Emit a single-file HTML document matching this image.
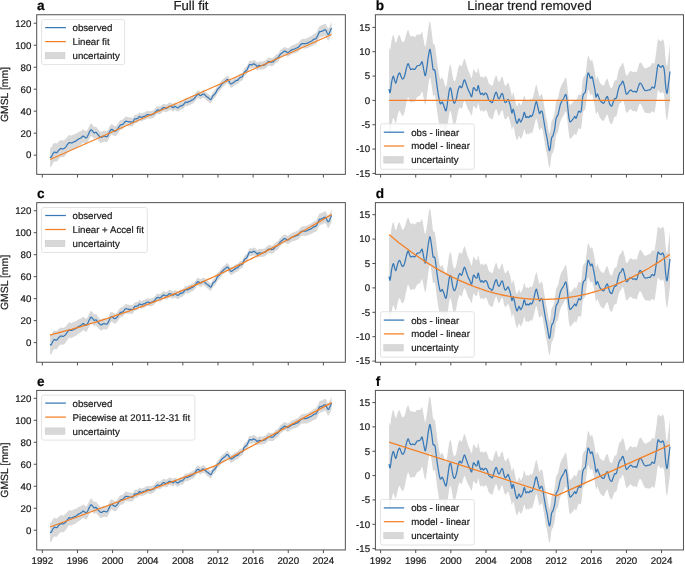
<!DOCTYPE html>
<html><head><meta charset="utf-8"><style>
html,body{margin:0;padding:0;background:#fff;}
body{width:685px;height:564px;overflow:hidden;}
svg{display:block;}
</style></head><body>
<svg width="685" height="564" viewBox="0 0 685 564" font-family='"Liberation Sans", sans-serif' text-rendering="geometricPrecision">
<rect width="685" height="564" fill="#fff"/>
<g opacity="0.999" filter="url(#soft)">
<defs><style>text{stroke:#1a1a1a;stroke-width:0.2px;stroke-linejoin:round}</style>
<clipPath id="cp00"><rect x="36.7" y="14.74" width="308.65" height="159.62"/></clipPath>
<clipPath id="cp01"><rect x="375.4" y="14.74" width="308.05" height="159.62"/></clipPath>
<clipPath id="cp10"><rect x="36.7" y="202.65" width="308.65" height="159.60"/></clipPath>
<clipPath id="cp11"><rect x="375.4" y="202.65" width="308.05" height="159.60"/></clipPath>
<clipPath id="cp20"><rect x="36.7" y="390.4" width="308.65" height="159.55"/></clipPath>
<clipPath id="cp21"><rect x="375.4" y="390.4" width="308.05" height="159.55"/></clipPath>
<filter id="soft" x="0" y="0" width="100%" height="100%" filterUnits="userSpaceOnUse" color-interpolation-filters="sRGB"><feGaussianBlur stdDeviation="0.3"/></filter>
</defs>
<g clip-path="url(#cp00)">
<polygon points="50.1,147.3 50.3,147.5 50.7,147.8 51.1,147.7 51.6,146.9 52.1,145.8 52.6,144.8 53.2,143.9 53.8,143.2 54.4,142.8 55.1,142.9 55.9,143.5 56.7,143.6 57.4,143.1 58.1,142.2 58.8,141.4 59.5,140.8 60.1,140.4 60.6,140.1 61.1,140.1 61.6,140.2 62.1,140.4 62.6,140.4 63.2,140.5 63.7,140.3 64.3,140.0 65.0,139.6 65.6,139.0 66.3,138.3 66.9,137.4 67.5,136.6 68.1,136.0 68.6,135.5 69.1,135.2 69.7,135.1 70.2,135.3 70.6,135.4 71.0,135.4 71.4,135.5 71.8,135.4 72.4,135.1 73.1,134.8 73.8,134.5 74.4,134.2 75.1,134.0 75.9,133.8 76.6,133.3 77.3,132.7 78.1,132.2 78.9,131.9 79.7,131.6 80.4,131.3 80.9,131.0 81.3,130.7 81.8,130.5 82.2,130.1 82.6,129.6 83.1,129.4 83.5,129.5 83.9,129.8 84.3,130.1 84.7,130.5 85.2,130.8 85.6,131.1 85.9,131.3 86.2,131.3 86.6,131.1 87.0,130.5 87.5,129.7 88.0,128.7 88.5,127.7 89.0,126.6 89.5,125.6 90.0,124.7 90.4,124.0 90.9,123.5 91.3,123.5 91.6,123.7 92.0,124.1 92.4,124.6 92.9,125.3 93.3,125.9 93.6,126.4 93.9,126.8 94.2,127.1 94.7,127.0 95.2,126.8 95.7,126.7 96.1,126.8 96.4,127.1 96.7,127.4 97.0,127.8 97.4,128.3 97.8,128.9 98.4,129.6 99.0,130.3 99.6,130.9 100.2,131.4 100.8,131.8 101.4,131.9 102.0,131.7 102.6,131.1 103.2,130.8 103.8,130.7 104.3,130.7 104.9,130.8 105.6,131.0 106.4,131.2 107.1,131.1 107.7,130.4 108.3,129.3 108.8,128.3 109.3,127.3 109.8,126.3 110.2,125.5 110.7,124.9 111.1,124.4 111.5,124.2 111.9,124.2 112.3,124.4 112.7,124.7 113.2,125.1 113.7,125.6 114.1,126.0 114.6,126.2 115.1,126.2 115.6,126.1 116.2,125.7 116.8,125.2 117.3,124.5 117.9,123.7 118.5,122.7 119.1,121.8 119.7,121.0 120.3,120.4 121.0,120.0 121.6,119.8 122.2,119.8 122.8,119.6 123.3,119.1 123.9,118.3 124.5,117.7 124.9,117.2 125.3,116.8 125.8,116.5 126.3,116.5 126.9,116.7 127.5,116.9 128.1,117.1 128.7,117.3 129.3,117.5 129.9,117.5 130.5,117.6 131.1,117.6 131.7,117.7 132.3,117.9 132.9,117.7 133.4,116.9 134.0,115.8 134.6,115.0 135.2,114.7 135.8,114.7 136.4,114.7 137.0,114.6 137.6,114.4 138.2,114.1 138.6,113.6 139.0,112.9 139.4,112.5 139.8,112.6 140.2,112.9 140.6,113.2 141.0,113.3 141.5,113.5 141.9,113.5 142.4,113.3 142.8,112.9 143.3,112.6 143.8,112.5 144.2,112.5 144.7,112.4 145.3,112.1 145.9,111.6 146.5,111.2 147.1,111.0 147.7,110.9 148.3,110.8 148.9,111.0 149.4,111.2 150.0,111.3 150.6,111.2 151.2,111.0 151.8,110.8 152.4,110.7 153.0,110.5 153.6,110.2 154.3,109.5 155.0,108.6 155.7,107.8 156.4,107.1 156.9,106.5 157.5,106.2 158.1,106.2 158.7,106.5 159.2,106.6 159.7,106.6 160.2,106.4 160.7,106.1 161.3,105.6 161.9,105.0 162.4,104.5 162.9,104.1 163.3,103.8 163.7,103.7 164.1,103.8 164.5,104.1 164.9,104.3 165.4,104.4 165.9,104.6 166.3,104.6 166.8,104.4 167.4,104.0 167.9,103.7 168.3,103.3 168.8,102.8 169.3,102.5 169.6,102.5 169.9,102.5 170.3,102.6 170.7,102.7 171.2,102.8 171.8,103.0 172.2,103.4 172.7,103.8 173.2,103.9 173.6,103.6 174.0,102.9 174.4,102.5 174.8,102.5 175.2,102.7 175.7,102.9 176.1,103.2 176.6,103.5 177.1,103.8 177.5,103.9 178.0,104.0 178.5,103.9 179.0,103.3 179.7,102.6 180.3,102.0 180.8,102.0 181.4,102.1 182.0,102.0 182.7,101.5 183.5,100.7 184.2,100.0 184.7,99.3 185.1,98.6 185.6,98.2 186.1,98.3 186.7,98.5 187.2,98.7 187.7,98.5 188.2,98.1 188.7,97.8 189.2,97.7 189.6,97.6 190.1,97.4 190.6,97.1 191.1,96.6 191.5,96.3 191.9,96.2 192.2,96.2 192.6,96.1 193.0,95.8 193.5,95.4 194.0,95.0 194.5,94.5 194.9,93.9 195.4,93.3 195.9,92.5 196.4,91.8 196.9,91.2 197.3,90.7 197.6,90.5 197.9,90.4 198.3,90.5 198.8,90.8 199.3,91.1 199.8,91.4 200.3,91.7 200.8,91.7 201.4,91.4 201.9,90.9 202.4,90.5 202.9,90.2 203.4,90.1 203.8,90.2 204.3,90.5 204.7,90.9 205.1,91.4 205.6,91.9 206.2,92.4 206.7,92.9 207.3,93.2 207.8,93.6 208.3,93.9 208.8,94.3 209.2,94.7 209.6,95.1 210.0,95.4 210.3,95.7 210.6,95.7 211.0,95.6 211.3,95.2 211.6,94.6 212.0,93.8 212.5,92.7 212.9,91.9 213.5,91.3 214.0,91.0 214.6,90.5 215.1,89.8 215.6,89.1 216.2,88.2 216.6,87.3 217.0,86.3 217.5,85.4 218.1,84.8 218.8,84.3 219.5,83.7 220.1,82.8 220.7,81.8 221.4,80.8 222.0,80.1 222.7,79.5 223.4,78.9 224.0,78.3 224.7,77.8 225.3,77.3 225.8,76.8 226.2,76.3 226.7,76.0 227.1,75.8 227.4,75.7 227.8,75.8 228.2,76.3 228.6,76.9 229.1,77.6 229.5,78.3 229.9,79.0 230.3,79.5 230.6,79.8 231.0,80.0 231.4,80.0 231.9,79.8 232.5,79.4 233.1,79.0 233.7,78.5 234.3,78.1 234.9,77.6 235.4,77.3 235.8,76.9 236.2,76.7 236.6,76.6 237.0,76.6 237.4,76.5 237.9,76.2 238.3,75.6 238.8,75.1 239.3,74.6 239.7,74.1 240.2,73.7 240.7,73.5 241.1,73.4 241.5,73.3 241.9,73.1 242.3,72.9 242.7,72.4 243.2,71.3 243.6,69.9 244.1,68.7 244.6,68.1 245.1,67.7 245.5,67.3 246.0,67.0 246.4,66.8 246.8,66.3 247.2,65.6 247.6,64.7 248.0,63.8 248.5,62.8 248.9,61.7 249.4,61.0 249.9,60.7 250.4,60.8 250.9,60.9 251.3,61.0 251.7,61.0 252.1,61.0 252.6,60.7 253.0,60.2 253.4,60.0 253.9,60.0 254.4,60.3 254.8,60.5 255.3,60.8 255.8,61.1 256.2,61.5 256.7,62.0 257.0,62.5 257.4,62.8 257.9,62.5 258.3,61.9 258.7,61.5 259.2,61.4 259.7,61.5 260.1,61.5 260.6,61.6 261.1,61.7 261.6,61.7 262.1,61.6 262.7,61.4 263.4,61.3 264.0,61.1 264.6,60.9 265.2,60.6 265.7,60.2 266.3,59.6 266.9,59.0 267.5,58.5 268.1,57.9 268.7,57.5 269.1,57.4 269.5,57.5 269.9,57.7 270.3,57.8 270.7,58.0 271.2,58.1 271.8,58.1 272.5,57.9 273.2,57.7 273.7,57.2 274.2,56.7 274.7,56.1 275.2,55.6 275.7,55.0 276.2,54.6 276.7,54.3 277.3,54.1 277.9,53.7 278.5,53.0 279.0,52.1 279.6,51.3 280.1,50.6 280.6,50.0 281.1,49.5 281.6,49.1 282.1,48.8 282.6,48.5 283.1,48.0 283.7,47.4 284.3,47.0 284.9,47.0 285.4,47.2 286.0,47.4 286.5,47.7 287.0,48.1 287.5,48.3 288.0,48.3 288.4,48.1 288.9,47.8 289.5,47.4 290.0,46.9 290.6,46.4 291.2,46.0 291.8,45.6 292.4,45.2 293.1,45.0 293.8,44.8 294.5,44.6 295.2,44.3 296.0,43.9 296.6,43.5 297.2,43.3 297.6,43.2 298.1,43.0 298.6,42.5 299.1,41.8 299.6,41.2 300.2,40.6 300.8,39.9 301.3,39.4 301.9,39.1 302.5,38.9 303.0,38.8 303.6,38.7 304.0,38.8 304.5,38.7 305.0,38.7 305.5,38.7 306.0,38.6 306.6,38.4 307.1,38.1 307.7,37.8 308.4,37.5 309.1,37.0 309.9,36.6 310.6,36.2 311.3,35.9 312.0,35.5 312.6,35.0 313.1,34.4 313.7,34.0 314.2,33.7 314.7,33.6 315.2,33.4 315.5,33.3 315.9,33.2 316.3,32.7 316.8,31.8 317.4,30.5 318.0,29.3 318.5,28.2 319.0,27.0 319.5,26.2 320.0,25.8 320.5,25.8 321.0,25.7 321.5,25.5 322.1,25.3 322.7,25.1 323.3,24.7 323.8,24.2 324.4,23.9 324.9,23.8 325.4,23.9 325.9,24.2 326.4,25.1 326.8,26.2 327.3,27.2 327.7,27.8 328.1,28.2 328.6,28.1 329.1,27.4 329.6,26.3 330.1,25.1 330.7,23.9 331.2,22.6 331.6,21.7 331.6,34.3 331.2,35.1 330.7,36.3 330.1,37.5 329.6,38.6 329.1,39.7 328.6,40.4 328.1,40.4 327.7,40.0 327.3,39.3 326.8,38.4 326.4,37.2 325.9,36.3 325.4,35.9 324.9,35.8 324.4,35.8 323.8,36.1 323.3,36.5 322.7,36.8 322.1,37.0 321.5,37.2 321.0,37.3 320.5,37.3 320.0,37.3 319.5,37.6 319.0,38.4 318.5,39.5 318.0,40.6 317.4,41.8 316.8,43.0 316.3,43.9 315.9,44.3 315.5,44.4 315.2,44.5 314.7,44.6 314.2,44.7 313.7,44.9 313.1,45.3 312.6,45.7 312.0,46.1 311.3,46.4 310.6,46.7 309.9,47.0 309.1,47.3 308.4,47.7 307.7,47.9 307.1,48.2 306.6,48.3 306.0,48.4 305.5,48.5 305.0,48.5 304.5,48.4 304.0,48.4 303.6,48.3 303.0,48.3 302.5,48.3 301.9,48.4 301.3,48.7 300.8,49.1 300.2,49.7 299.6,50.3 299.1,50.9 298.6,51.5 298.1,52.0 297.6,52.2 297.2,52.3 296.6,52.4 296.0,52.7 295.2,53.1 294.5,53.4 293.8,53.6 293.1,53.7 292.4,53.9 291.8,54.2 291.2,54.5 290.6,54.9 290.0,55.3 289.5,55.8 288.9,56.2 288.4,56.5 288.0,56.6 287.5,56.7 287.0,56.5 286.5,56.1 286.0,55.8 285.4,55.5 284.9,55.3 284.3,55.3 283.7,55.7 283.1,56.2 282.6,56.8 282.1,57.1 281.6,57.4 281.1,57.7 280.6,58.3 280.1,58.8 279.6,59.5 279.0,60.3 278.5,61.2 277.9,61.9 277.3,62.3 276.7,62.5 276.2,62.8 275.7,63.2 275.2,63.8 274.7,64.3 274.2,64.9 273.7,65.4 273.2,65.8 272.5,66.1 271.8,66.2 271.2,66.2 270.7,66.1 270.3,66.0 269.9,65.8 269.5,65.7 269.1,65.5 268.7,65.6 268.1,66.0 267.5,66.5 266.9,67.1 266.3,67.6 265.7,68.2 265.2,68.6 264.6,68.9 264.0,69.1 263.4,69.2 262.7,69.4 262.1,69.5 261.6,69.6 261.1,69.6 260.6,69.5 260.1,69.4 259.7,69.3 259.2,69.3 258.7,69.3 258.3,69.7 257.9,70.3 257.4,70.6 257.0,70.3 256.7,69.8 256.2,69.3 255.8,68.9 255.3,68.6 254.8,68.3 254.4,68.0 253.9,67.8 253.4,67.7 253.0,67.9 252.6,68.4 252.1,68.7 251.7,68.7 251.3,68.6 250.9,68.6 250.4,68.5 249.9,68.4 249.4,68.7 248.9,69.4 248.5,70.5 248.0,71.5 247.6,72.4 247.2,73.3 246.8,74.0 246.4,74.4 246.0,74.7 245.5,75.0 245.1,75.4 244.6,75.8 244.1,76.4 243.6,77.6 243.2,79.0 242.7,80.1 242.3,80.6 241.9,80.8 241.5,81.0 241.1,81.1 240.7,81.2 240.2,81.4 239.7,81.8 239.3,82.3 238.8,82.8 238.3,83.3 237.9,83.8 237.4,84.2 237.0,84.3 236.6,84.3 236.2,84.3 235.8,84.6 235.4,84.9 234.9,85.3 234.3,85.7 233.7,86.2 233.1,86.6 232.5,87.1 231.9,87.5 231.4,87.7 231.0,87.7 230.6,87.5 230.3,87.2 229.9,86.6 229.5,86.0 229.1,85.3 228.6,84.6 228.2,83.9 227.8,83.5 227.4,83.3 227.1,83.4 226.7,83.6 226.2,84.0 225.8,84.5 225.3,85.0 224.7,85.5 224.0,86.0 223.4,86.5 222.7,87.1 222.0,87.8 221.4,88.5 220.7,89.4 220.1,90.4 219.5,91.3 218.8,92.0 218.1,92.5 217.5,93.1 217.0,94.0 216.6,95.0 216.2,95.9 215.6,96.7 215.1,97.5 214.6,98.1 214.0,98.6 213.5,99.0 212.9,99.5 212.5,100.4 212.0,101.4 211.6,102.3 211.3,102.9 211.0,103.2 210.6,103.4 210.3,103.3 210.0,103.1 209.6,102.7 209.2,102.4 208.8,102.0 208.3,101.5 207.8,101.2 207.3,100.9 206.7,100.5 206.2,100.0 205.6,99.5 205.1,99.0 204.7,98.5 204.3,98.1 203.8,97.8 203.4,97.8 202.9,97.9 202.4,98.1 201.9,98.5 201.4,99.1 200.8,99.4 200.3,99.3 199.8,99.0 199.3,98.7 198.8,98.4 198.3,98.1 197.9,98.0 197.6,98.1 197.3,98.4 196.9,98.8 196.4,99.4 195.9,100.2 195.4,100.9 194.9,101.5 194.5,102.1 194.0,102.6 193.5,103.1 193.0,103.4 192.6,103.7 192.2,103.8 191.9,103.8 191.5,104.0 191.1,104.3 190.6,104.7 190.1,105.0 189.6,105.2 189.2,105.3 188.7,105.4 188.2,105.7 187.7,106.1 187.2,106.3 186.7,106.2 186.1,105.9 185.6,105.8 185.1,106.3 184.7,106.9 184.2,107.6 183.5,108.4 182.7,109.1 182.0,109.6 181.4,109.7 180.8,109.6 180.3,109.7 179.7,110.2 179.0,110.9 178.5,111.5 178.0,111.6 177.5,111.6 177.1,111.4 176.6,111.1 176.1,110.8 175.7,110.5 175.2,110.3 174.8,110.1 174.4,110.1 174.0,110.5 173.6,111.2 173.2,111.5 172.7,111.4 172.2,111.0 171.8,110.6 171.2,110.4 170.7,110.3 170.3,110.2 169.9,110.1 169.6,110.1 169.3,110.1 168.8,110.4 168.3,110.9 167.9,111.3 167.4,111.6 166.8,112.0 166.3,112.2 165.9,112.2 165.4,112.0 164.9,111.9 164.5,111.6 164.1,111.4 163.7,111.3 163.3,111.4 162.9,111.7 162.4,112.1 161.9,112.6 161.3,113.2 160.7,113.7 160.2,114.0 159.7,114.2 159.2,114.2 158.7,114.0 158.1,113.8 157.5,113.7 156.9,114.1 156.4,114.7 155.7,115.4 155.0,116.2 154.3,117.1 153.6,117.8 153.0,118.1 152.4,118.3 151.8,118.4 151.2,118.6 150.6,118.8 150.0,118.9 149.4,118.8 148.9,118.6 148.3,118.5 147.7,118.5 147.1,118.7 146.5,118.9 145.9,119.3 145.3,119.7 144.7,120.1 144.2,120.2 143.8,120.2 143.3,120.3 142.8,120.6 142.4,121.0 141.9,121.3 141.5,121.3 141.0,121.2 140.6,121.0 140.2,120.8 139.8,120.5 139.4,120.5 139.0,120.9 138.6,121.6 138.2,122.2 137.6,122.5 137.0,122.7 136.4,122.8 135.8,122.9 135.2,123.0 134.6,123.3 134.0,124.2 133.4,125.3 132.9,126.1 132.3,126.4 131.7,126.3 131.1,126.2 130.5,126.3 129.9,126.3 129.3,126.4 128.7,126.3 128.1,126.2 127.5,126.1 126.9,126.0 126.3,125.9 125.8,126.0 125.3,126.3 124.9,126.7 124.5,127.2 123.9,127.9 123.3,128.6 122.8,129.2 122.2,129.4 121.6,129.4 121.0,129.6 120.3,130.1 119.7,130.7 119.1,131.5 118.5,132.4 117.9,133.4 117.3,134.3 116.8,135.0 116.2,135.6 115.6,136.0 115.1,136.2 114.6,136.2 114.1,136.1 113.7,135.7 113.2,135.3 112.7,135.0 112.3,134.7 111.9,134.5 111.5,134.6 111.1,134.9 110.7,135.4 110.2,136.0 109.8,136.9 109.3,137.9 108.8,138.9 108.3,140.0 107.7,141.2 107.1,142.0 106.4,142.2 105.6,142.0 104.9,141.8 104.3,141.8 103.8,141.7 103.2,141.8 102.6,142.2 102.0,142.7 101.4,143.0 100.8,142.9 100.2,142.5 99.6,142.0 99.0,141.4 98.4,140.7 97.8,140.1 97.4,139.5 97.0,139.0 96.7,138.6 96.4,138.3 96.1,138.1 95.7,138.0 95.2,138.3 94.7,138.6 94.2,138.8 93.9,138.7 93.6,138.3 93.3,137.9 92.9,137.4 92.4,136.9 92.0,136.5 91.6,136.3 91.3,136.1 90.9,136.2 90.4,136.7 90.0,137.5 89.5,138.4 89.0,139.5 88.5,140.6 88.0,141.7 87.5,142.7 87.0,143.6 86.6,144.2 86.2,144.4 85.9,144.4 85.6,144.2 85.2,144.0 84.7,143.6 84.3,143.3 83.9,143.1 83.5,142.9 83.1,142.8 82.6,143.1 82.2,143.6 81.8,144.1 81.3,144.4 80.9,144.7 80.4,145.1 79.7,145.5 78.9,145.9 78.1,146.4 77.3,147.0 76.6,147.8 75.9,148.4 75.1,148.7 74.4,149.0 73.8,149.3 73.1,149.7 72.4,150.1 71.8,150.3 71.4,150.5 71.0,150.5 70.6,150.4 70.2,150.3 69.7,150.2 69.1,150.3 68.6,150.7 68.1,151.4 67.5,152.2 66.9,153.2 66.3,154.2 65.6,155.2 65.0,155.9 64.3,156.5 63.7,156.9 63.2,157.1 62.6,157.2 62.1,157.2 61.6,157.2 61.1,157.1 60.6,157.2 60.1,157.5 59.5,158.1 58.8,158.9 58.1,159.9 57.4,161.0 56.7,161.7 55.9,161.8 55.1,161.5 54.4,161.5 53.8,162.0 53.2,162.9 52.6,163.8 52.1,164.9 51.6,166.1 51.1,166.9 50.7,167.1 50.3,166.8 50.1,166.6" fill="#d8d8d8" stroke="none"/>
<polyline points="50.1,156.9 50.3,157.2 50.7,157.4 51.1,157.3 51.6,156.5 52.1,155.4 52.6,154.3 53.2,153.4 53.8,152.6 54.4,152.1 55.1,152.2 55.9,152.6 56.7,152.7 57.4,152.0 58.1,151.0 58.8,150.1 59.5,149.5 60.1,149.0 60.6,148.6 61.1,148.6 61.6,148.7 62.1,148.8 62.6,148.8 63.2,148.8 63.7,148.6 64.3,148.3 65.0,147.7 65.6,147.1 66.3,146.3 66.9,145.3 67.5,144.4 68.1,143.7 68.6,143.1 69.1,142.7 69.7,142.7 70.2,142.8 70.6,142.9 71.0,142.9 71.4,143.0 71.8,142.9 72.4,142.6 73.1,142.2 73.8,141.9 74.4,141.6 75.1,141.4 75.9,141.1 76.6,140.5 77.3,139.9 78.1,139.3 78.9,138.9 79.7,138.5 80.4,138.2 80.9,137.9 81.3,137.6 81.8,137.3 82.2,136.8 82.6,136.4 83.1,136.1 83.5,136.2 83.9,136.4 84.3,136.7 84.7,137.0 85.2,137.4 85.6,137.7 85.9,137.8 86.2,137.9 86.6,137.7 87.0,137.1 87.5,136.2 88.0,135.2 88.5,134.2 89.0,133.0 89.5,132.0 90.0,131.1 90.4,130.3 90.9,129.9 91.3,129.8 91.6,130.0 92.0,130.3 92.4,130.8 92.9,131.4 93.3,131.9 93.6,132.3 93.9,132.7 94.2,132.9 94.7,132.8 95.2,132.5 95.7,132.3 96.1,132.4 96.4,132.7 96.7,133.0 97.0,133.4 97.4,133.9 97.8,134.5 98.4,135.1 99.0,135.9 99.6,136.5 100.2,137.0 100.8,137.4 101.4,137.5 102.0,137.2 102.6,136.7 103.2,136.3 103.8,136.2 104.3,136.2 104.9,136.3 105.6,136.5 106.4,136.7 107.1,136.6 107.7,135.8 108.3,134.7 108.8,133.6 109.3,132.6 109.8,131.6 110.2,130.7 110.7,130.1 111.1,129.6 111.5,129.4 111.9,129.4 112.3,129.6 112.7,129.8 113.2,130.2 113.7,130.7 114.1,131.0 114.6,131.2 115.1,131.2 115.6,131.0 116.2,130.7 116.8,130.1 117.3,129.4 117.9,128.5 118.5,127.5 119.1,126.6 119.7,125.9 120.3,125.3 121.0,124.8 121.6,124.6 122.2,124.6 122.8,124.4 123.3,123.8 123.9,123.1 124.5,122.4 124.9,121.9 125.3,121.5 125.8,121.3 126.3,121.2 126.9,121.4 127.5,121.5 128.1,121.7 128.7,121.8 129.3,121.9 129.9,121.9 130.5,121.9 131.1,121.9 131.7,122.0 132.3,122.1 132.9,121.9 133.4,121.1 134.0,120.0 134.6,119.1 135.2,118.8 135.8,118.8 136.4,118.8 137.0,118.6 137.6,118.4 138.2,118.2 138.6,117.6 139.0,116.9 139.4,116.5 139.8,116.5 140.2,116.8 140.6,117.1 141.0,117.3 141.5,117.4 141.9,117.4 142.4,117.1 142.8,116.8 143.3,116.5 143.8,116.4 144.2,116.4 144.7,116.3 145.3,115.9 145.9,115.4 146.5,115.0 147.1,114.8 147.7,114.7 148.3,114.7 148.9,114.8 149.4,115.0 150.0,115.1 150.6,115.0 151.2,114.8 151.8,114.6 152.4,114.5 153.0,114.3 153.6,114.0 154.3,113.3 155.0,112.4 155.7,111.6 156.4,110.9 156.9,110.3 157.5,109.9 158.1,110.0 158.7,110.2 159.2,110.4 159.7,110.4 160.2,110.2 160.7,109.9 161.3,109.4 161.9,108.8 162.4,108.3 162.9,107.9 163.3,107.6 163.7,107.5 164.1,107.6 164.5,107.8 164.9,108.1 165.4,108.2 165.9,108.4 166.3,108.4 166.8,108.2 167.4,107.8 167.9,107.5 168.3,107.1 168.8,106.6 169.3,106.3 169.6,106.3 169.9,106.3 170.3,106.4 170.7,106.5 171.2,106.6 171.8,106.8 172.2,107.2 172.7,107.6 173.2,107.7 173.6,107.4 174.0,106.7 174.4,106.3 174.8,106.3 175.2,106.5 175.7,106.7 176.1,107.0 176.6,107.3 177.1,107.6 177.5,107.7 178.0,107.8 178.5,107.7 179.0,107.1 179.7,106.4 180.3,105.9 180.8,105.8 181.4,105.9 182.0,105.8 182.7,105.3 183.5,104.5 184.2,103.8 184.7,103.1 185.1,102.5 185.6,102.0 186.1,102.1 186.7,102.3 187.2,102.5 187.7,102.3 188.2,101.9 188.7,101.6 189.2,101.5 189.6,101.4 190.1,101.2 190.6,100.9 191.1,100.5 191.5,100.1 191.9,100.0 192.2,100.0 192.6,99.9 193.0,99.6 193.5,99.2 194.0,98.8 194.5,98.3 194.9,97.7 195.4,97.1 195.9,96.4 196.4,95.6 196.9,95.0 197.3,94.6 197.6,94.3 197.9,94.2 198.3,94.3 198.8,94.6 199.3,94.9 199.8,95.2 200.3,95.5 200.8,95.6 201.4,95.2 201.9,94.7 202.4,94.3 202.9,94.1 203.4,94.0 203.8,94.0 204.3,94.3 204.7,94.7 205.1,95.2 205.6,95.7 206.2,96.2 206.7,96.7 207.3,97.1 207.8,97.4 208.3,97.7 208.8,98.1 209.2,98.5 209.6,98.9 210.0,99.2 210.3,99.5 210.6,99.6 211.0,99.4 211.3,99.0 211.6,98.5 212.0,97.6 212.5,96.6 212.9,95.7 213.5,95.2 214.0,94.8 214.6,94.3 215.1,93.6 215.6,92.9 216.2,92.1 216.6,91.1 217.0,90.1 217.5,89.3 218.1,88.6 218.8,88.1 219.5,87.5 220.1,86.6 220.7,85.6 221.4,84.7 222.0,83.9 222.7,83.3 223.4,82.7 224.0,82.2 224.7,81.7 225.3,81.2 225.8,80.7 226.2,80.2 226.7,79.8 227.1,79.6 227.4,79.5 227.8,79.6 228.2,80.1 228.6,80.8 229.1,81.4 229.5,82.1 229.9,82.8 230.3,83.3 230.6,83.7 231.0,83.8 231.4,83.8 231.9,83.6 232.5,83.2 233.1,82.8 233.7,82.4 234.3,81.9 234.9,81.5 235.4,81.1 235.8,80.8 236.2,80.5 236.6,80.4 237.0,80.5 237.4,80.4 237.9,80.0 238.3,79.5 238.8,78.9 239.3,78.4 239.7,77.9 240.2,77.5 240.7,77.3 241.1,77.3 241.5,77.1 241.9,77.0 242.3,76.7 242.7,76.2 243.2,75.1 243.6,73.7 244.1,72.6 244.6,71.9 245.1,71.5 245.5,71.1 246.0,70.9 246.4,70.6 246.8,70.2 247.2,69.5 247.6,68.6 248.0,67.6 248.5,66.6 248.9,65.6 249.4,64.8 249.9,64.6 250.4,64.7 250.9,64.7 251.3,64.8 251.7,64.9 252.1,64.8 252.6,64.5 253.0,64.1 253.4,63.8 253.9,63.9 254.4,64.1 254.8,64.4 255.3,64.7 255.8,65.0 256.2,65.4 256.7,65.9 257.0,66.4 257.4,66.7 257.9,66.4 258.3,65.8 258.7,65.4 259.2,65.3 259.7,65.4 260.1,65.5 260.6,65.5 261.1,65.6 261.6,65.6 262.1,65.5 262.7,65.4 263.4,65.2 264.0,65.1 264.6,64.9 265.2,64.6 265.7,64.2 266.3,63.6 266.9,63.1 267.5,62.5 268.1,61.9 268.7,61.6 269.1,61.5 269.5,61.6 269.9,61.7 270.3,61.9 270.7,62.1 271.2,62.2 271.8,62.1 272.5,62.0 273.2,61.8 273.7,61.3 274.2,60.8 274.7,60.2 275.2,59.7 275.7,59.1 276.2,58.7 276.7,58.4 277.3,58.2 277.9,57.8 278.5,57.1 279.0,56.2 279.6,55.4 280.1,54.7 280.6,54.1 281.1,53.6 281.6,53.2 282.1,53.0 282.6,52.6 283.1,52.1 283.7,51.5 284.3,51.1 284.9,51.1 285.4,51.3 286.0,51.6 286.5,51.9 287.0,52.3 287.5,52.5 288.0,52.5 288.4,52.3 288.9,52.0 289.5,51.6 290.0,51.1 290.6,50.6 291.2,50.2 291.8,49.9 292.4,49.6 293.1,49.3 293.8,49.2 294.5,49.0 295.2,48.7 296.0,48.3 296.6,48.0 297.2,47.8 297.6,47.7 298.1,47.5 298.6,47.0 299.1,46.4 299.6,45.8 300.2,45.1 300.8,44.5 301.3,44.1 301.9,43.8 302.5,43.6 303.0,43.6 303.6,43.5 304.0,43.6 304.5,43.6 305.0,43.6 305.5,43.6 306.0,43.5 306.6,43.4 307.1,43.1 307.7,42.9 308.4,42.6 309.1,42.2 309.9,41.8 310.6,41.5 311.3,41.2 312.0,40.8 312.6,40.3 313.1,39.8 313.7,39.4 314.2,39.2 314.7,39.1 315.2,39.0 315.5,38.9 315.9,38.7 316.3,38.3 316.8,37.4 317.4,36.2 318.0,35.0 318.5,33.8 319.0,32.7 319.5,31.9 320.0,31.6 320.5,31.5 321.0,31.5 321.5,31.4 322.1,31.2 322.7,31.0 323.3,30.6 323.8,30.1 324.4,29.9 324.9,29.8 325.4,29.9 325.9,30.3 326.4,31.1 326.8,32.3 327.3,33.3 327.7,33.9 328.1,34.3 328.6,34.3 329.1,33.6 329.6,32.4 330.1,31.3 330.7,30.1 331.2,28.8 331.6,28.0" fill="none" stroke="#3778b6" stroke-width="1.25" stroke-linejoin="round" stroke-linecap="butt"/>
<polyline points="50.1,159.5 331.6,34.5" fill="none" stroke="#f38026" stroke-width="1.3" stroke-linejoin="round"/>
</g>
<rect x="36.7" y="14.74" width="308.65" height="159.62" fill="none" stroke="#505050" stroke-width="1.0"/>
<path d="M42.30 174.36v3.2 M77.44 174.36v3.2 M112.57 174.36v3.2 M147.71 174.36v3.2 M182.84 174.36v3.2 M217.98 174.36v3.2 M253.12 174.36v3.2 M288.25 174.36v3.2 M323.39 174.36v3.2 M36.70 155.14h-3.0 M36.70 133.16h-3.0 M36.70 111.18h-3.0 M36.70 89.20h-3.0 M36.70 67.22h-3.0 M36.70 45.24h-3.0 M36.70 23.26h-3.0" stroke="#505050" stroke-width="1.0" fill="none"/>
<text x="31.35" y="158.49" font-size="9.7" text-anchor="end" fill="#1a1a1a">0</text>
<text x="31.35" y="136.51" font-size="9.7" text-anchor="end" fill="#1a1a1a">20</text>
<text x="31.35" y="114.53" font-size="9.7" text-anchor="end" fill="#1a1a1a">40</text>
<text x="31.35" y="92.55" font-size="9.7" text-anchor="end" fill="#1a1a1a">60</text>
<text x="31.35" y="70.57" font-size="9.7" text-anchor="end" fill="#1a1a1a">80</text>
<text x="31.35" y="48.59" font-size="9.7" text-anchor="end" fill="#1a1a1a">100</text>
<text x="31.35" y="26.61" font-size="9.7" text-anchor="end" fill="#1a1a1a">120</text>
<text x="37.10" y="10.44" font-size="13.6" font-weight="bold" fill="#000">a</text>
<text transform="translate(7.6 94.55) rotate(-90)" font-size="10.4" text-anchor="middle" fill="#1a1a1a">GMSL [mm]</text>
<g clip-path="url(#cp01)">
<polygon points="389.1,46.2 389.3,47.6 389.7,49.6 390.1,50.1 390.6,47.6 391.1,43.6 391.6,40.1 392.2,37.5 392.8,35.4 393.4,34.7 394.1,37.0 394.9,40.8 395.7,43.1 396.4,42.0 397.1,39.4 397.8,37.2 398.4,36.0 399.0,35.3 399.6,35.1 400.1,36.1 400.6,37.8 401.1,39.3 401.6,40.6 402.1,41.8 402.7,42.3 403.3,42.1 404.0,41.5 404.6,40.3 405.2,38.2 405.9,35.6 406.5,33.4 407.1,31.8 407.6,30.6 408.1,30.1 408.6,30.8 409.1,32.5 409.6,34.0 410.0,35.0 410.4,35.9 410.8,36.4 411.4,36.4 412.0,36.1 412.7,36.0 413.4,36.3 414.1,36.9 414.8,37.1 415.5,36.5 416.3,35.4 417.0,34.6 417.8,34.6 418.6,34.7 419.3,34.8 419.8,34.7 420.3,34.4 420.7,34.1 421.1,33.2 421.6,32.2 422.0,32.0 422.4,33.2 422.8,35.2 423.2,37.4 423.6,39.8 424.1,42.4 424.5,44.4 424.8,45.9 425.1,46.7 425.5,46.5 425.9,44.7 426.4,41.8 426.9,38.6 427.4,35.0 427.9,31.1 428.4,27.6 428.9,24.7 429.4,22.3 429.8,21.1 430.2,21.8 430.5,23.6 430.9,26.1 431.3,29.2 431.8,33.0 432.2,36.3 432.5,39.1 432.8,41.6 433.1,43.4 433.6,44.1 434.1,44.2 434.6,44.7 435.0,46.1 435.3,47.8 435.6,49.9 435.9,52.4 436.3,55.3 436.7,58.7 437.2,62.7 437.9,67.2 438.5,71.1 439.1,74.5 439.7,77.4 440.3,79.2 440.9,79.2 441.5,78.1 442.1,77.5 442.7,78.3 443.2,79.6 443.8,81.1 444.5,83.4 445.3,86.0 446.0,86.9 446.6,84.9 447.2,81.2 447.7,77.5 448.2,74.1 448.7,70.7 449.1,68.0 449.5,66.2 450.0,65.1 450.4,64.8 450.8,65.7 451.2,67.4 451.6,69.5 452.0,72.2 452.5,75.4 453.0,77.9 453.5,79.7 454.0,80.9 454.5,81.3 455.0,80.9 455.6,79.6 456.2,77.7 456.8,75.0 457.4,71.8 458.0,69.0 458.6,67.0 459.2,65.5 459.8,64.7 460.4,65.1 461.0,66.3 461.6,66.6 462.2,65.3 462.8,63.2 463.3,61.4 463.7,60.1 464.2,59.1 464.6,58.8 465.1,59.9 465.7,61.8 466.3,63.9 466.9,65.9 467.5,68.0 468.1,69.9 468.7,71.4 469.3,72.7 469.9,74.0 470.5,75.8 471.1,77.6 471.7,78.0 472.3,75.7 472.8,71.9 473.4,69.4 474.0,69.4 474.6,70.5 475.2,71.5 475.8,72.2 476.4,72.8 477.0,72.7 477.4,71.2 477.8,69.0 478.2,67.9 478.6,69.0 479.0,71.1 479.4,73.1 479.8,74.8 480.3,76.3 480.7,77.2 481.2,77.1 481.6,76.5 482.1,76.1 482.6,76.6 483.0,77.4 483.5,77.9 484.1,77.4 484.7,76.6 485.3,76.1 485.9,76.3 486.5,77.0 487.1,78.0 487.7,79.6 488.2,81.7 488.8,83.3 489.4,84.0 490.0,84.4 490.6,84.6 491.2,85.3 491.8,85.9 492.4,85.7 493.1,83.9 493.8,81.3 494.5,79.0 495.1,77.2 495.7,75.8 496.3,75.4 496.9,76.7 497.5,79.0 498.0,80.8 498.5,81.6 499.0,81.9 499.5,81.6 500.1,80.5 500.7,78.9 501.2,77.6 501.7,76.9 502.1,76.6 502.5,76.9 502.9,78.1 503.3,79.9 503.7,81.6 504.1,83.2 504.6,84.7 505.1,85.7 505.6,85.8 506.1,85.3 506.6,84.7 507.1,83.9 507.6,82.9 508.0,82.5 508.3,82.8 508.6,83.6 509.0,84.7 509.5,86.0 510.0,87.7 510.5,89.6 511.0,92.1 511.5,94.8 511.9,96.4 512.3,95.5 512.7,93.4 513.1,92.3 513.5,93.0 514.0,94.7 514.4,96.7 514.9,98.9 515.3,101.3 515.8,103.4 516.3,104.9 516.7,106.1 517.2,106.4 517.8,105.2 518.4,103.2 519.0,101.9 519.6,102.7 520.1,104.4 520.7,105.1 521.4,104.2 522.2,102.5 522.9,100.6 523.4,98.6 523.8,96.4 524.3,95.4 524.8,96.6 525.4,99.0 525.9,100.6 526.4,100.7 526.9,100.1 527.4,99.7 527.9,100.0 528.3,100.5 528.8,100.6 529.3,100.1 529.8,99.2 530.2,98.7 530.6,98.9 530.9,99.5 531.3,99.7 531.7,99.4 532.2,98.7 532.7,97.7 533.2,96.3 533.6,94.7 534.1,92.8 534.6,90.6 535.1,88.2 535.6,86.4 536.0,85.3 536.3,84.7 536.6,85.0 537.0,86.4 537.5,88.7 538.0,90.9 538.5,93.1 539.0,95.4 539.5,96.7 540.0,96.3 540.6,95.0 541.1,94.2 541.6,94.2 542.0,94.6 542.5,95.8 542.9,97.9 543.3,100.6 543.8,103.6 544.3,106.7 544.9,110.1 545.4,113.3 545.9,116.0 546.5,118.5 547.0,121.1 547.5,123.8 547.9,126.5 548.3,128.9 548.7,131.0 549.0,132.8 549.3,133.8 549.6,133.6 549.9,132.6 550.3,130.9 550.7,127.9 551.1,124.1 551.6,121.1 552.1,119.7 552.7,119.2 553.2,118.2 553.7,116.3 554.3,114.0 554.8,111.4 555.2,108.1 555.6,104.5 556.1,101.6 556.7,100.0 557.4,99.1 558.1,97.6 558.7,94.9 559.4,91.7 560.0,88.8 560.7,86.9 561.3,85.4 562.0,84.0 562.7,82.9 563.3,82.0 563.9,81.0 564.4,79.8 564.9,78.5 565.3,77.7 565.7,77.5 566.0,77.8 566.4,79.1 566.8,82.0 567.3,85.8 567.7,89.7 568.1,93.5 568.5,97.3 568.9,100.4 569.3,102.6 569.6,104.0 570.0,104.8 570.5,104.9 571.1,104.3 571.7,103.6 572.3,102.9 572.9,102.1 573.5,101.3 574.0,100.5 574.4,99.8 574.8,99.5 575.2,100.0 575.6,101.0 576.0,101.3 576.5,100.5 576.9,99.1 577.4,97.7 577.9,96.4 578.3,95.0 578.8,94.2 579.2,94.3 579.7,94.8 580.1,95.1 580.5,95.1 580.9,94.8 581.3,93.3 581.8,89.3 582.2,84.1 582.7,80.0 583.2,78.0 583.6,77.1 584.1,76.4 584.5,75.9 585.0,75.7 585.4,74.7 585.8,72.3 586.2,69.1 586.6,65.8 587.0,62.1 587.5,58.3 588.0,56.0 588.5,55.9 589.0,57.3 589.5,58.7 589.9,59.7 590.3,60.8 590.7,61.4 591.1,60.8 591.6,59.8 592.0,59.5 592.5,60.7 592.9,62.6 593.4,64.7 593.9,66.9 594.3,69.3 594.8,71.8 595.2,74.8 595.6,77.8 596.0,79.7 596.4,79.3 596.9,77.6 597.3,76.6 597.8,77.1 598.2,78.3 598.7,79.6 599.2,80.7 599.6,81.9 600.1,83.0 600.7,83.7 601.3,84.2 601.9,84.7 602.5,85.2 603.1,85.6 603.7,85.5 604.3,84.6 604.8,83.1 605.4,81.8 606.0,80.4 606.6,79.2 607.2,78.6 607.6,79.1 608.0,80.3 608.4,81.6 608.8,83.1 609.2,84.7 609.7,86.1 610.3,87.1 611.0,88.0 611.7,88.1 612.2,87.2 612.7,85.7 613.2,84.2 613.7,82.8 614.2,81.4 614.7,80.3 615.3,80.2 615.8,80.4 616.4,79.9 617.0,77.8 617.5,74.9 618.1,72.3 618.6,70.4 619.1,68.7 619.6,67.4 620.1,66.7 620.6,66.4 621.1,65.9 621.7,64.7 622.2,63.2 622.8,62.7 623.4,63.8 623.9,65.8 624.5,68.0 625.0,70.4 625.5,73.0 626.0,74.9 626.5,75.6 626.9,75.6 627.4,75.2 627.9,74.4 628.5,73.3 629.1,72.4 629.7,71.7 630.3,71.1 630.9,70.8 631.6,71.2 632.3,71.8 633.0,72.2 633.7,72.1 634.4,71.7 635.1,71.5 635.6,71.8 636.1,72.3 636.6,72.1 637.1,70.8 637.6,69.0 638.1,67.2 638.7,65.5 639.2,63.8 639.8,62.7 640.4,62.4 640.9,62.7 641.5,63.3 642.0,64.0 642.5,65.0 643.0,66.0 643.5,66.8 644.0,67.6 644.5,68.1 645.0,68.3 645.6,68.3 646.2,68.2 646.9,67.9 647.6,67.4 648.3,67.0 649.0,66.7 649.7,66.5 650.4,66.0 651.0,65.0 651.6,63.7 652.1,62.9 652.6,62.8 653.1,63.2 653.6,63.4 654.0,63.5 654.3,63.5 654.7,62.3 655.2,59.1 655.8,54.8 656.4,50.6 656.9,46.5 657.4,42.5 657.9,39.7 658.4,39.1 658.9,39.8 659.4,40.5 660.0,40.8 660.5,41.2 661.1,41.2 661.7,40.5 662.2,39.6 662.8,39.3 663.3,39.9 663.8,41.2 664.3,43.7 664.8,48.5 665.2,54.5 665.7,59.5 666.1,63.0 666.6,65.6 667.0,66.2 667.5,64.0 668.0,59.9 668.5,55.7 669.1,51.4 669.6,46.9 670.0,43.7 670.0,99.3 669.6,102.3 669.1,106.6 668.5,110.7 668.0,114.8 667.5,118.6 667.0,120.6 666.6,119.8 666.1,117.1 665.7,113.3 665.2,108.2 664.8,102.0 664.3,97.1 663.8,94.3 663.3,92.9 662.8,92.1 662.2,92.1 661.7,92.8 661.1,93.2 660.5,93.0 660.0,92.4 659.4,91.9 658.9,91.0 658.4,90.1 657.9,90.5 657.4,93.0 656.9,96.9 656.4,100.8 655.8,104.8 655.2,108.8 654.7,111.7 654.3,112.8 654.0,112.7 653.6,112.4 653.1,112.0 652.6,111.4 652.1,111.1 651.6,111.7 651.0,112.6 650.4,113.2 649.7,113.3 649.0,113.2 648.3,113.0 647.6,113.0 646.9,113.1 646.2,113.0 645.6,112.8 645.0,112.4 644.5,111.9 644.0,111.0 643.5,110.0 643.0,108.8 642.5,107.6 642.0,106.4 641.5,105.3 640.9,104.4 640.4,103.8 639.8,103.7 639.2,104.6 638.7,106.1 638.1,107.6 637.6,109.3 637.1,111.0 636.6,112.1 636.1,112.1 635.6,111.5 635.1,111.1 634.4,111.1 633.7,111.3 633.0,111.2 632.3,110.5 631.6,109.7 630.9,109.2 630.3,109.2 629.7,109.6 629.1,110.2 628.5,111.0 627.9,111.9 627.4,112.4 626.9,112.7 626.5,112.6 626.0,111.9 625.5,110.0 625.0,107.3 624.5,104.8 623.9,102.6 623.4,100.6 622.8,99.5 622.2,100.0 621.7,101.4 621.1,102.7 620.6,103.1 620.1,103.4 619.6,104.0 619.1,105.3 618.6,106.9 618.1,108.9 617.5,111.4 617.0,114.3 616.4,116.3 615.8,116.8 615.3,116.6 614.7,116.7 614.2,117.7 613.7,119.0 613.2,120.4 612.7,121.9 612.2,123.4 611.7,124.3 611.0,124.1 610.3,123.3 609.7,122.1 609.2,120.7 608.8,119.1 608.4,117.6 608.0,116.2 607.6,115.0 607.2,114.4 606.6,114.9 606.0,116.2 605.4,117.4 604.8,118.7 604.3,120.1 603.7,120.9 603.1,121.0 602.5,120.5 601.9,119.9 601.3,119.4 600.7,118.8 600.1,118.0 599.6,116.9 599.2,115.7 598.7,114.4 598.2,113.2 597.8,111.9 597.3,111.4 596.9,112.3 596.4,113.9 596.0,114.3 595.6,112.4 595.2,109.3 594.8,106.2 594.3,103.7 593.9,101.3 593.4,99.1 592.9,96.9 592.5,94.9 592.0,93.7 591.6,93.9 591.1,94.9 590.7,95.4 590.3,94.9 589.9,93.8 589.5,92.7 589.0,91.4 588.5,90.0 588.0,90.0 587.5,92.4 587.0,96.2 586.6,99.8 586.2,103.1 585.8,106.3 585.4,108.7 585.0,109.8 584.5,110.0 584.1,110.4 583.6,111.1 583.2,112.0 582.7,114.0 582.2,118.2 581.8,123.4 581.3,127.3 580.9,128.9 580.5,129.1 580.1,129.1 579.7,128.8 579.2,128.3 578.8,128.2 578.3,129.0 577.9,130.4 577.4,131.7 576.9,133.1 576.5,134.5 576.0,135.3 575.6,135.0 575.2,134.0 574.8,133.5 574.4,133.8 574.0,134.5 573.5,135.3 572.9,136.1 572.3,136.9 571.7,137.6 571.1,138.3 570.5,138.8 570.0,138.8 569.6,138.0 569.3,136.5 568.9,134.4 568.5,131.3 568.1,127.5 567.7,123.7 567.3,119.8 566.8,115.9 566.4,113.1 566.0,111.8 565.7,111.5 565.3,111.7 564.9,112.4 564.4,113.7 563.9,115.0 563.3,115.9 562.7,116.8 562.0,118.0 561.3,119.3 560.7,120.8 560.0,122.8 559.4,125.6 558.7,128.8 558.1,131.6 557.4,133.0 556.7,133.9 556.1,135.4 555.6,138.4 555.2,142.0 554.8,145.2 554.3,147.9 553.7,150.2 553.2,152.0 552.7,153.0 552.1,153.6 551.6,154.9 551.1,157.9 550.7,161.7 550.3,164.7 549.9,166.5 549.6,167.5 549.3,167.6 549.0,166.7 548.7,164.9 548.3,162.7 547.9,160.3 547.5,157.6 547.0,154.9 546.5,152.4 545.9,149.9 545.4,147.1 544.9,144.0 544.3,140.6 543.8,137.4 543.3,134.4 542.9,131.7 542.5,129.6 542.0,128.5 541.6,128.0 541.1,128.0 540.6,128.8 540.0,130.1 539.5,130.5 539.0,129.2 538.5,127.0 538.0,124.7 537.5,122.5 537.0,120.2 536.6,118.8 536.3,118.5 536.0,119.1 535.6,120.2 535.1,122.0 534.6,124.4 534.1,126.6 533.6,128.4 533.2,130.1 532.7,131.5 532.2,132.5 531.7,133.2 531.3,133.5 530.9,133.3 530.6,132.7 530.2,132.5 529.8,133.0 529.3,133.8 528.8,134.4 528.3,134.2 527.9,133.7 527.4,133.5 526.9,133.9 526.4,134.5 525.9,134.4 525.4,132.7 524.8,130.4 524.3,129.2 523.8,130.2 523.4,132.3 522.9,134.4 522.2,136.2 521.4,138.0 520.7,138.9 520.1,138.1 519.6,136.4 519.0,135.7 518.4,136.9 517.8,138.9 517.2,140.2 516.7,139.8 516.3,138.6 515.8,137.0 515.3,135.0 514.9,132.5 514.4,130.3 514.0,128.4 513.5,126.7 513.1,125.9 512.7,127.1 512.3,129.2 511.9,130.0 511.5,128.5 511.0,125.8 510.5,123.2 510.0,121.4 509.5,119.7 509.0,118.3 508.6,117.2 508.3,116.4 508.0,116.1 507.6,116.6 507.1,117.5 506.6,118.3 506.1,118.9 505.6,119.4 505.1,119.3 504.6,118.4 504.1,116.8 503.7,115.2 503.3,113.5 502.9,111.7 502.5,110.5 502.1,110.2 501.7,110.5 501.2,111.2 500.7,112.5 500.1,114.1 499.5,115.2 499.0,115.5 498.5,115.2 498.0,114.4 497.5,112.6 496.9,110.3 496.3,109.0 495.7,109.4 495.1,110.8 494.5,112.6 493.8,114.9 493.1,117.5 492.4,119.3 491.8,119.6 491.2,119.0 490.6,118.4 490.0,118.1 489.4,117.8 488.8,117.1 488.2,115.5 487.7,113.5 487.1,111.8 486.5,110.9 485.9,110.3 485.3,110.1 484.7,110.5 484.1,111.4 483.5,111.9 483.0,111.5 482.6,110.6 482.1,110.1 481.6,110.5 481.2,111.3 480.7,111.6 480.3,110.8 479.8,109.4 479.4,107.9 479.0,106.0 478.6,104.0 478.2,103.1 477.8,104.3 477.4,106.6 477.0,108.3 476.4,108.5 475.8,108.1 475.2,107.7 474.6,106.8 474.0,105.9 473.4,106.2 472.8,108.9 472.3,112.9 471.7,115.4 471.1,115.2 470.5,113.7 469.9,112.2 469.3,111.3 468.7,110.4 468.1,109.3 467.5,107.9 466.9,106.3 466.3,104.7 465.7,103.1 465.1,101.6 464.6,100.8 464.2,101.1 463.7,102.2 463.3,103.6 462.8,105.4 462.2,107.6 461.6,109.0 461.0,108.7 460.4,107.7 459.8,107.3 459.2,108.2 458.6,109.9 458.0,112.0 457.4,114.8 456.8,118.1 456.2,120.9 455.6,122.9 455.0,124.3 454.5,125.1 454.0,124.9 453.5,124.0 453.0,122.5 452.5,120.2 452.0,117.3 451.6,114.9 451.2,113.0 450.8,111.4 450.4,110.8 450.0,111.2 449.5,112.6 449.1,114.6 448.7,117.5 448.2,121.1 447.7,124.7 447.2,128.7 446.6,132.6 446.0,134.9 445.3,134.4 444.5,132.1 443.8,129.9 443.2,128.4 442.7,127.1 442.1,126.5 441.5,127.1 440.9,128.3 440.3,128.4 439.7,126.6 439.1,123.8 438.5,120.5 437.9,116.5 437.2,112.1 436.7,108.1 436.3,104.8 435.9,102.0 435.6,99.5 435.3,97.4 435.0,95.8 434.6,94.9 434.1,95.0 433.6,95.7 433.1,95.6 432.8,94.2 432.5,92.1 432.2,89.7 431.8,86.8 431.3,83.7 430.9,81.1 430.5,79.1 430.2,77.7 429.8,77.5 429.4,78.9 428.9,81.5 428.4,84.6 427.9,88.2 427.4,92.2 426.9,96.0 426.4,99.4 425.9,102.4 425.5,104.3 425.1,104.7 424.8,103.9 424.5,102.6 424.1,100.7 423.6,98.2 423.2,96.0 422.8,94.1 422.4,92.3 422.0,91.4 421.6,91.9 421.1,93.2 420.7,94.3 420.3,95.0 419.8,95.5 419.3,96.0 418.6,96.3 417.8,96.7 417.0,97.4 416.3,98.7 415.5,100.4 414.8,101.7 414.1,102.0 413.4,101.8 412.7,101.6 412.0,102.0 411.4,102.5 410.8,102.6 410.4,102.2 410.0,101.5 409.6,100.6 409.1,99.3 408.6,97.8 408.1,97.1 407.6,98.0 407.1,100.0 406.5,102.4 405.9,105.4 405.2,108.8 404.6,111.7 404.0,113.8 403.3,115.2 402.7,115.9 402.1,115.7 401.6,114.8 401.1,113.9 400.6,112.7 400.1,111.3 399.6,110.7 399.0,111.3 398.4,112.8 397.8,114.8 397.1,117.8 396.4,121.4 395.7,123.3 394.9,122.1 394.1,119.2 393.4,117.7 392.8,118.8 392.2,121.3 391.6,124.3 391.1,128.2 390.6,132.5 390.1,135.3 389.7,135.1 389.3,133.3 389.1,131.8" fill="#d8d8d8" stroke="none"/>
<polyline points="389.1,89.0 389.3,90.5 389.7,92.4 390.1,92.7 390.6,90.1 391.1,85.9 391.6,82.2 392.2,79.4 392.8,77.1 393.4,76.2 394.1,78.1 394.9,81.4 395.7,83.2 396.4,81.7 397.1,78.6 397.8,76.0 398.4,74.4 399.0,73.3 399.6,72.9 400.1,73.7 400.6,75.2 401.1,76.6 401.6,77.7 402.1,78.7 402.7,79.1 403.3,78.7 404.0,77.6 404.6,76.0 405.2,73.5 405.9,70.5 406.5,67.9 407.1,65.9 407.6,64.3 408.1,63.6 408.6,64.3 409.1,65.9 409.6,67.3 410.0,68.3 410.4,69.0 410.8,69.5 411.4,69.4 412.0,69.0 412.7,68.8 413.4,69.1 414.1,69.4 414.8,69.4 415.5,68.5 416.3,67.1 417.0,66.0 417.8,65.6 418.6,65.5 419.3,65.4 419.8,65.1 420.3,64.7 420.7,64.2 421.1,63.2 421.6,62.0 422.0,61.7 422.4,62.7 422.8,64.6 423.2,66.7 423.6,69.0 424.1,71.5 424.5,73.5 424.8,74.9 425.1,75.7 425.5,75.4 425.9,73.6 426.4,70.6 426.9,67.3 427.4,63.6 427.9,59.6 428.4,56.1 428.9,53.1 429.4,50.6 429.8,49.3 430.2,49.7 430.5,51.4 430.9,53.6 431.3,56.5 431.8,59.9 432.2,63.0 432.5,65.6 432.8,67.9 433.1,69.5 433.6,69.9 434.1,69.6 434.6,69.8 435.0,71.0 435.3,72.6 435.6,74.7 435.9,77.2 436.3,80.1 436.7,83.4 437.2,87.4 437.9,91.9 438.5,95.8 439.1,99.2 439.7,102.0 440.3,103.8 440.9,103.7 441.5,102.6 442.1,102.0 442.7,102.7 443.2,104.0 443.8,105.5 444.5,107.7 445.3,110.2 446.0,110.9 446.6,108.8 447.2,104.9 447.7,101.1 448.2,97.6 448.7,94.1 449.1,91.3 449.5,89.4 450.0,88.1 450.4,87.8 450.8,88.5 451.2,90.2 451.6,92.2 452.0,94.8 452.5,97.8 453.0,100.2 453.5,101.8 454.0,102.9 454.5,103.2 455.0,102.6 455.6,101.2 456.2,99.3 456.8,96.6 457.4,93.3 458.0,90.5 458.6,88.4 459.2,86.9 459.8,86.0 460.4,86.4 461.0,87.5 461.6,87.8 462.2,86.5 462.8,84.3 463.3,82.5 463.7,81.1 464.2,80.1 464.6,79.8 465.1,80.7 465.7,82.5 466.3,84.3 466.9,86.1 467.5,87.9 468.1,89.6 468.7,90.9 469.3,92.0 469.9,93.1 470.5,94.8 471.1,96.4 471.7,96.7 472.3,94.3 472.8,90.4 473.4,87.8 474.0,87.6 474.6,88.7 475.2,89.6 475.8,90.2 476.4,90.7 477.0,90.5 477.4,88.9 477.8,86.6 478.2,85.5 478.6,86.5 479.0,88.5 479.4,90.5 479.8,92.1 480.3,93.5 480.7,94.4 481.2,94.2 481.6,93.5 482.1,93.1 482.6,93.6 483.0,94.5 483.5,94.9 484.1,94.4 484.7,93.6 485.3,93.1 485.9,93.3 486.5,93.9 487.1,94.9 487.7,96.6 488.2,98.6 488.8,100.2 489.4,100.9 490.0,101.2 490.6,101.5 491.2,102.1 491.8,102.7 492.4,102.5 493.1,100.7 493.8,98.1 494.5,95.8 495.1,94.0 495.7,92.6 496.3,92.2 496.9,93.5 497.5,95.8 498.0,97.6 498.5,98.4 499.0,98.7 499.5,98.4 500.1,97.3 500.7,95.7 501.2,94.4 501.7,93.7 502.1,93.4 502.5,93.7 502.9,94.9 503.3,96.7 503.7,98.4 504.1,100.0 504.6,101.5 505.1,102.5 505.6,102.6 506.1,102.1 506.6,101.5 507.1,100.7 507.6,99.8 508.0,99.3 508.3,99.6 508.6,100.4 509.0,101.5 509.5,102.9 510.0,104.5 510.5,106.4 511.0,108.9 511.5,111.7 511.9,113.2 512.3,112.3 512.7,110.2 513.1,109.1 513.5,109.9 514.0,111.5 514.4,113.5 514.9,115.7 515.3,118.1 515.8,120.2 516.3,121.8 516.7,123.0 517.2,123.3 517.8,122.1 518.4,120.0 519.0,118.8 519.6,119.6 520.1,121.2 520.7,122.0 521.4,121.1 522.2,119.3 522.9,117.5 523.4,115.4 523.8,113.3 524.3,112.3 524.8,113.5 525.4,115.8 525.9,117.5 526.4,117.6 526.9,117.0 527.4,116.6 527.9,116.9 528.3,117.3 528.8,117.5 529.3,117.0 529.8,116.1 530.2,115.6 530.6,115.8 530.9,116.4 531.3,116.6 531.7,116.3 532.2,115.6 532.7,114.6 533.2,113.2 533.6,111.6 534.1,109.7 534.6,107.5 535.1,105.1 535.6,103.3 536.0,102.2 536.3,101.6 536.6,101.9 537.0,103.3 537.5,105.6 538.0,107.8 538.5,110.0 539.0,112.3 539.5,113.6 540.0,113.2 540.6,111.9 541.1,111.1 541.6,111.1 542.0,111.6 542.5,112.7 542.9,114.8 543.3,117.5 543.8,120.5 544.3,123.7 544.9,127.0 545.4,130.2 545.9,132.9 546.5,135.5 547.0,138.0 547.5,140.7 547.9,143.4 548.3,145.8 548.7,147.9 549.0,149.8 549.3,150.7 549.6,150.6 549.9,149.6 550.3,147.8 550.7,144.8 551.1,141.0 551.6,138.0 552.1,136.7 552.7,136.1 553.2,135.1 553.7,133.2 554.3,130.9 554.8,128.3 555.2,125.0 555.6,121.4 556.1,118.5 556.7,116.9 557.4,116.0 558.1,114.6 558.7,111.9 559.4,108.6 560.0,105.8 560.7,103.8 561.3,102.3 562.0,101.0 562.7,99.9 563.3,99.0 563.9,98.0 564.4,96.7 564.9,95.5 565.3,94.7 565.7,94.5 566.0,94.8 566.4,96.1 566.8,98.9 567.3,102.8 567.7,106.7 568.1,110.5 568.5,114.3 568.9,117.4 569.3,119.5 569.6,121.0 570.0,121.8 570.5,121.9 571.1,121.3 571.7,120.6 572.3,119.9 572.9,119.1 573.5,118.3 574.0,117.5 574.4,116.8 574.8,116.5 575.2,117.0 575.6,118.0 576.0,118.3 576.5,117.5 576.9,116.1 577.4,114.7 577.9,113.4 578.3,112.0 578.8,111.2 579.2,111.3 579.7,111.8 580.1,112.1 580.5,112.1 580.9,111.9 581.3,110.3 581.8,106.4 582.2,101.1 582.7,97.0 583.2,95.0 583.6,94.1 584.1,93.4 584.5,93.0 585.0,92.7 585.4,91.7 585.8,89.3 586.2,86.1 586.6,82.8 587.0,79.1 587.5,75.4 588.0,73.0 588.5,73.0 589.0,74.3 589.5,75.7 589.9,76.8 590.3,77.8 590.7,78.4 591.1,77.9 591.6,76.8 592.0,76.6 592.5,77.8 592.9,79.7 593.4,81.9 593.9,84.1 594.3,86.5 594.8,89.0 595.2,92.0 595.6,95.1 596.0,97.0 596.4,96.6 596.9,95.0 597.3,94.0 597.8,94.5 598.2,95.7 598.7,97.0 599.2,98.2 599.6,99.4 600.1,100.5 600.7,101.3 601.3,101.8 601.9,102.3 602.5,102.8 603.1,103.3 603.7,103.2 604.3,102.3 604.8,100.9 605.4,99.6 606.0,98.3 606.6,97.1 607.2,96.5 607.6,97.0 608.0,98.2 608.4,99.6 608.8,101.1 609.2,102.7 609.7,104.1 610.3,105.2 611.0,106.0 611.7,106.2 612.2,105.3 612.7,103.8 613.2,102.3 613.7,100.9 614.2,99.5 614.7,98.5 615.3,98.4 615.8,98.6 616.4,98.1 617.0,96.0 617.5,93.2 618.1,90.6 618.6,88.6 619.1,87.0 619.6,85.7 620.1,85.0 620.6,84.8 621.1,84.3 621.7,83.1 622.2,81.6 622.8,81.1 623.4,82.2 623.9,84.2 624.5,86.4 625.0,88.9 625.5,91.5 626.0,93.4 626.5,94.1 626.9,94.1 627.4,93.8 627.9,93.1 628.5,92.2 629.1,91.3 629.7,90.7 630.3,90.2 630.9,90.0 631.6,90.4 632.3,91.2 633.0,91.7 633.7,91.7 634.4,91.4 635.1,91.3 635.6,91.7 636.1,92.2 636.6,92.1 637.1,90.9 637.6,89.1 638.1,87.4 638.7,85.8 639.2,84.2 639.8,83.2 640.4,83.1 640.9,83.6 641.5,84.3 642.0,85.2 642.5,86.3 643.0,87.4 643.5,88.4 644.0,89.3 644.5,90.0 645.0,90.4 645.6,90.6 646.2,90.6 646.9,90.5 647.6,90.2 648.3,90.0 649.0,89.9 649.7,89.9 650.4,89.6 651.0,88.8 651.6,87.7 652.1,87.0 652.6,87.1 653.1,87.6 653.6,87.9 654.0,88.1 654.3,88.1 654.7,87.0 655.2,84.0 655.8,79.8 656.4,75.7 656.9,71.7 657.4,67.7 657.9,65.1 658.4,64.6 658.9,65.4 659.4,66.2 660.0,66.6 660.5,67.1 661.1,67.2 661.7,66.7 662.2,65.8 662.8,65.7 663.3,66.4 663.8,67.8 664.3,70.4 664.8,75.2 665.2,81.3 665.7,86.4 666.1,90.0 666.6,92.7 667.0,93.4 667.5,91.3 668.0,87.3 668.5,83.2 669.1,79.0 669.6,74.6 670.0,71.5" fill="none" stroke="#3778b6" stroke-width="1.25" stroke-linejoin="round" stroke-linecap="butt"/>
<polyline points="389.1,100.4 670.0,100.4" fill="none" stroke="#f38026" stroke-width="1.3" stroke-linejoin="round"/>
</g>
<rect x="375.4" y="14.74" width="308.05" height="159.62" fill="none" stroke="#505050" stroke-width="1.0"/>
<path d="M380.60 174.36v3.2 M415.72 174.36v3.2 M450.84 174.36v3.2 M485.96 174.36v3.2 M521.08 174.36v3.2 M556.20 174.36v3.2 M591.32 174.36v3.2 M626.44 174.36v3.2 M661.56 174.36v3.2 M375.40 173.42h-3.0 M375.40 149.08h-3.0 M375.40 124.74h-3.0 M375.40 100.40h-3.0 M375.40 76.06h-3.0 M375.40 51.72h-3.0 M375.40 27.38h-3.0" stroke="#505050" stroke-width="1.0" fill="none"/>
<text x="370.05" y="176.77" font-size="9.7" text-anchor="end" fill="#1a1a1a">-15</text>
<text x="370.05" y="152.43" font-size="9.7" text-anchor="end" fill="#1a1a1a">-10</text>
<text x="370.05" y="128.09" font-size="9.7" text-anchor="end" fill="#1a1a1a">-5</text>
<text x="370.05" y="103.75" font-size="9.7" text-anchor="end" fill="#1a1a1a">0</text>
<text x="370.05" y="79.41" font-size="9.7" text-anchor="end" fill="#1a1a1a">5</text>
<text x="370.05" y="55.07" font-size="9.7" text-anchor="end" fill="#1a1a1a">10</text>
<text x="370.05" y="30.73" font-size="9.7" text-anchor="end" fill="#1a1a1a">15</text>
<text x="375.80" y="10.44" font-size="13.6" font-weight="bold" fill="#000">b</text>
<g clip-path="url(#cp10)">
<polygon points="50.1,334.7 50.3,334.9 50.7,335.2 51.1,335.2 51.6,334.4 52.1,333.3 52.6,332.2 53.2,331.4 53.8,330.7 54.4,330.2 55.1,330.4 55.9,330.9 56.7,331.1 57.4,330.5 58.1,329.6 58.8,328.8 59.5,328.3 60.1,327.8 60.6,327.6 61.1,327.5 61.6,327.7 62.1,327.8 62.6,327.9 63.2,327.9 63.7,327.8 64.3,327.5 65.0,327.0 65.6,326.5 66.3,325.7 66.9,324.9 67.5,324.1 68.1,323.5 68.6,323.0 69.1,322.6 69.7,322.6 70.2,322.7 70.6,322.8 71.0,322.9 71.4,322.9 71.8,322.9 72.4,322.6 73.1,322.2 73.8,321.9 74.4,321.7 75.1,321.5 75.9,321.2 76.6,320.8 77.3,320.2 78.1,319.7 78.9,319.3 79.7,319.0 80.4,318.7 80.9,318.4 81.3,318.2 81.8,317.9 82.2,317.5 82.6,317.1 83.1,316.9 83.5,317.0 83.9,317.2 84.3,317.6 84.7,317.9 85.2,318.3 85.6,318.6 85.9,318.7 86.2,318.8 86.6,318.6 87.0,318.0 87.5,317.1 88.0,316.2 88.5,315.2 89.0,314.0 89.5,313.1 90.0,312.2 90.4,311.4 90.9,310.9 91.3,310.9 91.6,311.2 92.0,311.6 92.4,312.1 92.9,312.7 93.3,313.3 93.6,313.8 93.9,314.3 94.2,314.5 94.7,314.5 95.2,314.2 95.7,314.1 96.1,314.3 96.4,314.5 96.7,314.9 97.0,315.3 97.4,315.8 97.8,316.4 98.4,317.0 99.0,317.8 99.6,318.4 100.2,318.9 100.8,319.3 101.4,319.4 102.0,319.1 102.6,318.6 103.2,318.2 103.8,318.1 104.3,318.2 104.9,318.3 105.6,318.5 106.4,318.7 107.1,318.6 107.7,317.9 108.3,316.8 108.8,315.7 109.3,314.7 109.8,313.8 110.2,313.0 110.7,312.3 111.1,311.9 111.5,311.7 111.9,311.7 112.3,311.9 112.7,312.2 113.2,312.6 113.7,313.1 114.1,313.5 114.6,313.6 115.1,313.7 115.6,313.6 116.2,313.2 116.8,312.7 117.3,312.0 117.9,311.1 118.5,310.1 119.1,309.2 119.7,308.5 120.3,307.9 121.0,307.4 121.6,307.3 122.2,307.3 122.8,307.1 123.3,306.5 123.9,305.8 124.5,305.2 124.9,304.7 125.3,304.2 125.8,304.0 126.3,304.0 126.9,304.2 127.5,304.4 128.1,304.6 128.7,304.8 129.3,304.9 129.9,305.0 130.5,305.0 131.1,305.1 131.7,305.2 132.3,305.3 132.9,305.1 133.4,304.4 134.0,303.3 134.6,302.5 135.2,302.2 135.8,302.2 136.4,302.1 137.0,302.0 137.6,301.9 138.2,301.6 138.6,301.1 139.0,300.4 139.4,300.0 139.8,300.0 140.2,300.3 140.6,300.6 141.0,300.8 141.5,301.0 141.9,301.0 142.4,300.7 142.8,300.4 143.3,300.1 143.8,300.0 144.2,300.0 144.7,299.9 145.3,299.5 145.9,299.1 146.5,298.7 147.1,298.5 147.7,298.3 148.3,298.3 148.9,298.4 149.4,298.6 150.0,298.7 150.6,298.6 151.2,298.4 151.8,298.2 152.4,298.1 153.0,298.0 153.6,297.7 154.3,297.0 155.0,296.0 155.7,295.2 156.4,294.6 156.9,294.0 157.5,293.6 158.1,293.7 158.7,293.9 159.2,294.1 159.7,294.0 160.2,293.9 160.7,293.6 161.3,293.1 161.9,292.5 162.4,291.9 162.9,291.6 163.3,291.3 163.7,291.2 164.1,291.3 164.5,291.5 164.9,291.7 165.4,291.9 165.9,292.0 166.3,292.0 166.8,291.8 167.4,291.5 167.9,291.1 168.3,290.7 168.8,290.3 169.3,290.0 169.6,289.9 169.9,290.0 170.3,290.1 170.7,290.2 171.2,290.3 171.8,290.5 172.2,290.9 172.7,291.3 173.2,291.4 173.6,291.0 174.0,290.4 174.4,289.9 174.8,289.9 175.2,290.1 175.7,290.4 176.1,290.7 176.6,291.0 177.1,291.2 177.5,291.4 178.0,291.5 178.5,291.3 179.0,290.8 179.7,290.1 180.3,289.5 180.8,289.4 181.4,289.6 182.0,289.5 182.7,288.9 183.5,288.2 184.2,287.5 184.7,286.8 185.1,286.1 185.6,285.7 186.1,285.7 186.7,286.0 187.2,286.1 187.7,285.9 188.2,285.6 188.7,285.3 189.2,285.1 189.6,285.0 190.1,284.8 190.6,284.5 191.1,284.1 191.5,283.8 191.9,283.7 192.2,283.6 192.6,283.5 193.0,283.3 193.5,282.9 194.0,282.5 194.5,281.9 194.9,281.4 195.4,280.7 195.9,280.0 196.4,279.2 196.9,278.6 197.3,278.2 197.6,277.9 197.9,277.8 198.3,278.0 198.8,278.3 199.3,278.6 199.8,278.8 200.3,279.1 200.8,279.2 201.4,278.9 201.9,278.3 202.4,277.9 202.9,277.7 203.4,277.6 203.8,277.7 204.3,277.9 204.7,278.4 205.1,278.8 205.6,279.3 206.2,279.8 206.7,280.3 207.3,280.7 207.8,281.0 208.3,281.4 208.8,281.8 209.2,282.2 209.6,282.5 210.0,282.9 210.3,283.1 210.6,283.2 211.0,283.0 211.3,282.7 211.6,282.1 212.0,281.2 212.5,280.2 212.9,279.3 213.5,278.8 214.0,278.4 214.6,277.9 215.1,277.3 215.6,276.5 216.2,275.7 216.6,274.8 217.0,273.8 217.5,272.9 218.1,272.3 218.8,271.8 219.5,271.1 220.1,270.2 220.7,269.2 221.4,268.3 222.0,267.6 222.7,266.9 223.4,266.3 224.0,265.8 224.7,265.3 225.3,264.8 225.8,264.3 226.2,263.8 226.7,263.4 227.1,263.2 227.4,263.1 227.8,263.3 228.2,263.7 228.6,264.4 229.1,265.1 229.5,265.7 229.9,266.4 230.3,267.0 230.6,267.3 231.0,267.5 231.4,267.5 231.9,267.2 232.5,266.9 233.1,266.4 233.7,266.0 234.3,265.5 234.9,265.1 235.4,264.7 235.8,264.4 236.2,264.1 236.6,264.1 237.0,264.1 237.4,264.0 237.9,263.6 238.3,263.1 238.8,262.6 239.3,262.0 239.7,261.5 240.2,261.1 240.7,261.0 241.1,260.9 241.5,260.8 241.9,260.6 242.3,260.4 242.7,259.8 243.2,258.7 243.6,257.3 244.1,256.2 244.6,255.5 245.1,255.1 245.5,254.8 246.0,254.5 246.4,254.2 246.8,253.8 247.2,253.1 247.6,252.2 248.0,251.3 248.5,250.2 248.9,249.2 249.4,248.4 249.9,248.2 250.4,248.3 250.9,248.4 251.3,248.4 251.7,248.5 252.1,248.4 252.6,248.1 253.0,247.7 253.4,247.4 253.9,247.5 254.4,247.7 254.8,248.0 255.3,248.3 255.8,248.6 256.2,249.0 256.7,249.5 257.0,250.0 257.4,250.2 257.9,249.9 258.3,249.4 258.7,248.9 259.2,248.9 259.7,248.9 260.1,249.0 260.6,249.0 261.1,249.1 261.6,249.1 262.1,249.0 262.7,248.9 263.4,248.7 264.0,248.6 264.6,248.4 265.2,248.1 265.7,247.6 266.3,247.1 266.9,246.5 267.5,245.9 268.1,245.4 268.7,245.0 269.1,244.9 269.5,245.0 269.9,245.1 270.3,245.3 270.7,245.5 271.2,245.6 271.8,245.5 272.5,245.4 273.2,245.1 273.7,244.7 274.2,244.1 274.7,243.6 275.2,243.0 275.7,242.5 276.2,242.0 276.7,241.8 277.3,241.6 277.9,241.2 278.5,240.5 279.0,239.6 279.6,238.7 280.1,238.0 280.6,237.4 281.1,236.9 281.6,236.6 282.1,236.3 282.6,235.9 283.1,235.4 283.7,234.8 284.3,234.5 284.9,234.4 285.4,234.6 286.0,234.9 286.5,235.2 287.0,235.6 287.5,235.8 288.0,235.7 288.4,235.5 288.9,235.2 289.5,234.8 290.0,234.3 290.6,233.8 291.2,233.4 291.8,233.0 292.4,232.7 293.1,232.5 293.8,232.3 294.5,232.1 295.2,231.7 296.0,231.3 296.6,231.0 297.2,230.8 297.6,230.7 298.1,230.4 298.6,229.9 299.1,229.3 299.6,228.7 300.2,228.0 300.8,227.4 301.3,226.9 301.9,226.6 302.5,226.4 303.0,226.3 303.6,226.2 304.0,226.2 304.5,226.2 305.0,226.2 305.5,226.1 306.0,226.0 306.6,225.8 307.1,225.6 307.7,225.3 308.4,224.9 309.1,224.5 309.9,224.1 310.6,223.7 311.3,223.3 312.0,222.9 312.6,222.4 313.1,221.9 313.7,221.5 314.2,221.2 314.7,221.1 315.2,220.9 315.5,220.8 315.9,220.6 316.3,220.2 316.8,219.2 317.4,218.0 318.0,216.8 318.5,215.6 319.0,214.5 319.5,213.6 320.0,213.3 320.5,213.2 321.0,213.2 321.5,213.0 322.1,212.8 322.7,212.6 323.3,212.1 323.8,211.7 324.4,211.4 324.9,211.3 325.4,211.4 325.9,211.7 326.4,212.6 326.8,213.7 327.3,214.6 327.7,215.2 328.1,215.6 328.6,215.6 329.1,214.9 329.6,213.7 330.1,212.5 330.7,211.3 331.2,210.0 331.6,209.2 331.6,221.7 331.2,222.6 330.7,223.8 330.1,225.0 329.6,226.1 329.1,227.2 328.6,227.9 328.1,227.9 327.7,227.4 327.3,226.8 326.8,225.8 326.4,224.6 325.9,223.7 325.4,223.3 324.9,223.2 324.4,223.3 323.8,223.5 323.3,223.9 322.7,224.3 322.1,224.5 321.5,224.6 321.0,224.8 320.5,224.8 320.0,224.8 319.5,225.1 319.0,225.9 318.5,227.0 318.0,228.1 317.4,229.3 316.8,230.4 316.3,231.3 315.9,231.7 315.5,231.9 315.2,232.0 314.7,232.1 314.2,232.2 313.7,232.4 313.1,232.7 312.6,233.2 312.0,233.6 311.3,233.9 310.6,234.2 309.9,234.5 309.1,234.8 308.4,235.1 307.7,235.4 307.1,235.6 306.6,235.8 306.0,235.9 305.5,235.9 305.0,235.9 304.5,235.9 304.0,235.8 303.6,235.8 303.0,235.8 302.5,235.8 301.9,235.9 301.3,236.1 300.8,236.6 300.2,237.2 299.6,237.8 299.1,238.4 298.6,239.0 298.1,239.5 297.6,239.7 297.2,239.8 296.6,239.9 296.0,240.2 295.2,240.6 294.5,240.9 293.8,241.0 293.1,241.2 292.4,241.3 291.8,241.6 291.2,242.0 290.6,242.4 290.0,242.8 289.5,243.3 288.9,243.6 288.4,243.9 288.0,244.1 287.5,244.1 287.0,243.9 286.5,243.5 286.0,243.2 285.4,243.0 284.9,242.8 284.3,242.8 283.7,243.1 283.1,243.7 282.6,244.2 282.1,244.6 281.6,244.8 281.1,245.2 280.6,245.7 280.1,246.3 279.6,247.0 279.0,247.8 278.5,248.7 277.9,249.4 277.3,249.8 276.7,250.0 276.2,250.2 275.7,250.7 275.2,251.2 274.7,251.8 274.2,252.3 273.7,252.9 273.2,253.3 272.5,253.5 271.8,253.7 271.2,253.7 270.7,253.6 270.3,253.4 269.9,253.3 269.5,253.1 269.1,253.0 268.7,253.1 268.1,253.4 267.5,254.0 266.9,254.6 266.3,255.1 265.7,255.7 265.2,256.1 264.6,256.4 264.0,256.5 263.4,256.7 262.7,256.8 262.1,257.0 261.6,257.0 261.1,257.0 260.6,256.9 260.1,256.9 259.7,256.8 259.2,256.7 258.7,256.8 258.3,257.2 257.9,257.8 257.4,258.0 257.0,257.8 256.7,257.2 256.2,256.7 255.8,256.4 255.3,256.0 254.8,255.7 254.4,255.5 253.9,255.2 253.4,255.2 253.0,255.4 252.6,255.8 252.1,256.1 251.7,256.2 251.3,256.1 250.9,256.1 250.4,256.0 249.9,255.9 249.4,256.1 248.9,256.9 248.5,257.9 248.0,258.9 247.6,259.9 247.2,260.8 246.8,261.5 246.4,261.9 246.0,262.2 245.5,262.5 245.1,262.8 244.6,263.2 244.1,263.9 243.6,265.0 243.2,266.4 242.7,267.5 242.3,268.0 241.9,268.3 241.5,268.4 241.1,268.6 240.7,268.6 240.2,268.8 239.7,269.2 239.3,269.7 238.8,270.2 238.3,270.8 237.9,271.3 237.4,271.7 237.0,271.8 236.6,271.7 236.2,271.8 235.8,272.1 235.4,272.4 234.9,272.8 234.3,273.2 233.7,273.7 233.1,274.1 232.5,274.5 231.9,274.9 231.4,275.1 231.0,275.1 230.6,275.0 230.3,274.6 229.9,274.1 229.5,273.4 229.1,272.7 228.6,272.1 228.2,271.4 227.8,270.9 227.4,270.8 227.1,270.9 226.7,271.1 226.2,271.5 225.8,272.0 225.3,272.5 224.7,272.9 224.0,273.4 223.4,274.0 222.7,274.6 222.0,275.2 221.4,276.0 220.7,276.9 220.1,277.9 219.5,278.8 218.8,279.4 218.1,279.9 217.5,280.6 217.0,281.4 216.6,282.4 216.2,283.4 215.6,284.2 215.1,284.9 214.6,285.6 214.0,286.1 213.5,286.4 212.9,287.0 212.5,287.9 212.0,288.9 211.6,289.8 211.3,290.3 211.0,290.7 210.6,290.9 210.3,290.8 210.0,290.5 209.6,290.2 209.2,289.8 208.8,289.4 208.3,289.0 207.8,288.7 207.3,288.3 206.7,288.0 206.2,287.5 205.6,287.0 205.1,286.5 204.7,286.0 204.3,285.6 203.8,285.3 203.4,285.2 202.9,285.3 202.4,285.6 201.9,286.0 201.4,286.5 200.8,286.8 200.3,286.8 199.8,286.5 199.3,286.2 198.8,285.9 198.3,285.6 197.9,285.5 197.6,285.6 197.3,285.8 196.9,286.2 196.4,286.9 195.9,287.6 195.4,288.4 194.9,289.0 194.5,289.6 194.0,290.1 193.5,290.5 193.0,290.9 192.6,291.2 192.2,291.3 191.9,291.3 191.5,291.4 191.1,291.7 190.6,292.1 190.1,292.5 189.6,292.6 189.2,292.7 188.7,292.9 188.2,293.2 187.7,293.5 187.2,293.8 186.7,293.6 186.1,293.3 185.6,293.3 185.1,293.7 184.7,294.4 184.2,295.1 183.5,295.8 182.7,296.6 182.0,297.1 181.4,297.2 180.8,297.0 180.3,297.1 179.7,297.7 179.0,298.4 178.5,298.9 178.0,299.1 177.5,299.0 177.1,298.9 176.6,298.6 176.1,298.3 175.7,298.0 175.2,297.7 174.8,297.5 174.4,297.5 174.0,298.0 173.6,298.6 173.2,299.0 172.7,298.9 172.2,298.5 171.8,298.1 171.2,297.9 170.7,297.8 170.3,297.7 169.9,297.6 169.6,297.5 169.3,297.6 168.8,297.9 168.3,298.3 167.9,298.7 167.4,299.1 166.8,299.4 166.3,299.6 165.9,299.6 165.4,299.5 164.9,299.3 164.5,299.1 164.1,298.9 163.7,298.8 163.3,298.9 162.9,299.2 162.4,299.5 161.9,300.0 161.3,300.7 160.7,301.2 160.2,301.5 159.7,301.6 159.2,301.7 158.7,301.5 158.1,301.2 157.5,301.2 156.9,301.6 156.4,302.1 155.7,302.8 155.0,303.6 154.3,304.6 153.6,305.3 153.0,305.6 152.4,305.7 151.8,305.9 151.2,306.1 150.6,306.3 150.0,306.4 149.4,306.3 148.9,306.1 148.3,305.9 147.7,306.0 147.1,306.1 146.5,306.3 145.9,306.7 145.3,307.2 144.7,307.6 144.2,307.7 143.8,307.7 143.3,307.8 142.8,308.1 142.4,308.5 141.9,308.7 141.5,308.7 141.0,308.6 140.6,308.5 140.2,308.2 139.8,307.9 139.4,307.9 139.0,308.4 138.6,309.0 138.2,309.6 137.6,309.9 137.0,310.1 136.4,310.3 135.8,310.4 135.2,310.4 134.6,310.8 134.0,311.6 133.4,312.8 132.9,313.6 132.3,313.8 131.7,313.7 131.1,313.7 130.5,313.7 129.9,313.8 129.3,313.8 128.7,313.8 128.1,313.7 127.5,313.6 126.9,313.5 126.3,313.4 125.8,313.4 125.3,313.7 124.9,314.1 124.5,314.7 123.9,315.3 123.3,316.1 122.8,316.6 122.2,316.8 121.6,316.9 121.0,317.1 120.3,317.5 119.7,318.2 119.1,318.9 118.5,319.8 117.9,320.8 117.3,321.7 116.8,322.4 116.2,323.0 115.6,323.4 115.1,323.6 114.6,323.6 114.1,323.5 113.7,323.2 113.2,322.8 112.7,322.4 112.3,322.2 111.9,322.0 111.5,322.0 111.1,322.3 110.7,322.8 110.2,323.5 109.8,324.3 109.3,325.3 108.8,326.4 108.3,327.5 107.7,328.6 107.1,329.4 106.4,329.6 105.6,329.5 104.9,329.3 104.3,329.2 103.8,329.2 103.2,329.3 102.6,329.7 102.0,330.2 101.4,330.5 100.8,330.4 100.2,330.0 99.6,329.5 99.0,328.9 98.4,328.2 97.8,327.5 97.4,327.0 97.0,326.5 96.7,326.1 96.4,325.7 96.1,325.5 95.7,325.5 95.2,325.7 94.7,326.1 94.2,326.3 93.9,326.1 93.6,325.8 93.3,325.4 92.9,324.9 92.4,324.4 92.0,324.0 91.6,323.7 91.3,323.6 90.9,323.7 90.4,324.2 90.0,325.0 89.5,325.9 89.0,326.9 88.5,328.1 88.0,329.1 87.5,330.1 87.0,331.0 86.6,331.6 86.2,331.9 85.9,331.8 85.6,331.7 85.2,331.5 84.7,331.1 84.3,330.8 83.9,330.5 83.5,330.3 83.1,330.3 82.6,330.6 82.2,331.1 81.8,331.5 81.3,331.9 80.9,332.2 80.4,332.5 79.7,332.9 78.9,333.4 78.1,333.9 77.3,334.5 76.6,335.2 75.9,335.8 75.1,336.2 74.4,336.5 73.8,336.7 73.1,337.1 72.4,337.5 71.8,337.8 71.4,337.9 71.0,337.9 70.6,337.9 70.2,337.8 69.7,337.7 69.1,337.8 68.6,338.2 68.1,338.9 67.5,339.7 66.9,340.6 66.3,341.7 65.6,342.6 65.0,343.4 64.3,344.0 63.7,344.4 63.2,344.6 62.6,344.7 62.1,344.7 61.6,344.6 61.1,344.5 60.6,344.6 60.1,345.0 59.5,345.6 58.8,346.3 58.1,347.3 57.4,348.4 56.7,349.2 55.9,349.3 55.1,349.0 54.4,349.0 53.8,349.5 53.2,350.3 52.6,351.2 52.1,352.4 51.6,353.6 51.1,354.4 50.7,354.5 50.3,354.3 50.1,354.1" fill="#d8d8d8" stroke="none"/>
<polyline points="50.1,344.4 50.3,344.6 50.7,344.9 51.1,344.8 51.6,344.0 52.1,342.8 52.6,341.7 53.2,340.9 53.8,340.1 54.4,339.6 55.1,339.7 55.9,340.1 56.7,340.1 57.4,339.5 58.1,338.5 58.8,337.6 59.5,336.9 60.1,336.4 60.6,336.1 61.1,336.0 61.6,336.2 62.1,336.2 62.6,336.3 63.2,336.3 63.7,336.1 64.3,335.7 65.0,335.2 65.6,334.6 66.3,333.7 66.9,332.7 67.5,331.9 68.1,331.2 68.6,330.6 69.1,330.2 69.7,330.1 70.2,330.3 70.6,330.4 71.0,330.4 71.4,330.4 71.8,330.3 72.4,330.1 73.1,329.7 73.8,329.3 74.4,329.1 75.1,328.9 75.9,328.5 76.6,328.0 77.3,327.4 78.1,326.8 78.9,326.3 79.7,326.0 80.4,325.6 80.9,325.3 81.3,325.0 81.8,324.7 82.2,324.3 82.6,323.8 83.1,323.6 83.5,323.6 83.9,323.9 84.3,324.2 84.7,324.5 85.2,324.9 85.6,325.1 85.9,325.3 86.2,325.3 86.6,325.1 87.0,324.5 87.5,323.6 88.0,322.7 88.5,321.6 89.0,320.5 89.5,319.5 90.0,318.6 90.4,317.8 90.9,317.3 91.3,317.2 91.6,317.5 92.0,317.8 92.4,318.3 92.9,318.8 93.3,319.3 93.6,319.8 93.9,320.2 94.2,320.4 94.7,320.3 95.2,320.0 95.7,319.8 96.1,319.9 96.4,320.1 96.7,320.5 97.0,320.9 97.4,321.4 97.8,321.9 98.4,322.6 99.0,323.3 99.6,323.9 100.2,324.4 100.8,324.8 101.4,324.9 102.0,324.7 102.6,324.1 103.2,323.7 103.8,323.7 104.3,323.7 104.9,323.8 105.6,324.0 106.4,324.2 107.1,324.0 107.7,323.3 108.3,322.1 108.8,321.0 109.3,320.0 109.8,319.0 110.2,318.2 110.7,317.6 111.1,317.1 111.5,316.8 111.9,316.8 112.3,317.0 112.7,317.3 113.2,317.7 113.7,318.1 114.1,318.5 114.6,318.6 115.1,318.7 115.6,318.5 116.2,318.1 116.8,317.5 117.3,316.9 117.9,316.0 118.5,315.0 119.1,314.1 119.7,313.3 120.3,312.7 121.0,312.3 121.6,312.1 122.2,312.1 122.8,311.9 123.3,311.3 123.9,310.6 124.5,309.9 124.9,309.4 125.3,309.0 125.8,308.7 126.3,308.7 126.9,308.8 127.5,309.0 128.1,309.1 128.7,309.3 129.3,309.4 129.9,309.4 130.5,309.4 131.1,309.4 131.7,309.5 132.3,309.6 132.9,309.4 133.4,308.6 134.0,307.5 134.6,306.6 135.2,306.3 135.8,306.3 136.4,306.2 137.0,306.1 137.6,305.9 138.2,305.6 138.6,305.1 139.0,304.4 139.4,303.9 139.8,304.0 140.2,304.3 140.6,304.5 141.0,304.7 141.5,304.8 141.9,304.8 142.4,304.6 142.8,304.2 143.3,303.9 143.8,303.8 144.2,303.8 144.7,303.7 145.3,303.4 145.9,302.9 146.5,302.5 147.1,302.3 147.7,302.2 148.3,302.1 148.9,302.2 149.4,302.4 150.0,302.6 150.6,302.5 151.2,302.3 151.8,302.0 152.4,301.9 153.0,301.8 153.6,301.5 154.3,300.8 155.0,299.8 155.7,299.0 156.4,298.3 156.9,297.8 157.5,297.4 158.1,297.4 158.7,297.7 159.2,297.9 159.7,297.8 160.2,297.7 160.7,297.4 161.3,296.9 161.9,296.3 162.4,295.7 162.9,295.4 163.3,295.1 163.7,295.0 164.1,295.1 164.5,295.3 164.9,295.5 165.4,295.7 165.9,295.8 166.3,295.8 166.8,295.6 167.4,295.3 167.9,294.9 168.3,294.5 168.8,294.1 169.3,293.8 169.6,293.7 169.9,293.8 170.3,293.9 170.7,294.0 171.2,294.1 171.8,294.3 172.2,294.7 172.7,295.1 173.2,295.2 173.6,294.8 174.0,294.2 174.4,293.7 174.8,293.7 175.2,293.9 175.7,294.2 176.1,294.5 176.6,294.8 177.1,295.1 177.5,295.2 178.0,295.3 178.5,295.1 179.0,294.6 179.7,293.9 180.3,293.3 180.8,293.2 181.4,293.4 182.0,293.3 182.7,292.8 183.5,292.0 184.2,291.3 184.7,290.6 185.1,289.9 185.6,289.5 186.1,289.5 186.7,289.8 187.2,289.9 187.7,289.7 188.2,289.4 188.7,289.1 189.2,288.9 189.6,288.8 190.1,288.7 190.6,288.3 191.1,287.9 191.5,287.6 191.9,287.5 192.2,287.5 192.6,287.3 193.0,287.1 193.5,286.7 194.0,286.3 194.5,285.8 194.9,285.2 195.4,284.5 195.9,283.8 196.4,283.0 196.9,282.4 197.3,282.0 197.6,281.8 197.9,281.7 198.3,281.8 198.8,282.1 199.3,282.4 199.8,282.7 200.3,282.9 200.8,283.0 201.4,282.7 201.9,282.2 202.4,281.7 202.9,281.5 203.4,281.4 203.8,281.5 204.3,281.8 204.7,282.2 205.1,282.7 205.6,283.1 206.2,283.7 206.7,284.1 207.3,284.5 207.8,284.8 208.3,285.2 208.8,285.6 209.2,286.0 209.6,286.4 210.0,286.7 210.3,287.0 210.6,287.0 211.0,286.9 211.3,286.5 211.6,285.9 212.0,285.1 212.5,284.0 212.9,283.1 213.5,282.6 214.0,282.2 214.6,281.8 215.1,281.1 215.6,280.3 216.2,279.5 216.6,278.6 217.0,277.6 217.5,276.7 218.1,276.1 218.8,275.6 219.5,275.0 220.1,274.1 220.7,273.1 221.4,272.1 222.0,271.4 222.7,270.8 223.4,270.2 224.0,269.6 224.7,269.1 225.3,268.6 225.8,268.1 226.2,267.6 226.7,267.3 227.1,267.0 227.4,267.0 227.8,267.1 228.2,267.5 228.6,268.2 229.1,268.9 229.5,269.6 229.9,270.3 230.3,270.8 230.6,271.1 231.0,271.3 231.4,271.3 231.9,271.1 232.5,270.7 233.1,270.3 233.7,269.8 234.3,269.4 234.9,268.9 235.4,268.6 235.8,268.2 236.2,268.0 236.6,267.9 237.0,267.9 237.4,267.8 237.9,267.5 238.3,266.9 238.8,266.4 239.3,265.9 239.7,265.4 240.2,265.0 240.7,264.8 241.1,264.7 241.5,264.6 241.9,264.4 242.3,264.2 242.7,263.7 243.2,262.6 243.6,261.2 244.1,260.0 244.6,259.4 245.1,259.0 245.5,258.6 246.0,258.3 246.4,258.1 246.8,257.6 247.2,256.9 247.6,256.0 248.0,255.1 248.5,254.1 248.9,253.0 249.4,252.3 249.9,252.0 250.4,252.1 250.9,252.2 251.3,252.3 251.7,252.3 252.1,252.3 252.6,252.0 253.0,251.6 253.4,251.3 253.9,251.4 254.4,251.6 254.8,251.9 255.3,252.2 255.8,252.5 256.2,252.9 256.7,253.3 257.0,253.9 257.4,254.1 257.9,253.8 258.3,253.3 258.7,252.9 259.2,252.8 259.7,252.8 260.1,252.9 260.6,253.0 261.1,253.1 261.6,253.1 262.1,253.0 262.7,252.9 263.4,252.7 264.0,252.5 264.6,252.4 265.2,252.1 265.7,251.6 266.3,251.1 266.9,250.5 267.5,250.0 268.1,249.4 268.7,249.0 269.1,249.0 269.5,249.1 269.9,249.2 270.3,249.4 270.7,249.5 271.2,249.6 271.8,249.6 272.5,249.5 273.2,249.2 273.7,248.8 274.2,248.2 274.7,247.7 275.2,247.1 275.7,246.6 276.2,246.1 276.7,245.9 277.3,245.7 277.9,245.3 278.5,244.6 279.0,243.7 279.6,242.8 280.1,242.2 280.6,241.6 281.1,241.1 281.6,240.7 282.1,240.4 282.6,240.1 283.1,239.6 283.7,239.0 284.3,238.6 284.9,238.6 285.4,238.8 286.0,239.0 286.5,239.4 287.0,239.7 287.5,240.0 288.0,239.9 288.4,239.7 288.9,239.4 289.5,239.0 290.0,238.6 290.6,238.1 291.2,237.7 291.8,237.3 292.4,237.0 293.1,236.8 293.8,236.7 294.5,236.5 295.2,236.1 296.0,235.8 296.6,235.4 297.2,235.3 297.6,235.2 298.1,235.0 298.6,234.5 299.1,233.8 299.6,233.2 300.2,232.6 300.8,232.0 301.3,231.5 301.9,231.2 302.5,231.1 303.0,231.0 303.6,231.0 304.0,231.0 304.5,231.0 305.0,231.0 305.5,231.0 306.0,231.0 306.6,230.8 307.1,230.6 307.7,230.3 308.4,230.0 309.1,229.6 309.9,229.3 310.6,228.9 311.3,228.6 312.0,228.2 312.6,227.8 313.1,227.3 313.7,226.9 314.2,226.7 314.7,226.6 315.2,226.4 315.5,226.3 315.9,226.2 316.3,225.7 316.8,224.8 317.4,223.6 318.0,222.4 318.5,221.3 319.0,220.2 319.5,219.4 320.0,219.0 320.5,219.0 321.0,219.0 321.5,218.8 322.1,218.7 322.7,218.4 323.3,218.0 323.8,217.6 324.4,217.3 324.9,217.3 325.4,217.3 325.9,217.7 326.4,218.6 326.8,219.8 327.3,220.7 327.7,221.3 328.1,221.8 328.6,221.7 329.1,221.0 329.6,219.9 330.1,218.7 330.7,217.5 331.2,216.3 331.6,215.4" fill="none" stroke="#3778b6" stroke-width="1.25" stroke-linejoin="round" stroke-linecap="butt"/>
<polyline points="50.1,335.0 52.5,334.4 54.8,333.7 57.2,333.1 59.6,332.5 61.9,331.9 64.3,331.2 66.7,330.6 69.0,329.9 71.4,329.3 73.8,328.6 76.1,327.9 78.5,327.3 80.9,326.6 83.2,325.9 85.6,325.2 87.9,324.5 90.3,323.7 92.7,323.0 95.0,322.3 97.4,321.6 99.8,320.8 102.1,320.1 104.5,319.3 106.9,318.5 109.2,317.8 111.6,317.0 114.0,316.2 116.3,315.4 118.7,314.6 121.1,313.8 123.4,313.0 125.8,312.2 128.2,311.4 130.5,310.5 132.9,309.7 135.3,308.8 137.6,308.0 140.0,307.1 142.4,306.3 144.7,305.4 147.1,304.5 149.5,303.6 151.8,302.7 154.2,301.8 156.5,300.9 158.9,300.0 161.3,299.1 163.6,298.1 166.0,297.2 168.4,296.3 170.7,295.3 173.1,294.3 175.5,293.4 177.8,292.4 180.2,291.4 182.6,290.4 184.9,289.5 187.3,288.5 189.7,287.4 192.0,286.4 194.4,285.4 196.8,284.4 199.1,283.4 201.5,282.3 203.9,281.3 206.2,280.2 208.6,279.1 211.0,278.1 213.3,277.0 215.7,275.9 218.1,274.8 220.4,273.7 222.8,272.6 225.2,271.5 227.5,270.4 229.9,269.3 232.2,268.2 234.6,267.0 237.0,265.9 239.3,264.7 241.7,263.6 244.1,262.4 246.4,261.2 248.8,260.0 251.2,258.9 253.5,257.7 255.9,256.5 258.3,255.3 260.6,254.1 263.0,252.8 265.4,251.6 267.7,250.4 270.1,249.1 272.5,247.9 274.8,246.6 277.2,245.4 279.6,244.1 281.9,242.8 284.3,241.5 286.7,240.2 289.0,239.0 291.4,237.6 293.8,236.3 296.1,235.0 298.5,233.7 300.8,232.4 303.2,231.0 305.6,229.7 307.9,228.3 310.3,227.0 312.7,225.6 315.0,224.2 317.4,222.9 319.8,221.5 322.1,220.1 324.5,218.7 326.9,217.3 329.2,215.9 331.6,214.4" fill="none" stroke="#f38026" stroke-width="1.3" stroke-linejoin="round"/>
</g>
<rect x="36.7" y="202.65" width="308.65" height="159.60" fill="none" stroke="#505050" stroke-width="1.0"/>
<path d="M42.30 362.25v3.2 M77.44 362.25v3.2 M112.57 362.25v3.2 M147.71 362.25v3.2 M182.84 362.25v3.2 M217.98 362.25v3.2 M253.12 362.25v3.2 M288.25 362.25v3.2 M323.39 362.25v3.2 M36.70 342.60h-3.0 M36.70 320.62h-3.0 M36.70 298.64h-3.0 M36.70 276.66h-3.0 M36.70 254.68h-3.0 M36.70 232.70h-3.0 M36.70 210.72h-3.0" stroke="#505050" stroke-width="1.0" fill="none"/>
<text x="31.35" y="345.95" font-size="9.7" text-anchor="end" fill="#1a1a1a">0</text>
<text x="31.35" y="323.97" font-size="9.7" text-anchor="end" fill="#1a1a1a">20</text>
<text x="31.35" y="301.99" font-size="9.7" text-anchor="end" fill="#1a1a1a">40</text>
<text x="31.35" y="280.01" font-size="9.7" text-anchor="end" fill="#1a1a1a">60</text>
<text x="31.35" y="258.03" font-size="9.7" text-anchor="end" fill="#1a1a1a">80</text>
<text x="31.35" y="236.05" font-size="9.7" text-anchor="end" fill="#1a1a1a">100</text>
<text x="31.35" y="214.07" font-size="9.7" text-anchor="end" fill="#1a1a1a">120</text>
<text x="37.10" y="198.35" font-size="13.6" font-weight="bold" fill="#000">c</text>
<text transform="translate(7.6 282.45) rotate(-90)" font-size="10.4" text-anchor="middle" fill="#1a1a1a">GMSL [mm]</text>
<g clip-path="url(#cp11)">
<polygon points="389.1,233.5 389.3,235.0 389.7,237.0 390.1,237.5 390.6,235.0 391.1,231.0 391.6,227.5 392.2,224.8 392.8,222.7 393.4,222.0 394.1,224.3 394.9,228.2 395.7,230.4 396.4,229.4 397.1,226.8 397.8,224.6 398.4,223.4 399.0,222.6 399.6,222.5 400.1,223.4 400.6,225.1 401.1,226.7 401.6,228.0 402.1,229.1 402.7,229.7 403.3,229.5 404.0,228.8 404.6,227.6 405.2,225.6 405.9,223.0 406.5,220.8 407.1,219.1 407.6,217.9 408.1,217.4 408.6,218.2 409.1,219.8 409.6,221.3 410.0,222.3 410.4,223.2 410.8,223.7 411.4,223.7 412.0,223.5 412.7,223.3 413.4,223.7 414.1,224.2 414.8,224.5 415.5,223.8 416.3,222.8 417.0,222.0 417.8,221.9 418.6,222.1 419.3,222.2 419.8,222.0 420.3,221.8 420.7,221.4 421.1,220.5 421.6,219.5 422.0,219.3 422.4,220.5 422.8,222.5 423.2,224.7 423.6,227.2 424.1,229.8 424.5,231.8 424.8,233.2 425.1,234.1 425.5,233.9 425.9,232.1 426.4,229.2 426.9,226.0 427.4,222.4 427.9,218.4 428.4,215.0 428.9,212.0 429.4,209.6 429.8,208.4 430.2,209.1 430.5,210.9 430.9,213.4 431.3,216.6 431.8,220.3 432.2,223.7 432.5,226.5 432.8,229.0 433.1,230.8 433.6,231.5 434.1,231.5 434.6,232.1 435.0,233.4 435.3,235.2 435.6,237.3 435.9,239.8 436.3,242.7 436.7,246.1 437.2,250.1 437.9,254.6 438.5,258.6 439.1,262.0 439.7,264.9 440.3,266.7 440.9,266.6 441.5,265.5 442.1,265.0 442.7,265.7 443.2,267.0 443.8,268.6 444.5,270.8 445.3,273.4 446.0,274.3 446.6,272.3 447.2,268.6 447.7,264.9 448.2,261.5 448.7,258.1 449.1,255.4 449.5,253.6 450.0,252.5 450.4,252.2 450.8,253.1 451.2,254.8 451.6,257.0 452.0,259.7 452.5,262.8 453.0,265.4 453.5,267.1 454.0,268.3 454.5,268.8 455.0,268.3 455.6,267.0 456.2,265.2 456.8,262.5 457.4,259.2 458.0,256.5 458.6,254.5 459.2,252.9 459.8,252.1 460.4,252.5 461.0,253.7 461.6,254.0 462.2,252.7 462.8,250.7 463.3,248.9 463.7,247.5 464.2,246.5 464.6,246.2 465.1,247.3 465.7,249.3 466.3,251.3 466.9,253.3 467.5,255.4 468.1,257.3 468.7,258.8 469.3,260.1 469.9,261.5 470.5,263.3 471.1,265.1 471.7,265.4 472.3,263.1 472.8,259.4 473.4,256.8 474.0,256.8 474.6,257.9 475.2,259.0 475.8,259.7 476.4,260.3 477.0,260.2 477.4,258.6 477.8,256.4 478.2,255.3 478.6,256.4 479.0,258.5 479.4,260.6 479.8,262.2 480.3,263.7 480.7,264.7 481.2,264.6 481.6,263.9 482.1,263.5 482.6,264.0 483.0,264.9 483.5,265.3 484.1,264.9 484.7,264.0 485.3,263.6 485.9,263.8 486.5,264.4 487.1,265.4 487.7,267.1 488.2,269.1 488.8,270.8 489.4,271.5 490.0,271.8 490.6,272.1 491.2,272.7 491.8,273.4 492.4,273.1 493.1,271.4 493.8,268.7 494.5,266.4 495.1,264.7 495.7,263.3 496.3,262.8 496.9,264.1 497.5,266.5 498.0,268.2 498.5,269.0 499.0,269.3 499.5,269.0 500.1,267.9 500.7,266.3 501.2,265.0 501.7,264.4 502.1,264.0 502.5,264.3 502.9,265.5 503.3,267.3 503.7,269.0 504.1,270.6 504.6,272.2 505.1,273.1 505.6,273.2 506.1,272.8 506.6,272.1 507.1,271.3 507.6,270.4 508.0,269.9 508.3,270.2 508.6,271.0 509.0,272.1 509.5,273.5 510.0,275.2 510.5,277.0 511.0,279.6 511.5,282.3 511.9,283.9 512.3,283.0 512.7,280.9 513.1,279.7 513.5,280.5 514.0,282.2 514.4,284.1 514.9,286.3 515.3,288.8 515.8,290.9 516.3,292.4 516.7,293.6 517.2,294.0 517.8,292.7 518.4,290.7 519.0,289.4 519.6,290.2 520.1,291.9 520.7,292.7 521.4,291.7 522.2,290.0 522.9,288.1 523.4,286.1 523.8,283.9 524.3,282.9 524.8,284.1 525.4,286.5 525.9,288.1 526.4,288.2 526.9,287.6 527.4,287.2 527.9,287.5 528.3,288.0 528.8,288.1 529.3,287.6 529.8,286.7 530.2,286.2 530.6,286.4 530.9,287.0 531.3,287.2 531.7,286.9 532.2,286.2 532.7,285.2 533.2,283.8 533.6,282.1 534.1,280.3 534.6,278.1 535.1,275.7 535.6,273.9 536.0,272.8 536.3,272.2 536.6,272.5 537.0,273.9 537.5,276.1 538.0,278.4 538.5,280.6 539.0,282.9 539.5,284.2 540.0,283.8 540.6,282.5 541.1,281.7 541.6,281.7 542.0,282.1 542.5,283.3 542.9,285.3 543.3,288.1 543.8,291.1 544.3,294.3 544.9,297.6 545.4,300.8 545.9,303.6 546.5,306.1 547.0,308.6 547.5,311.3 547.9,314.1 548.3,316.4 548.7,318.6 549.0,320.4 549.3,321.4 549.6,321.2 549.9,320.2 550.3,318.4 550.7,315.4 551.1,311.6 551.6,308.6 552.1,307.3 552.7,306.7 553.2,305.7 553.7,303.8 554.3,301.5 554.8,298.9 555.2,295.6 555.6,292.0 556.1,289.1 556.7,287.5 557.4,286.6 558.1,285.1 558.7,282.4 559.4,279.1 560.0,276.3 560.7,274.3 561.3,272.8 562.0,271.5 562.7,270.4 563.3,269.4 563.9,268.5 564.4,267.2 564.9,265.9 565.3,265.2 565.7,264.9 566.0,265.2 566.4,266.6 566.8,269.4 567.3,273.3 567.7,277.2 568.1,281.0 568.5,284.8 568.9,287.9 569.3,290.1 569.6,291.5 570.0,292.3 570.5,292.4 571.1,291.8 571.7,291.1 572.3,290.4 572.9,289.6 573.5,288.8 574.0,288.0 574.4,287.3 574.8,287.0 575.2,287.5 575.6,288.5 576.0,288.8 576.5,288.0 576.9,286.6 577.4,285.2 577.9,283.8 578.3,282.5 578.8,281.7 579.2,281.8 579.7,282.3 580.1,282.6 580.5,282.6 580.9,282.3 581.3,280.8 581.8,276.8 582.2,271.6 582.7,267.4 583.2,265.4 583.6,264.5 584.1,263.8 584.5,263.4 585.0,263.1 585.4,262.1 585.8,259.7 586.2,256.5 586.6,253.2 587.0,249.5 587.5,245.7 588.0,243.4 588.5,243.3 589.0,244.7 589.5,246.1 589.9,247.1 590.3,248.2 590.7,248.8 591.1,248.2 591.6,247.2 592.0,246.9 592.5,248.1 592.9,250.0 593.4,252.2 593.9,254.3 594.3,256.7 594.8,259.2 595.2,262.2 595.6,265.3 596.0,267.2 596.4,266.7 596.9,265.1 597.3,264.1 597.8,264.6 598.2,265.8 598.7,267.0 599.2,268.2 599.6,269.4 600.1,270.4 600.7,271.2 601.3,271.7 601.9,272.1 602.5,272.6 603.1,273.0 603.7,272.9 604.3,272.0 604.8,270.6 605.4,269.2 606.0,267.9 606.6,266.6 607.2,266.0 607.6,266.5 608.0,267.7 608.4,269.1 608.8,270.5 609.2,272.2 609.7,273.5 610.3,274.6 611.0,275.4 611.7,275.6 612.2,274.7 612.7,273.2 613.2,271.6 613.7,270.2 614.2,268.8 614.7,267.8 615.3,267.6 615.8,267.9 616.4,267.3 617.0,265.2 617.5,262.4 618.1,259.8 618.6,257.8 619.1,256.1 619.6,254.8 620.1,254.1 620.6,253.9 621.1,253.4 621.7,252.1 622.2,250.6 622.8,250.1 623.4,251.2 623.9,253.2 624.5,255.4 625.0,257.8 625.5,260.5 626.0,262.4 626.5,263.1 626.9,263.0 627.4,262.6 627.9,261.9 628.5,260.8 629.1,259.8 629.7,259.1 630.3,258.5 630.9,258.3 631.6,258.6 632.3,259.2 633.0,259.7 633.7,259.5 634.4,259.2 635.1,259.0 635.6,259.3 636.1,259.7 636.6,259.5 637.1,258.3 637.6,256.4 638.1,254.6 638.7,252.9 639.2,251.2 639.8,250.1 640.4,249.8 640.9,250.2 641.5,250.7 642.0,251.5 642.5,252.4 643.0,253.4 643.5,254.2 644.0,255.0 644.5,255.5 645.0,255.8 645.6,255.8 646.2,255.6 646.9,255.3 647.6,254.8 648.3,254.4 649.0,254.1 649.7,253.9 650.4,253.4 651.0,252.4 651.6,251.1 652.1,250.3 652.6,250.2 653.1,250.6 653.6,250.8 654.0,250.9 654.3,250.9 654.7,249.7 655.2,246.5 655.8,242.2 656.4,238.0 656.9,233.9 657.4,229.8 657.9,227.1 658.4,226.5 658.9,227.2 659.4,227.9 660.0,228.2 660.5,228.5 661.1,228.5 661.7,227.9 662.2,226.9 662.8,226.7 663.3,227.3 663.8,228.6 664.3,231.1 664.8,235.8 665.2,241.8 665.7,246.9 666.1,250.4 666.6,253.0 667.0,253.6 667.5,251.4 668.0,247.3 668.5,243.1 669.1,238.7 669.6,234.2 670.0,231.0 670.0,286.8 669.6,289.8 669.1,294.1 668.5,298.2 668.0,302.3 667.5,306.2 667.0,308.2 666.6,307.3 666.1,304.6 665.7,300.9 665.2,295.7 664.8,289.5 664.3,284.6 663.8,281.8 663.3,280.3 662.8,279.5 662.2,279.6 661.7,280.3 661.1,280.7 660.5,280.4 660.0,279.9 659.4,279.4 658.9,278.5 658.4,277.5 657.9,277.9 657.4,280.5 656.9,284.3 656.4,288.3 655.8,292.3 655.2,296.3 654.7,299.3 654.3,300.3 654.0,300.2 653.6,299.9 653.1,299.5 652.6,298.9 652.1,298.7 651.6,299.2 651.0,300.1 650.4,300.8 649.7,300.9 649.0,300.7 648.3,300.5 647.6,300.6 646.9,300.6 646.2,300.5 645.6,300.3 645.0,300.0 644.5,299.4 644.0,298.6 643.5,297.5 643.0,296.4 642.5,295.1 642.0,293.9 641.5,292.8 640.9,291.9 640.4,291.3 639.8,291.2 639.2,292.1 638.7,293.6 638.1,295.1 637.6,296.8 637.1,298.5 636.6,299.6 636.1,299.7 635.6,299.1 635.1,298.6 634.4,298.6 633.7,298.8 633.0,298.7 632.3,298.1 631.6,297.2 630.9,296.7 630.3,296.8 629.7,297.2 629.1,297.7 628.5,298.5 627.9,299.4 627.4,300.0 626.9,300.2 626.5,300.2 626.0,299.4 625.5,297.5 625.0,294.8 624.5,292.4 623.9,290.1 623.4,288.1 622.8,287.0 622.2,287.5 621.7,288.9 621.1,290.2 620.6,290.6 620.1,290.9 619.6,291.5 619.1,292.8 618.6,294.4 618.1,296.4 617.5,298.9 617.0,301.8 616.4,303.9 615.8,304.4 615.3,304.1 614.7,304.2 614.2,305.2 613.7,306.6 613.2,308.0 612.7,309.5 612.2,311.0 611.7,311.8 611.0,311.7 610.3,310.8 609.7,309.7 609.2,308.3 608.8,306.6 608.4,305.1 608.0,303.7 607.6,302.5 607.2,302.0 606.6,302.5 606.0,303.7 605.4,305.0 604.8,306.3 604.3,307.6 603.7,308.5 603.1,308.5 602.5,308.0 601.9,307.5 601.3,307.0 600.7,306.4 600.1,305.6 599.6,304.5 599.2,303.2 598.7,302.0 598.2,300.7 597.8,299.5 597.3,298.9 596.9,299.8 596.4,301.4 596.0,301.8 595.6,299.9 595.2,296.8 594.8,293.7 594.3,291.2 593.9,288.8 593.4,286.6 592.9,284.4 592.5,282.4 592.0,281.2 591.6,281.4 591.1,282.4 590.7,282.9 590.3,282.4 589.9,281.3 589.5,280.2 589.0,278.8 588.5,277.5 588.0,277.5 587.5,279.9 587.0,283.7 586.6,287.3 586.2,290.6 585.8,293.8 585.4,296.2 585.0,297.3 584.5,297.5 584.1,297.9 583.6,298.6 583.2,299.6 582.7,301.5 582.2,305.7 581.8,310.9 581.3,314.9 580.9,316.4 580.5,316.7 580.1,316.7 579.7,316.4 579.2,315.9 578.8,315.8 578.3,316.6 577.9,317.9 577.4,319.3 576.9,320.7 576.5,322.1 576.0,322.9 575.6,322.6 575.2,321.6 574.8,321.1 574.4,321.4 574.0,322.1 573.5,322.9 572.9,323.6 572.3,324.5 571.7,325.2 571.1,325.9 570.5,326.4 570.0,326.4 569.6,325.6 569.3,324.1 568.9,322.0 568.5,318.9 568.1,315.0 567.7,311.2 567.3,307.3 566.8,303.5 566.4,300.6 566.0,299.3 565.7,299.0 565.3,299.2 564.9,300.0 564.4,301.3 563.9,302.5 563.3,303.5 562.7,304.4 562.0,305.5 561.3,306.8 560.7,308.3 560.0,310.3 559.4,313.1 558.7,316.4 558.1,319.1 557.4,320.6 556.7,321.5 556.1,323.0 555.6,326.0 555.2,329.6 554.8,332.9 554.3,335.5 553.7,337.8 553.2,339.7 552.7,340.7 552.1,341.2 551.6,342.6 551.1,345.6 550.7,349.4 550.3,352.4 549.9,354.2 549.6,355.2 549.3,355.3 549.0,354.3 548.7,352.5 548.3,350.4 547.9,348.0 547.5,345.3 547.0,342.6 546.5,340.0 545.9,337.5 545.4,334.7 544.9,331.6 544.3,328.2 543.8,325.0 543.3,322.0 542.9,319.3 542.5,317.2 542.0,316.0 541.6,315.6 541.1,315.6 540.6,316.4 540.0,317.7 539.5,318.1 539.0,316.8 538.5,314.5 538.0,312.3 537.5,310.0 537.0,307.8 536.6,306.3 536.3,306.1 536.0,306.6 535.6,307.7 535.1,309.6 534.6,311.9 534.1,314.2 533.6,316.0 533.2,317.7 532.7,319.1 532.2,320.1 531.7,320.7 531.3,321.1 530.9,320.8 530.6,320.3 530.2,320.1 529.8,320.6 529.3,321.4 528.8,322.0 528.3,321.8 527.9,321.3 527.4,321.1 526.9,321.5 526.4,322.0 525.9,322.0 525.4,320.3 524.8,317.9 524.3,316.7 523.8,317.7 523.4,319.9 522.9,321.9 522.2,323.8 521.4,325.6 520.7,326.5 520.1,325.7 519.6,324.0 519.0,323.2 518.4,324.5 517.8,326.5 517.2,327.7 516.7,327.4 516.3,326.2 515.8,324.6 515.3,322.6 514.9,320.1 514.4,317.9 514.0,316.0 513.5,314.3 513.1,313.5 512.7,314.6 512.3,316.7 511.9,317.6 511.5,316.1 511.0,313.3 510.5,310.8 510.0,308.9 509.5,307.2 509.0,305.9 508.6,304.8 508.3,304.0 508.0,303.7 507.6,304.1 507.1,305.1 506.6,305.9 506.1,306.5 505.6,307.0 505.1,306.9 504.6,305.9 504.1,304.4 503.7,302.8 503.3,301.0 502.9,299.2 502.5,298.0 502.1,297.7 501.7,298.1 501.2,298.7 500.7,300.0 500.1,301.6 499.5,302.7 499.0,303.0 498.5,302.7 498.0,301.9 497.5,300.1 496.9,297.8 496.3,296.5 495.7,296.9 495.1,298.4 494.5,300.1 493.8,302.4 493.1,305.1 492.4,306.9 491.8,307.1 491.2,306.5 490.6,305.9 490.0,305.7 489.4,305.4 488.8,304.6 488.2,303.1 487.7,301.0 487.1,299.4 486.5,298.4 485.9,297.8 485.3,297.6 484.7,298.1 484.1,299.0 483.5,299.4 483.0,299.0 482.6,298.1 482.1,297.7 481.6,298.1 481.2,298.9 480.7,299.1 480.3,298.3 479.8,296.9 479.4,295.4 479.0,293.5 478.6,291.5 478.2,290.6 477.8,291.8 477.4,294.1 477.0,295.8 476.4,296.0 475.8,295.7 475.2,295.2 474.6,294.4 474.0,293.4 473.4,293.7 472.8,296.4 472.3,300.4 471.7,302.9 471.1,302.8 470.5,301.2 469.9,299.7 469.3,298.8 468.7,297.9 468.1,296.9 467.5,295.4 466.9,293.8 466.3,292.2 465.7,290.6 465.1,289.1 464.6,288.3 464.2,288.6 463.7,289.7 463.3,291.1 462.8,292.9 462.2,295.1 461.6,296.5 461.0,296.2 460.4,295.2 459.8,294.8 459.2,295.8 458.6,297.4 458.0,299.5 457.4,302.3 456.8,305.7 456.2,308.4 455.6,310.4 455.0,311.9 454.5,312.6 454.0,312.5 453.5,311.5 453.0,310.0 452.5,307.7 452.0,304.9 451.6,302.4 451.2,300.5 450.8,299.0 450.4,298.3 450.0,298.8 449.5,300.1 449.1,302.1 448.7,305.0 448.2,308.7 447.7,312.3 447.2,316.3 446.6,320.2 446.0,322.5 445.3,321.9 444.5,319.6 443.8,317.5 443.2,316.0 442.7,314.7 442.1,314.0 441.5,314.6 440.9,315.8 440.3,315.9 439.7,314.2 439.1,311.3 438.5,308.0 437.9,304.1 437.2,299.7 436.7,295.7 436.3,292.4 435.9,289.5 435.6,287.0 435.3,284.9 435.0,283.3 434.6,282.4 434.1,282.5 433.6,283.1 433.1,283.1 432.8,281.7 432.5,279.6 432.2,277.1 431.8,274.3 431.3,271.1 430.9,268.6 430.5,266.6 430.2,265.1 429.8,265.0 429.4,266.3 428.9,268.9 428.4,272.0 427.9,275.6 427.4,279.7 426.9,283.5 426.4,286.9 425.9,289.9 425.5,291.8 425.1,292.2 424.8,291.4 424.5,290.1 424.1,288.2 423.6,285.7 423.2,283.5 422.8,281.6 422.4,279.8 422.0,278.9 421.6,279.4 421.1,280.7 420.7,281.8 420.3,282.5 419.8,283.0 419.3,283.5 418.6,283.8 417.8,284.2 417.0,284.8 416.3,286.2 415.5,287.9 414.8,289.2 414.1,289.5 413.4,289.3 412.7,289.1 412.0,289.5 411.4,290.0 410.8,290.1 410.4,289.7 410.0,289.0 409.6,288.1 409.1,286.8 408.6,285.3 408.1,284.6 407.6,285.5 407.1,287.5 406.5,289.9 405.9,292.9 405.2,296.4 404.6,299.3 404.0,301.3 403.3,302.8 402.7,303.4 402.1,303.2 401.6,302.4 401.1,301.4 400.6,300.2 400.1,298.8 399.6,298.2 399.0,298.8 398.4,300.3 397.8,302.3 397.1,305.4 396.4,308.9 395.7,310.9 394.9,309.6 394.1,306.8 393.4,305.2 392.8,306.3 392.2,308.9 391.6,311.9 391.1,315.7 390.6,320.1 390.1,322.9 389.7,322.7 389.3,320.9 389.1,319.4" fill="#d8d8d8" stroke="none"/>
<polyline points="389.1,276.5 389.3,278.0 389.7,279.9 390.1,280.2 390.6,277.6 391.1,273.4 391.6,269.7 392.2,266.8 392.8,264.5 393.4,263.6 394.1,265.5 394.9,268.9 395.7,270.7 396.4,269.2 397.1,266.1 397.8,263.4 398.4,261.8 399.0,260.7 399.6,260.3 400.1,261.1 400.6,262.6 401.1,264.0 401.6,265.2 402.1,266.2 402.7,266.5 403.3,266.1 404.0,265.1 404.6,263.4 405.2,261.0 405.9,257.9 406.5,255.3 407.1,253.3 407.6,251.7 408.1,251.0 408.6,251.7 409.1,253.3 409.6,254.7 410.0,255.7 410.4,256.5 410.8,256.9 411.4,256.9 412.0,256.5 412.7,256.2 413.4,256.5 414.1,256.9 414.8,256.8 415.5,255.9 416.3,254.5 417.0,253.4 417.8,253.0 418.6,253.0 419.3,252.8 419.8,252.5 420.3,252.1 420.7,251.6 421.1,250.6 421.6,249.4 422.0,249.1 422.4,250.2 422.8,252.0 423.2,254.1 423.6,256.4 424.1,259.0 424.5,260.9 424.8,262.3 425.1,263.1 425.5,262.8 425.9,261.0 426.4,258.0 426.9,254.7 427.4,251.0 427.9,247.0 428.4,243.5 428.9,240.5 429.4,238.0 429.8,236.7 430.2,237.1 430.5,238.8 430.9,241.0 431.3,243.9 431.8,247.3 432.2,250.4 432.5,253.0 432.8,255.3 433.1,256.9 433.6,257.3 434.1,257.0 434.6,257.2 435.0,258.4 435.3,260.0 435.6,262.1 435.9,264.6 436.3,267.5 436.7,270.9 437.2,274.9 437.9,279.3 438.5,283.3 439.1,286.7 439.7,289.5 440.3,291.3 440.9,291.2 441.5,290.1 442.1,289.5 442.7,290.2 443.2,291.5 443.8,293.0 444.5,295.2 445.3,297.7 446.0,298.4 446.6,296.3 447.2,292.4 447.7,288.6 448.2,285.1 448.7,281.6 449.1,278.8 449.5,276.8 450.0,275.6 450.4,275.3 450.8,276.0 451.2,277.6 451.6,279.7 452.0,282.3 452.5,285.3 453.0,287.7 453.5,289.3 454.0,290.4 454.5,290.7 455.0,290.1 455.6,288.7 456.2,286.8 456.8,284.1 457.4,280.8 458.0,278.0 458.6,275.9 459.2,274.3 459.8,273.5 460.4,273.9 461.0,275.0 461.6,275.3 462.2,273.9 462.8,271.8 463.3,270.0 463.7,268.6 464.2,267.5 464.6,267.2 465.1,268.2 465.7,269.9 466.3,271.8 466.9,273.5 467.5,275.4 468.1,277.1 468.7,278.4 469.3,279.5 469.9,280.6 470.5,282.2 471.1,283.9 471.7,284.2 472.3,281.7 472.8,277.9 473.4,275.3 474.0,275.1 474.6,276.1 475.2,277.1 475.8,277.7 476.4,278.1 477.0,278.0 477.4,276.4 477.8,274.1 478.2,273.0 478.6,273.9 479.0,276.0 479.4,278.0 479.8,279.6 480.3,281.0 480.7,281.9 481.2,281.7 481.6,281.0 482.1,280.6 482.6,281.1 483.0,281.9 483.5,282.4 484.1,281.9 484.7,281.0 485.3,280.6 485.9,280.8 486.5,281.4 487.1,282.4 487.7,284.0 488.2,286.1 488.8,287.7 489.4,288.4 490.0,288.7 490.6,289.0 491.2,289.6 491.8,290.3 492.4,290.0 493.1,288.2 493.8,285.6 494.5,283.3 495.1,281.5 495.7,280.1 496.3,279.7 496.9,281.0 497.5,283.3 498.0,285.1 498.5,285.9 499.0,286.2 499.5,285.9 500.1,284.8 500.7,283.2 501.2,281.9 501.7,281.2 502.1,280.9 502.5,281.2 502.9,282.4 503.3,284.2 503.7,285.9 504.1,287.5 504.6,289.0 505.1,290.0 505.6,290.1 506.1,289.6 506.6,289.0 507.1,288.2 507.6,287.3 508.0,286.8 508.3,287.1 508.6,287.9 509.0,289.0 509.5,290.4 510.0,292.0 510.5,293.9 511.0,296.5 511.5,299.2 511.9,300.7 512.3,299.9 512.7,297.8 513.1,296.6 513.5,297.4 514.0,299.1 514.4,301.0 514.9,303.2 515.3,305.7 515.8,307.7 516.3,309.3 516.7,310.5 517.2,310.9 517.8,309.6 518.4,307.6 519.0,306.3 519.6,307.1 520.1,308.8 520.7,309.6 521.4,308.6 522.2,306.9 522.9,305.0 523.4,303.0 523.8,300.8 524.3,299.8 524.8,301.0 525.4,303.4 525.9,305.0 526.4,305.1 526.9,304.5 527.4,304.1 527.9,304.4 528.3,304.9 528.8,305.0 529.3,304.5 529.8,303.7 530.2,303.1 530.6,303.4 530.9,303.9 531.3,304.1 531.7,303.8 532.2,303.1 532.7,302.1 533.2,300.8 533.6,299.1 534.1,297.2 534.6,295.0 535.1,292.6 535.6,290.8 536.0,289.7 536.3,289.1 536.6,289.4 537.0,290.8 537.5,293.1 538.0,295.3 538.5,297.6 539.0,299.8 539.5,301.1 540.0,300.8 540.6,299.5 541.1,298.6 541.6,298.6 542.0,299.1 542.5,300.2 542.9,302.3 543.3,305.1 543.8,308.0 544.3,311.2 544.9,314.6 545.4,317.8 545.9,320.5 546.5,323.1 547.0,325.6 547.5,328.3 547.9,331.0 548.3,333.4 548.7,335.6 549.0,337.4 549.3,338.3 549.6,338.2 549.9,337.2 550.3,335.4 550.7,332.4 551.1,328.6 551.6,325.6 552.1,324.3 552.7,323.7 553.2,322.7 553.7,320.8 554.3,318.5 554.8,315.9 555.2,312.6 555.6,309.0 556.1,306.0 556.7,304.5 557.4,303.6 558.1,302.1 558.7,299.4 559.4,296.1 560.0,293.3 560.7,291.3 561.3,289.8 562.0,288.5 562.7,287.4 563.3,286.5 563.9,285.5 564.4,284.2 564.9,283.0 565.3,282.2 565.7,282.0 566.0,282.3 566.4,283.6 566.8,286.4 567.3,290.3 567.7,294.2 568.1,298.0 568.5,301.8 568.9,304.9 569.3,307.1 569.6,308.5 570.0,309.4 570.5,309.4 571.1,308.8 571.7,308.1 572.3,307.4 572.9,306.6 573.5,305.8 574.0,305.1 574.4,304.4 574.8,304.0 575.2,304.6 575.6,305.5 576.0,305.8 576.5,305.0 576.9,303.6 577.4,302.2 577.9,300.9 578.3,299.6 578.8,298.7 579.2,298.8 579.7,299.4 580.1,299.6 580.5,299.7 580.9,299.4 581.3,297.8 581.8,293.9 582.2,288.6 582.7,284.5 583.2,282.5 583.6,281.6 584.1,280.9 584.5,280.4 585.0,280.2 585.4,279.2 585.8,276.8 586.2,273.6 586.6,270.3 587.0,266.6 587.5,262.8 588.0,260.4 588.5,260.4 589.0,261.8 589.5,263.1 589.9,264.2 590.3,265.3 590.7,265.8 591.1,265.3 591.6,264.3 592.0,264.0 592.5,265.2 592.9,267.2 593.4,269.4 593.9,271.6 594.3,274.0 594.8,276.5 595.2,279.5 595.6,282.6 596.0,284.5 596.4,284.1 596.9,282.4 597.3,281.5 597.8,282.0 598.2,283.2 598.7,284.5 599.2,285.7 599.6,286.9 600.1,288.0 600.7,288.8 601.3,289.3 601.9,289.8 602.5,290.3 603.1,290.8 603.7,290.7 604.3,289.8 604.8,288.4 605.4,287.1 606.0,285.8 606.6,284.5 607.2,284.0 607.6,284.5 608.0,285.7 608.4,287.1 608.8,288.6 609.2,290.2 609.7,291.6 610.3,292.7 611.0,293.5 611.7,293.7 612.2,292.9 612.7,291.3 613.2,289.8 613.7,288.4 614.2,287.0 614.7,286.0 615.3,285.9 615.8,286.1 616.4,285.6 617.0,283.5 617.5,280.7 618.1,278.1 618.6,276.1 619.1,274.4 619.6,273.2 620.1,272.5 620.6,272.2 621.1,271.8 621.7,270.5 622.2,269.1 622.8,268.6 623.4,269.6 623.9,271.7 624.5,273.9 625.0,276.3 625.5,279.0 626.0,280.9 626.5,281.6 626.9,281.6 627.4,281.3 627.9,280.6 628.5,279.6 629.1,278.8 629.7,278.1 630.3,277.6 630.9,277.5 631.6,277.9 632.3,278.7 633.0,279.2 633.7,279.2 634.4,278.9 635.1,278.8 635.6,279.2 636.1,279.7 636.6,279.6 637.1,278.4 637.6,276.6 638.1,274.9 638.7,273.2 639.2,271.6 639.8,270.7 640.4,270.6 640.9,271.0 641.5,271.8 642.0,272.7 642.5,273.8 643.0,274.9 643.5,275.8 644.0,276.8 644.5,277.5 645.0,277.9 645.6,278.0 646.2,278.1 646.9,278.0 647.6,277.7 648.3,277.5 649.0,277.4 649.7,277.4 650.4,277.1 651.0,276.2 651.6,275.2 652.1,274.5 652.6,274.6 653.1,275.1 653.6,275.4 654.0,275.6 654.3,275.6 654.7,274.5 655.2,271.4 655.8,267.2 656.4,263.1 656.9,259.1 657.4,255.2 657.9,252.5 658.4,252.0 658.9,252.8 659.4,253.6 660.0,254.1 660.5,254.5 661.1,254.6 661.7,254.1 662.2,253.2 662.8,253.1 663.3,253.8 663.8,255.2 664.3,257.8 664.8,262.7 665.2,268.8 665.7,273.9 666.1,277.5 666.6,280.2 667.0,280.9 667.5,278.8 668.0,274.8 668.5,270.7 669.1,266.4 669.6,262.0 670.0,258.9" fill="none" stroke="#3778b6" stroke-width="1.25" stroke-linejoin="round" stroke-linecap="butt"/>
<polyline points="389.1,234.6 391.5,236.6 393.8,238.6 396.2,240.5 398.5,242.4 400.9,244.2 403.3,246.0 405.6,247.8 408.0,249.6 410.3,251.3 412.7,253.0 415.1,254.7 417.4,256.3 419.8,258.0 422.1,259.5 424.5,261.1 426.9,262.6 429.2,264.1 431.6,265.5 433.9,267.0 436.3,268.4 438.7,269.7 441.0,271.1 443.4,272.4 445.8,273.6 448.1,274.9 450.5,276.1 452.8,277.3 455.2,278.4 457.6,279.5 459.9,280.6 462.3,281.7 464.6,282.7 467.0,283.7 469.4,284.7 471.7,285.6 474.1,286.5 476.4,287.4 478.8,288.2 481.2,289.0 483.5,289.8 485.9,290.6 488.2,291.3 490.6,292.0 493.0,292.6 495.3,293.3 497.7,293.9 500.0,294.4 502.4,295.0 504.8,295.5 507.1,295.9 509.5,296.4 511.8,296.8 514.2,297.2 516.6,297.5 518.9,297.8 521.3,298.1 523.6,298.4 526.0,298.6 528.4,298.8 530.7,299.0 533.1,299.1 535.5,299.2 537.8,299.3 540.2,299.3 542.5,299.4 544.9,299.3 547.3,299.3 549.6,299.2 552.0,299.1 554.3,299.0 556.7,298.8 559.1,298.6 561.4,298.4 563.8,298.1 566.1,297.8 568.5,297.5 570.9,297.1 573.2,296.7 575.6,296.3 577.9,295.9 580.3,295.4 582.7,294.9 585.0,294.3 587.4,293.8 589.7,293.2 592.1,292.5 594.5,291.9 596.8,291.2 599.2,290.5 601.5,289.7 603.9,288.9 606.3,288.1 608.6,287.3 611.0,286.4 613.3,285.5 615.7,284.5 618.1,283.6 620.4,282.6 622.8,281.5 625.2,280.5 627.5,279.4 629.9,278.3 632.2,277.1 634.6,275.9 637.0,274.7 639.3,273.4 641.7,272.2 644.0,270.9 646.4,269.5 648.8,268.2 651.1,266.8 653.5,265.3 655.8,263.9 658.2,262.4 660.6,260.9 662.9,259.3 665.3,257.7 667.6,256.1 670.0,254.5" fill="none" stroke="#f38026" stroke-width="1.3" stroke-linejoin="round"/>
</g>
<rect x="375.4" y="202.65" width="308.05" height="159.60" fill="none" stroke="#505050" stroke-width="1.0"/>
<path d="M380.60 362.25v3.2 M415.72 362.25v3.2 M450.84 362.25v3.2 M485.96 362.25v3.2 M521.08 362.25v3.2 M556.20 362.25v3.2 M591.32 362.25v3.2 M626.44 362.25v3.2 M661.56 362.25v3.2 M375.40 361.10h-3.0 M375.40 336.70h-3.0 M375.40 312.30h-3.0 M375.40 287.90h-3.0 M375.40 263.50h-3.0 M375.40 239.10h-3.0 M375.40 214.70h-3.0" stroke="#505050" stroke-width="1.0" fill="none"/>
<text x="370.05" y="364.45" font-size="9.7" text-anchor="end" fill="#1a1a1a">-15</text>
<text x="370.05" y="340.05" font-size="9.7" text-anchor="end" fill="#1a1a1a">-10</text>
<text x="370.05" y="315.65" font-size="9.7" text-anchor="end" fill="#1a1a1a">-5</text>
<text x="370.05" y="291.25" font-size="9.7" text-anchor="end" fill="#1a1a1a">0</text>
<text x="370.05" y="266.85" font-size="9.7" text-anchor="end" fill="#1a1a1a">5</text>
<text x="370.05" y="242.45" font-size="9.7" text-anchor="end" fill="#1a1a1a">10</text>
<text x="370.05" y="218.05" font-size="9.7" text-anchor="end" fill="#1a1a1a">15</text>
<text x="375.80" y="198.35" font-size="13.6" font-weight="bold" fill="#000">d</text>
<g clip-path="url(#cp20)">
<polygon points="50.1,522.3 50.3,522.5 50.7,522.8 51.1,522.8 51.6,522.0 52.1,520.9 52.6,519.8 53.2,519.0 53.8,518.3 54.4,517.8 55.1,518.0 55.9,518.5 56.7,518.7 57.4,518.1 58.1,517.2 58.8,516.4 59.5,515.9 60.1,515.4 60.6,515.2 61.1,515.1 61.6,515.3 62.1,515.4 62.6,515.5 63.2,515.5 63.7,515.4 64.3,515.1 65.0,514.6 65.6,514.1 66.3,513.3 66.9,512.5 67.5,511.7 68.1,511.1 68.6,510.6 69.1,510.2 69.7,510.2 70.2,510.3 70.6,510.4 71.0,510.5 71.4,510.5 71.8,510.5 72.4,510.2 73.1,509.8 73.8,509.5 74.4,509.3 75.1,509.1 75.9,508.8 76.6,508.4 77.3,507.8 78.1,507.3 78.9,506.9 79.7,506.6 80.4,506.3 80.9,506.0 81.3,505.8 81.8,505.5 82.2,505.1 82.6,504.7 83.1,504.5 83.5,504.6 83.9,504.8 84.3,505.2 84.7,505.5 85.2,505.9 85.6,506.2 85.9,506.3 86.2,506.4 86.6,506.2 87.0,505.6 87.5,504.7 88.0,503.8 88.5,502.8 89.0,501.6 89.5,500.7 90.0,499.8 90.4,499.0 90.9,498.5 91.3,498.5 91.6,498.8 92.0,499.2 92.4,499.7 92.9,500.3 93.3,500.9 93.6,501.4 93.9,501.9 94.2,502.1 94.7,502.1 95.2,501.8 95.7,501.7 96.1,501.9 96.4,502.1 96.7,502.5 97.0,502.9 97.4,503.4 97.8,504.0 98.4,504.6 99.0,505.4 99.6,506.0 100.2,506.5 100.8,506.9 101.4,507.0 102.0,506.7 102.6,506.2 103.2,505.8 103.8,505.7 104.3,505.8 104.9,505.9 105.6,506.1 106.4,506.3 107.1,506.2 107.7,505.5 108.3,504.4 108.8,503.3 109.3,502.3 109.8,501.4 110.2,500.6 110.7,499.9 111.1,499.5 111.5,499.3 111.9,499.3 112.3,499.5 112.7,499.8 113.2,500.2 113.7,500.7 114.1,501.1 114.6,501.2 115.1,501.3 115.6,501.2 116.2,500.8 116.8,500.3 117.3,499.6 117.9,498.7 118.5,497.7 119.1,496.8 119.7,496.1 120.3,495.5 121.0,495.0 121.6,494.9 122.2,494.9 122.8,494.7 123.3,494.1 123.9,493.4 124.5,492.8 124.9,492.3 125.3,491.8 125.8,491.6 126.3,491.6 126.9,491.8 127.5,492.0 128.1,492.2 128.7,492.4 129.3,492.5 129.9,492.6 130.5,492.6 131.1,492.7 131.7,492.8 132.3,492.9 132.9,492.7 133.4,492.0 134.0,490.9 134.6,490.1 135.2,489.8 135.8,489.8 136.4,489.7 137.0,489.6 137.6,489.5 138.2,489.2 138.6,488.7 139.0,488.0 139.4,487.6 139.8,487.6 140.2,487.9 140.6,488.2 141.0,488.4 141.5,488.6 141.9,488.6 142.4,488.3 142.8,488.0 143.3,487.7 143.8,487.6 144.2,487.6 144.7,487.5 145.3,487.1 145.9,486.7 146.5,486.3 147.1,486.1 147.7,485.9 148.3,485.9 148.9,486.0 149.4,486.2 150.0,486.3 150.6,486.2 151.2,486.0 151.8,485.8 152.4,485.7 153.0,485.6 153.6,485.3 154.3,484.6 155.0,483.6 155.7,482.8 156.4,482.2 156.9,481.6 157.5,481.2 158.1,481.3 158.7,481.5 159.2,481.7 159.7,481.6 160.2,481.5 160.7,481.2 161.3,480.7 161.9,480.1 162.4,479.5 162.9,479.2 163.3,478.9 163.7,478.8 164.1,478.9 164.5,479.1 164.9,479.3 165.4,479.5 165.9,479.6 166.3,479.6 166.8,479.4 167.4,479.1 167.9,478.7 168.3,478.3 168.8,477.9 169.3,477.6 169.6,477.5 169.9,477.6 170.3,477.7 170.7,477.8 171.2,477.9 171.8,478.1 172.2,478.5 172.7,478.9 173.2,479.0 173.6,478.6 174.0,478.0 174.4,477.5 174.8,477.5 175.2,477.7 175.7,478.0 176.1,478.3 176.6,478.6 177.1,478.8 177.5,479.0 178.0,479.1 178.5,478.9 179.0,478.4 179.7,477.7 180.3,477.1 180.8,477.0 181.4,477.2 182.0,477.1 182.7,476.5 183.5,475.8 184.2,475.1 184.7,474.4 185.1,473.7 185.6,473.3 186.1,473.3 186.7,473.6 187.2,473.7 187.7,473.5 188.2,473.2 188.7,472.9 189.2,472.7 189.6,472.6 190.1,472.4 190.6,472.1 191.1,471.7 191.5,471.4 191.9,471.3 192.2,471.2 192.6,471.1 193.0,470.9 193.5,470.5 194.0,470.1 194.5,469.5 194.9,469.0 195.4,468.3 195.9,467.6 196.4,466.8 196.9,466.2 197.3,465.8 197.6,465.5 197.9,465.4 198.3,465.6 198.8,465.9 199.3,466.2 199.8,466.4 200.3,466.7 200.8,466.8 201.4,466.5 201.9,465.9 202.4,465.5 202.9,465.3 203.4,465.2 203.8,465.3 204.3,465.5 204.7,466.0 205.1,466.4 205.6,466.9 206.2,467.4 206.7,467.9 207.3,468.3 207.8,468.6 208.3,469.0 208.8,469.4 209.2,469.8 209.6,470.1 210.0,470.5 210.3,470.7 210.6,470.8 211.0,470.6 211.3,470.3 211.6,469.7 212.0,468.8 212.5,467.8 212.9,466.9 213.5,466.4 214.0,466.0 214.6,465.5 215.1,464.9 215.6,464.1 216.2,463.3 216.6,462.4 217.0,461.4 217.5,460.5 218.1,459.9 218.8,459.4 219.5,458.7 220.1,457.8 220.7,456.8 221.4,455.9 222.0,455.2 222.7,454.5 223.4,453.9 224.0,453.4 224.7,452.9 225.3,452.4 225.8,451.9 226.2,451.4 226.7,451.0 227.1,450.8 227.4,450.7 227.8,450.9 228.2,451.3 228.6,452.0 229.1,452.7 229.5,453.3 229.9,454.0 230.3,454.6 230.6,454.9 231.0,455.1 231.4,455.1 231.9,454.8 232.5,454.5 233.1,454.0 233.7,453.6 234.3,453.1 234.9,452.7 235.4,452.3 235.8,452.0 236.2,451.7 236.6,451.7 237.0,451.7 237.4,451.6 237.9,451.2 238.3,450.7 238.8,450.2 239.3,449.6 239.7,449.1 240.2,448.7 240.7,448.6 241.1,448.5 241.5,448.4 241.9,448.2 242.3,448.0 242.7,447.4 243.2,446.3 243.6,444.9 244.1,443.8 244.6,443.1 245.1,442.7 245.5,442.4 246.0,442.1 246.4,441.8 246.8,441.4 247.2,440.7 247.6,439.8 248.0,438.9 248.5,437.8 248.9,436.8 249.4,436.0 249.9,435.8 250.4,435.9 250.9,436.0 251.3,436.0 251.7,436.1 252.1,436.0 252.6,435.7 253.0,435.3 253.4,435.0 253.9,435.1 254.4,435.3 254.8,435.6 255.3,435.9 255.8,436.2 256.2,436.6 256.7,437.1 257.0,437.6 257.4,437.8 257.9,437.5 258.3,437.0 258.7,436.5 259.2,436.5 259.7,436.5 260.1,436.6 260.6,436.6 261.1,436.7 261.6,436.7 262.1,436.6 262.7,436.5 263.4,436.3 264.0,436.2 264.6,436.0 265.2,435.7 265.7,435.2 266.3,434.7 266.9,434.1 267.5,433.5 268.1,433.0 268.7,432.6 269.1,432.5 269.5,432.6 269.9,432.7 270.3,432.9 270.7,433.1 271.2,433.2 271.8,433.1 272.5,433.0 273.2,432.7 273.7,432.3 274.2,431.7 274.7,431.2 275.2,430.6 275.7,430.1 276.2,429.6 276.7,429.4 277.3,429.2 277.9,428.8 278.5,428.1 279.0,427.2 279.6,426.3 280.1,425.6 280.6,425.0 281.1,424.5 281.6,424.2 282.1,423.9 282.6,423.5 283.1,423.0 283.7,422.4 284.3,422.1 284.9,422.0 285.4,422.2 286.0,422.5 286.5,422.8 287.0,423.2 287.5,423.4 288.0,423.3 288.4,423.1 288.9,422.8 289.5,422.4 290.0,421.9 290.6,421.4 291.2,421.0 291.8,420.6 292.4,420.3 293.1,420.1 293.8,419.9 294.5,419.7 295.2,419.3 296.0,418.9 296.6,418.6 297.2,418.4 297.6,418.3 298.1,418.0 298.6,417.5 299.1,416.9 299.6,416.3 300.2,415.6 300.8,415.0 301.3,414.5 301.9,414.2 302.5,414.0 303.0,413.9 303.6,413.8 304.0,413.8 304.5,413.8 305.0,413.8 305.5,413.7 306.0,413.6 306.6,413.4 307.1,413.2 307.7,412.9 308.4,412.5 309.1,412.1 309.9,411.7 310.6,411.3 311.3,410.9 312.0,410.5 312.6,410.0 313.1,409.5 313.7,409.1 314.2,408.8 314.7,408.7 315.2,408.5 315.5,408.4 315.9,408.2 316.3,407.8 316.8,406.8 317.4,405.6 318.0,404.4 318.5,403.2 319.0,402.1 319.5,401.2 320.0,400.9 320.5,400.8 321.0,400.8 321.5,400.6 322.1,400.4 322.7,400.2 323.3,399.7 323.8,399.3 324.4,399.0 324.9,398.9 325.4,399.0 325.9,399.3 326.4,400.2 326.8,401.3 327.3,402.2 327.7,402.8 328.1,403.2 328.6,403.2 329.1,402.5 329.6,401.3 330.1,400.1 330.7,398.9 331.2,397.6 331.6,396.8 331.6,409.3 331.2,410.2 330.7,411.4 330.1,412.6 329.6,413.7 329.1,414.8 328.6,415.5 328.1,415.5 327.7,415.0 327.3,414.4 326.8,413.4 326.4,412.2 325.9,411.3 325.4,410.9 324.9,410.8 324.4,410.9 323.8,411.1 323.3,411.5 322.7,411.9 322.1,412.1 321.5,412.2 321.0,412.4 320.5,412.4 320.0,412.4 319.5,412.7 319.0,413.5 318.5,414.6 318.0,415.7 317.4,416.9 316.8,418.0 316.3,418.9 315.9,419.3 315.5,419.5 315.2,419.6 314.7,419.7 314.2,419.8 313.7,420.0 313.1,420.3 312.6,420.8 312.0,421.2 311.3,421.5 310.6,421.8 309.9,422.1 309.1,422.4 308.4,422.7 307.7,423.0 307.1,423.2 306.6,423.4 306.0,423.5 305.5,423.5 305.0,423.5 304.5,423.5 304.0,423.4 303.6,423.4 303.0,423.4 302.5,423.4 301.9,423.5 301.3,423.7 300.8,424.2 300.2,424.8 299.6,425.4 299.1,426.0 298.6,426.6 298.1,427.1 297.6,427.3 297.2,427.4 296.6,427.5 296.0,427.8 295.2,428.2 294.5,428.5 293.8,428.6 293.1,428.8 292.4,428.9 291.8,429.2 291.2,429.6 290.6,430.0 290.0,430.4 289.5,430.9 288.9,431.2 288.4,431.5 288.0,431.7 287.5,431.7 287.0,431.5 286.5,431.1 286.0,430.8 285.4,430.6 284.9,430.4 284.3,430.4 283.7,430.7 283.1,431.3 282.6,431.8 282.1,432.2 281.6,432.4 281.1,432.8 280.6,433.3 280.1,433.9 279.6,434.6 279.0,435.4 278.5,436.3 277.9,437.0 277.3,437.4 276.7,437.6 276.2,437.8 275.7,438.3 275.2,438.8 274.7,439.4 274.2,439.9 273.7,440.5 273.2,440.9 272.5,441.1 271.8,441.3 271.2,441.3 270.7,441.2 270.3,441.0 269.9,440.9 269.5,440.7 269.1,440.6 268.7,440.7 268.1,441.0 267.5,441.6 266.9,442.2 266.3,442.7 265.7,443.3 265.2,443.7 264.6,444.0 264.0,444.1 263.4,444.3 262.7,444.4 262.1,444.6 261.6,444.6 261.1,444.6 260.6,444.5 260.1,444.5 259.7,444.4 259.2,444.3 258.7,444.4 258.3,444.8 257.9,445.4 257.4,445.6 257.0,445.4 256.7,444.8 256.2,444.3 255.8,444.0 255.3,443.6 254.8,443.3 254.4,443.1 253.9,442.8 253.4,442.8 253.0,443.0 252.6,443.4 252.1,443.7 251.7,443.8 251.3,443.7 250.9,443.7 250.4,443.6 249.9,443.5 249.4,443.7 248.9,444.5 248.5,445.5 248.0,446.5 247.6,447.5 247.2,448.4 246.8,449.1 246.4,449.5 246.0,449.8 245.5,450.1 245.1,450.4 244.6,450.8 244.1,451.5 243.6,452.6 243.2,454.0 242.7,455.1 242.3,455.6 241.9,455.9 241.5,456.0 241.1,456.2 240.7,456.2 240.2,456.4 239.7,456.8 239.3,457.3 238.8,457.8 238.3,458.4 237.9,458.9 237.4,459.3 237.0,459.4 236.6,459.3 236.2,459.4 235.8,459.7 235.4,460.0 234.9,460.4 234.3,460.8 233.7,461.3 233.1,461.7 232.5,462.1 231.9,462.5 231.4,462.7 231.0,462.7 230.6,462.6 230.3,462.2 229.9,461.7 229.5,461.0 229.1,460.3 228.6,459.7 228.2,459.0 227.8,458.5 227.4,458.4 227.1,458.5 226.7,458.7 226.2,459.1 225.8,459.6 225.3,460.1 224.7,460.5 224.0,461.0 223.4,461.6 222.7,462.2 222.0,462.8 221.4,463.6 220.7,464.5 220.1,465.5 219.5,466.4 218.8,467.0 218.1,467.5 217.5,468.2 217.0,469.0 216.6,470.0 216.2,471.0 215.6,471.8 215.1,472.5 214.6,473.2 214.0,473.7 213.5,474.0 212.9,474.6 212.5,475.5 212.0,476.5 211.6,477.4 211.3,477.9 211.0,478.3 210.6,478.5 210.3,478.4 210.0,478.1 209.6,477.8 209.2,477.4 208.8,477.0 208.3,476.6 207.8,476.3 207.3,475.9 206.7,475.6 206.2,475.1 205.6,474.6 205.1,474.1 204.7,473.6 204.3,473.2 203.8,472.9 203.4,472.8 202.9,472.9 202.4,473.2 201.9,473.6 201.4,474.1 200.8,474.4 200.3,474.4 199.8,474.1 199.3,473.8 198.8,473.5 198.3,473.2 197.9,473.1 197.6,473.2 197.3,473.4 196.9,473.8 196.4,474.5 195.9,475.2 195.4,476.0 194.9,476.6 194.5,477.2 194.0,477.7 193.5,478.1 193.0,478.5 192.6,478.8 192.2,478.9 191.9,478.9 191.5,479.0 191.1,479.3 190.6,479.7 190.1,480.1 189.6,480.2 189.2,480.3 188.7,480.5 188.2,480.8 187.7,481.1 187.2,481.4 186.7,481.2 186.1,480.9 185.6,480.9 185.1,481.3 184.7,482.0 184.2,482.7 183.5,483.4 182.7,484.2 182.0,484.7 181.4,484.8 180.8,484.6 180.3,484.7 179.7,485.3 179.0,486.0 178.5,486.5 178.0,486.7 177.5,486.6 177.1,486.5 176.6,486.2 176.1,485.9 175.7,485.6 175.2,485.3 174.8,485.1 174.4,485.1 174.0,485.6 173.6,486.2 173.2,486.6 172.7,486.5 172.2,486.1 171.8,485.7 171.2,485.5 170.7,485.4 170.3,485.3 169.9,485.2 169.6,485.1 169.3,485.2 168.8,485.5 168.3,485.9 167.9,486.3 167.4,486.7 166.8,487.0 166.3,487.2 165.9,487.2 165.4,487.1 164.9,486.9 164.5,486.7 164.1,486.5 163.7,486.4 163.3,486.5 162.9,486.8 162.4,487.1 161.9,487.6 161.3,488.3 160.7,488.8 160.2,489.1 159.7,489.2 159.2,489.3 158.7,489.1 158.1,488.8 157.5,488.8 156.9,489.2 156.4,489.7 155.7,490.4 155.0,491.2 154.3,492.2 153.6,492.9 153.0,493.2 152.4,493.3 151.8,493.5 151.2,493.7 150.6,493.9 150.0,494.0 149.4,493.9 148.9,493.7 148.3,493.5 147.7,493.6 147.1,493.7 146.5,493.9 145.9,494.3 145.3,494.8 144.7,495.2 144.2,495.3 143.8,495.3 143.3,495.4 142.8,495.7 142.4,496.1 141.9,496.3 141.5,496.3 141.0,496.2 140.6,496.1 140.2,495.8 139.8,495.5 139.4,495.5 139.0,496.0 138.6,496.6 138.2,497.2 137.6,497.5 137.0,497.7 136.4,497.9 135.8,498.0 135.2,498.0 134.6,498.4 134.0,499.2 133.4,500.4 132.9,501.2 132.3,501.4 131.7,501.3 131.1,501.3 130.5,501.3 129.9,501.4 129.3,501.4 128.7,501.4 128.1,501.3 127.5,501.2 126.9,501.1 126.3,501.0 125.8,501.0 125.3,501.3 124.9,501.7 124.5,502.3 123.9,502.9 123.3,503.7 122.8,504.2 122.2,504.4 121.6,504.5 121.0,504.7 120.3,505.1 119.7,505.8 119.1,506.5 118.5,507.4 117.9,508.4 117.3,509.3 116.8,510.0 116.2,510.6 115.6,511.0 115.1,511.2 114.6,511.2 114.1,511.1 113.7,510.8 113.2,510.4 112.7,510.0 112.3,509.8 111.9,509.6 111.5,509.6 111.1,509.9 110.7,510.4 110.2,511.1 109.8,511.9 109.3,512.9 108.8,514.0 108.3,515.1 107.7,516.2 107.1,517.0 106.4,517.2 105.6,517.1 104.9,516.9 104.3,516.8 103.8,516.8 103.2,516.9 102.6,517.3 102.0,517.8 101.4,518.1 100.8,518.0 100.2,517.6 99.6,517.1 99.0,516.5 98.4,515.8 97.8,515.1 97.4,514.6 97.0,514.1 96.7,513.7 96.4,513.3 96.1,513.1 95.7,513.1 95.2,513.3 94.7,513.7 94.2,513.9 93.9,513.7 93.6,513.4 93.3,513.0 92.9,512.5 92.4,512.0 92.0,511.6 91.6,511.3 91.3,511.2 90.9,511.3 90.4,511.8 90.0,512.6 89.5,513.5 89.0,514.5 88.5,515.7 88.0,516.7 87.5,517.7 87.0,518.6 86.6,519.2 86.2,519.5 85.9,519.4 85.6,519.3 85.2,519.1 84.7,518.7 84.3,518.4 83.9,518.1 83.5,517.9 83.1,517.9 82.6,518.2 82.2,518.7 81.8,519.1 81.3,519.5 80.9,519.8 80.4,520.1 79.7,520.5 78.9,521.0 78.1,521.5 77.3,522.1 76.6,522.8 75.9,523.4 75.1,523.8 74.4,524.1 73.8,524.3 73.1,524.7 72.4,525.1 71.8,525.4 71.4,525.5 71.0,525.5 70.6,525.5 70.2,525.4 69.7,525.3 69.1,525.4 68.6,525.8 68.1,526.5 67.5,527.3 66.9,528.2 66.3,529.3 65.6,530.2 65.0,531.0 64.3,531.6 63.7,532.0 63.2,532.2 62.6,532.3 62.1,532.3 61.6,532.2 61.1,532.1 60.6,532.2 60.1,532.6 59.5,533.2 58.8,533.9 58.1,534.9 57.4,536.0 56.7,536.8 55.9,536.9 55.1,536.6 54.4,536.6 53.8,537.1 53.2,537.9 52.6,538.8 52.1,540.0 51.6,541.2 51.1,542.0 50.7,542.1 50.3,541.9 50.1,541.7" fill="#d8d8d8" stroke="none"/>
<polyline points="50.1,532.0 50.3,532.2 50.7,532.5 51.1,532.4 51.6,531.6 52.1,530.4 52.6,529.3 53.2,528.5 53.8,527.7 54.4,527.2 55.1,527.3 55.9,527.7 56.7,527.7 57.4,527.1 58.1,526.1 58.8,525.2 59.5,524.5 60.1,524.0 60.6,523.7 61.1,523.6 61.6,523.8 62.1,523.8 62.6,523.9 63.2,523.9 63.7,523.7 64.3,523.3 65.0,522.8 65.6,522.2 66.3,521.3 66.9,520.3 67.5,519.5 68.1,518.8 68.6,518.2 69.1,517.8 69.7,517.7 70.2,517.9 70.6,518.0 71.0,518.0 71.4,518.0 71.8,517.9 72.4,517.7 73.1,517.3 73.8,516.9 74.4,516.7 75.1,516.5 75.9,516.1 76.6,515.6 77.3,515.0 78.1,514.4 78.9,513.9 79.7,513.6 80.4,513.2 80.9,512.9 81.3,512.6 81.8,512.3 82.2,511.9 82.6,511.4 83.1,511.2 83.5,511.2 83.9,511.5 84.3,511.8 84.7,512.1 85.2,512.5 85.6,512.7 85.9,512.9 86.2,512.9 86.6,512.7 87.0,512.1 87.5,511.2 88.0,510.3 88.5,509.2 89.0,508.1 89.5,507.1 90.0,506.2 90.4,505.4 90.9,504.9 91.3,504.8 91.6,505.1 92.0,505.4 92.4,505.9 92.9,506.4 93.3,506.9 93.6,507.4 93.9,507.8 94.2,508.0 94.7,507.9 95.2,507.6 95.7,507.4 96.1,507.5 96.4,507.7 96.7,508.1 97.0,508.5 97.4,509.0 97.8,509.5 98.4,510.2 99.0,510.9 99.6,511.5 100.2,512.0 100.8,512.4 101.4,512.5 102.0,512.3 102.6,511.7 103.2,511.3 103.8,511.3 104.3,511.3 104.9,511.4 105.6,511.6 106.4,511.8 107.1,511.6 107.7,510.9 108.3,509.7 108.8,508.6 109.3,507.6 109.8,506.6 110.2,505.8 110.7,505.2 111.1,504.7 111.5,504.4 111.9,504.4 112.3,504.6 112.7,504.9 113.2,505.3 113.7,505.7 114.1,506.1 114.6,506.2 115.1,506.3 115.6,506.1 116.2,505.7 116.8,505.1 117.3,504.5 117.9,503.6 118.5,502.6 119.1,501.7 119.7,500.9 120.3,500.3 121.0,499.9 121.6,499.7 122.2,499.7 122.8,499.5 123.3,498.9 123.9,498.2 124.5,497.5 124.9,497.0 125.3,496.6 125.8,496.3 126.3,496.3 126.9,496.4 127.5,496.6 128.1,496.7 128.7,496.9 129.3,497.0 129.9,497.0 130.5,497.0 131.1,497.0 131.7,497.1 132.3,497.2 132.9,497.0 133.4,496.2 134.0,495.1 134.6,494.2 135.2,493.9 135.8,493.9 136.4,493.8 137.0,493.7 137.6,493.5 138.2,493.2 138.6,492.7 139.0,492.0 139.4,491.5 139.8,491.6 140.2,491.9 140.6,492.1 141.0,492.3 141.5,492.4 141.9,492.4 142.4,492.2 142.8,491.8 143.3,491.5 143.8,491.4 144.2,491.4 144.7,491.3 145.3,491.0 145.9,490.5 146.5,490.1 147.1,489.9 147.7,489.8 148.3,489.7 148.9,489.8 149.4,490.0 150.0,490.2 150.6,490.1 151.2,489.9 151.8,489.6 152.4,489.5 153.0,489.4 153.6,489.1 154.3,488.4 155.0,487.4 155.7,486.6 156.4,485.9 156.9,485.4 157.5,485.0 158.1,485.0 158.7,485.3 159.2,485.5 159.7,485.4 160.2,485.3 160.7,485.0 161.3,484.5 161.9,483.9 162.4,483.3 162.9,483.0 163.3,482.7 163.7,482.6 164.1,482.7 164.5,482.9 164.9,483.1 165.4,483.3 165.9,483.4 166.3,483.4 166.8,483.2 167.4,482.9 167.9,482.5 168.3,482.1 168.8,481.7 169.3,481.4 169.6,481.3 169.9,481.4 170.3,481.5 170.7,481.6 171.2,481.7 171.8,481.9 172.2,482.3 172.7,482.7 173.2,482.8 173.6,482.4 174.0,481.8 174.4,481.3 174.8,481.3 175.2,481.5 175.7,481.8 176.1,482.1 176.6,482.4 177.1,482.7 177.5,482.8 178.0,482.9 178.5,482.7 179.0,482.2 179.7,481.5 180.3,480.9 180.8,480.8 181.4,481.0 182.0,480.9 182.7,480.4 183.5,479.6 184.2,478.9 184.7,478.2 185.1,477.5 185.6,477.1 186.1,477.1 186.7,477.4 187.2,477.5 187.7,477.3 188.2,477.0 188.7,476.7 189.2,476.5 189.6,476.4 190.1,476.3 190.6,475.9 191.1,475.5 191.5,475.2 191.9,475.1 192.2,475.1 192.6,474.9 193.0,474.7 193.5,474.3 194.0,473.9 194.5,473.4 194.9,472.8 195.4,472.1 195.9,471.4 196.4,470.6 196.9,470.0 197.3,469.6 197.6,469.4 197.9,469.3 198.3,469.4 198.8,469.7 199.3,470.0 199.8,470.3 200.3,470.5 200.8,470.6 201.4,470.3 201.9,469.8 202.4,469.3 202.9,469.1 203.4,469.0 203.8,469.1 204.3,469.4 204.7,469.8 205.1,470.3 205.6,470.7 206.2,471.3 206.7,471.7 207.3,472.1 207.8,472.4 208.3,472.8 208.8,473.2 209.2,473.6 209.6,474.0 210.0,474.3 210.3,474.6 210.6,474.6 211.0,474.5 211.3,474.1 211.6,473.5 212.0,472.7 212.5,471.6 212.9,470.7 213.5,470.2 214.0,469.8 214.6,469.4 215.1,468.7 215.6,467.9 216.2,467.1 216.6,466.2 217.0,465.2 217.5,464.3 218.1,463.7 218.8,463.2 219.5,462.6 220.1,461.7 220.7,460.7 221.4,459.7 222.0,459.0 222.7,458.4 223.4,457.8 224.0,457.2 224.7,456.7 225.3,456.2 225.8,455.7 226.2,455.2 226.7,454.9 227.1,454.6 227.4,454.6 227.8,454.7 228.2,455.1 228.6,455.8 229.1,456.5 229.5,457.2 229.9,457.9 230.3,458.4 230.6,458.7 231.0,458.9 231.4,458.9 231.9,458.7 232.5,458.3 233.1,457.9 233.7,457.4 234.3,457.0 234.9,456.5 235.4,456.2 235.8,455.8 236.2,455.6 236.6,455.5 237.0,455.5 237.4,455.4 237.9,455.1 238.3,454.5 238.8,454.0 239.3,453.5 239.7,453.0 240.2,452.6 240.7,452.4 241.1,452.3 241.5,452.2 241.9,452.0 242.3,451.8 242.7,451.3 243.2,450.2 243.6,448.8 244.1,447.6 244.6,447.0 245.1,446.6 245.5,446.2 246.0,445.9 246.4,445.7 246.8,445.2 247.2,444.5 247.6,443.6 248.0,442.7 248.5,441.7 248.9,440.6 249.4,439.9 249.9,439.6 250.4,439.7 250.9,439.8 251.3,439.9 251.7,439.9 252.1,439.9 252.6,439.6 253.0,439.2 253.4,438.9 253.9,439.0 254.4,439.2 254.8,439.5 255.3,439.8 255.8,440.1 256.2,440.5 256.7,440.9 257.0,441.5 257.4,441.7 257.9,441.4 258.3,440.9 258.7,440.5 259.2,440.4 259.7,440.4 260.1,440.5 260.6,440.6 261.1,440.7 261.6,440.7 262.1,440.6 262.7,440.5 263.4,440.3 264.0,440.1 264.6,440.0 265.2,439.7 265.7,439.2 266.3,438.7 266.9,438.1 267.5,437.6 268.1,437.0 268.7,436.6 269.1,436.6 269.5,436.7 269.9,436.8 270.3,437.0 270.7,437.1 271.2,437.2 271.8,437.2 272.5,437.1 273.2,436.8 273.7,436.4 274.2,435.8 274.7,435.3 275.2,434.7 275.7,434.2 276.2,433.7 276.7,433.5 277.3,433.3 277.9,432.9 278.5,432.2 279.0,431.3 279.6,430.4 280.1,429.8 280.6,429.2 281.1,428.7 281.6,428.3 282.1,428.0 282.6,427.7 283.1,427.2 283.7,426.6 284.3,426.2 284.9,426.2 285.4,426.4 286.0,426.6 286.5,427.0 287.0,427.3 287.5,427.6 288.0,427.5 288.4,427.3 288.9,427.0 289.5,426.6 290.0,426.2 290.6,425.7 291.2,425.3 291.8,424.9 292.4,424.6 293.1,424.4 293.8,424.3 294.5,424.1 295.2,423.7 296.0,423.4 296.6,423.0 297.2,422.9 297.6,422.8 298.1,422.6 298.6,422.1 299.1,421.4 299.6,420.8 300.2,420.2 300.8,419.6 301.3,419.1 301.9,418.8 302.5,418.7 303.0,418.6 303.6,418.6 304.0,418.6 304.5,418.6 305.0,418.6 305.5,418.6 306.0,418.6 306.6,418.4 307.1,418.2 307.7,417.9 308.4,417.6 309.1,417.2 309.9,416.9 310.6,416.5 311.3,416.2 312.0,415.8 312.6,415.4 313.1,414.9 313.7,414.5 314.2,414.3 314.7,414.2 315.2,414.0 315.5,413.9 315.9,413.8 316.3,413.3 316.8,412.4 317.4,411.2 318.0,410.0 318.5,408.9 319.0,407.8 319.5,407.0 320.0,406.6 320.5,406.6 321.0,406.6 321.5,406.4 322.1,406.3 322.7,406.0 323.3,405.6 323.8,405.2 324.4,404.9 324.9,404.9 325.4,404.9 325.9,405.3 326.4,406.2 326.8,407.4 327.3,408.3 327.7,408.9 328.1,409.4 328.6,409.3 329.1,408.6 329.6,407.5 330.1,406.3 330.7,405.1 331.2,403.9 331.6,403.0" fill="none" stroke="#3778b6" stroke-width="1.25" stroke-linejoin="round" stroke-linecap="butt"/>
<polyline points="50.1,527.0 217.6,464.8 331.6,402.6" fill="none" stroke="#f38026" stroke-width="1.3" stroke-linejoin="round"/>
</g>
<rect x="36.7" y="390.4" width="308.65" height="159.55" fill="none" stroke="#505050" stroke-width="1.0"/>
<path d="M42.30 549.95v3.2 M77.44 549.95v3.2 M112.57 549.95v3.2 M147.71 549.95v3.2 M182.84 549.95v3.2 M217.98 549.95v3.2 M253.12 549.95v3.2 M288.25 549.95v3.2 M323.39 549.95v3.2 M36.70 530.20h-3.0 M36.70 508.22h-3.0 M36.70 486.24h-3.0 M36.70 464.26h-3.0 M36.70 442.28h-3.0 M36.70 420.30h-3.0 M36.70 398.32h-3.0" stroke="#505050" stroke-width="1.0" fill="none"/>
<text x="31.35" y="533.55" font-size="9.7" text-anchor="end" fill="#1a1a1a">0</text>
<text x="31.35" y="511.57" font-size="9.7" text-anchor="end" fill="#1a1a1a">20</text>
<text x="31.35" y="489.59" font-size="9.7" text-anchor="end" fill="#1a1a1a">40</text>
<text x="31.35" y="467.61" font-size="9.7" text-anchor="end" fill="#1a1a1a">60</text>
<text x="31.35" y="445.63" font-size="9.7" text-anchor="end" fill="#1a1a1a">80</text>
<text x="31.35" y="423.65" font-size="9.7" text-anchor="end" fill="#1a1a1a">100</text>
<text x="31.35" y="401.67" font-size="9.7" text-anchor="end" fill="#1a1a1a">120</text>
<text x="42.30" y="563.6" font-size="9.7" text-anchor="middle" fill="#1a1a1a">1992</text>
<text x="77.44" y="563.6" font-size="9.7" text-anchor="middle" fill="#1a1a1a">1996</text>
<text x="112.57" y="563.6" font-size="9.7" text-anchor="middle" fill="#1a1a1a">2000</text>
<text x="147.71" y="563.6" font-size="9.7" text-anchor="middle" fill="#1a1a1a">2004</text>
<text x="182.84" y="563.6" font-size="9.7" text-anchor="middle" fill="#1a1a1a">2008</text>
<text x="217.98" y="563.6" font-size="9.7" text-anchor="middle" fill="#1a1a1a">2012</text>
<text x="253.12" y="563.6" font-size="9.7" text-anchor="middle" fill="#1a1a1a">2016</text>
<text x="288.25" y="563.6" font-size="9.7" text-anchor="middle" fill="#1a1a1a">2020</text>
<text x="323.39" y="563.6" font-size="9.7" text-anchor="middle" fill="#1a1a1a">2024</text>
<text x="37.10" y="386.10" font-size="13.6" font-weight="bold" fill="#000">e</text>
<text transform="translate(7.6 470.18) rotate(-90)" font-size="10.4" text-anchor="middle" fill="#1a1a1a">GMSL [mm]</text>
<g clip-path="url(#cp21)">
<polygon points="389.1,421.3 389.3,422.8 389.7,424.8 390.1,425.3 390.6,422.8 391.1,418.8 391.6,415.3 392.2,412.6 392.8,410.5 393.4,409.9 394.1,412.1 394.9,416.0 395.7,418.2 396.4,417.2 397.1,414.6 397.8,412.4 398.4,411.2 399.0,410.5 399.6,410.3 400.1,411.2 400.6,412.9 401.1,414.5 401.6,415.8 402.1,417.0 402.7,417.5 403.3,417.3 404.0,416.6 404.6,415.4 405.2,413.4 405.9,410.8 406.5,408.6 407.1,407.0 407.6,405.7 408.1,405.2 408.6,406.0 409.1,407.7 409.6,409.2 410.0,410.2 410.4,411.0 410.8,411.6 411.4,411.6 412.0,411.3 412.7,411.2 413.4,411.5 414.1,412.1 414.8,412.3 415.5,411.7 416.3,410.6 417.0,409.8 417.8,409.7 418.6,409.9 419.3,410.0 419.8,409.9 420.3,409.6 420.7,409.2 421.1,408.4 421.6,407.3 422.0,407.2 422.4,408.3 422.8,410.3 423.2,412.5 423.6,415.0 424.1,417.6 424.5,419.6 424.8,421.0 425.1,421.9 425.5,421.7 425.9,419.9 426.4,417.0 426.9,413.8 427.4,410.2 427.9,406.3 428.4,402.8 428.9,399.9 429.4,397.5 429.8,396.3 430.2,396.9 430.5,398.8 430.9,401.3 431.3,404.4 431.8,408.1 432.2,411.5 432.5,414.3 432.8,416.8 433.1,418.6 433.6,419.3 434.1,419.3 434.6,419.9 435.0,421.3 435.3,423.0 435.6,425.1 435.9,427.6 436.3,430.5 436.7,433.8 437.2,437.9 437.9,442.4 438.5,446.3 439.1,449.7 439.7,452.6 440.3,454.4 440.9,454.4 441.5,453.3 442.1,452.7 442.7,453.5 443.2,454.8 443.8,456.3 444.5,458.6 445.3,461.2 446.0,462.1 446.6,460.1 447.2,456.4 447.7,452.7 448.2,449.3 448.7,445.9 449.1,443.2 449.5,441.4 450.0,440.2 450.4,440.0 450.8,440.8 451.2,442.6 451.6,444.7 452.0,447.4 452.5,450.5 453.0,453.1 453.5,454.9 454.0,456.1 454.5,456.5 455.0,456.1 455.6,454.8 456.2,452.9 456.8,450.2 457.4,447.0 458.0,444.2 458.6,442.2 459.2,440.7 459.8,439.9 460.4,440.3 461.0,441.5 461.6,441.8 462.2,440.5 462.8,438.4 463.3,436.6 463.7,435.3 464.2,434.3 464.6,434.0 465.1,435.1 465.7,437.0 466.3,439.1 466.9,441.1 467.5,443.2 468.1,445.0 468.7,446.6 469.3,447.9 469.9,449.2 470.5,451.0 471.1,452.8 471.7,453.2 472.3,450.9 472.8,447.1 473.4,444.6 474.0,444.6 474.6,445.7 475.2,446.7 475.8,447.4 476.4,448.0 477.0,447.9 477.4,446.4 477.8,444.2 478.2,443.1 478.6,444.1 479.0,446.3 479.4,448.3 479.8,449.9 480.3,451.5 480.7,452.4 481.2,452.3 481.6,451.6 482.1,451.3 482.6,451.8 483.0,452.6 483.5,453.1 484.1,452.6 484.7,451.8 485.3,451.3 485.9,451.5 486.5,452.2 487.1,453.2 487.7,454.8 488.2,456.9 488.8,458.5 489.4,459.2 490.0,459.5 490.6,459.8 491.2,460.5 491.8,461.1 492.4,460.9 493.1,459.1 493.8,456.5 494.5,454.2 495.1,452.4 495.7,451.0 496.3,450.6 496.9,451.9 497.5,454.2 498.0,456.0 498.5,456.8 499.0,457.0 499.5,456.8 500.1,455.7 500.7,454.0 501.2,452.8 501.7,452.1 502.1,451.8 502.5,452.1 502.9,453.3 503.3,455.1 503.7,456.8 504.1,458.4 504.6,459.9 505.1,460.9 505.6,461.0 506.1,460.5 506.6,459.9 507.1,459.1 507.6,458.1 508.0,457.7 508.3,458.0 508.6,458.8 509.0,459.9 509.5,461.2 510.0,462.9 510.5,464.8 511.0,467.3 511.5,470.0 511.9,471.6 512.3,470.7 512.7,468.6 513.1,467.5 513.5,468.2 514.0,469.9 514.4,471.9 514.9,474.1 515.3,476.5 515.8,478.6 516.3,480.1 516.7,481.3 517.2,481.7 517.8,480.4 518.4,478.4 519.0,477.1 519.6,477.9 520.1,479.6 520.7,480.3 521.4,479.4 522.2,477.7 522.9,475.8 523.4,473.8 523.8,471.6 524.3,470.6 524.8,471.8 525.4,474.2 525.9,475.8 526.4,475.9 526.9,475.3 527.4,474.9 527.9,475.2 528.3,475.7 528.8,475.8 529.3,475.3 529.8,474.4 530.2,473.9 530.6,474.1 530.9,474.7 531.3,474.9 531.7,474.6 532.2,473.9 532.7,472.9 533.2,471.5 533.6,469.9 534.1,468.0 534.6,465.8 535.1,463.4 535.6,461.6 536.0,460.5 536.3,459.9 536.6,460.2 537.0,461.6 537.5,463.9 538.0,466.1 538.5,468.3 539.0,470.6 539.5,471.9 540.0,471.5 540.6,470.2 541.1,469.4 541.6,469.4 542.0,469.8 542.5,471.0 542.9,473.1 543.3,475.8 543.8,478.8 544.3,481.9 544.9,485.3 545.4,488.5 545.9,491.2 546.5,493.8 547.0,496.3 547.5,499.0 547.9,501.7 548.3,504.1 548.7,506.2 549.0,508.0 549.3,509.0 549.6,508.8 549.9,507.8 550.3,506.1 550.7,503.1 551.1,499.3 551.6,496.3 552.1,494.9 552.7,494.4 553.2,493.4 553.7,491.5 554.3,489.2 554.8,486.6 555.2,483.3 555.6,479.7 556.1,476.8 556.7,475.2 557.4,474.3 558.1,472.8 558.7,470.1 559.4,466.9 560.0,464.0 560.7,462.1 561.3,460.5 562.0,459.2 562.7,458.1 563.3,457.2 563.9,456.2 564.4,455.0 564.9,453.7 565.3,452.9 565.7,452.7 566.0,453.0 566.4,454.3 566.8,457.2 567.3,461.0 567.7,464.9 568.1,468.7 568.5,472.5 568.9,475.6 569.3,477.8 569.6,479.2 570.0,480.0 570.5,480.1 571.1,479.5 571.7,478.8 572.3,478.1 572.9,477.3 573.5,476.5 574.0,475.7 574.4,475.0 574.8,474.7 575.2,475.2 575.6,476.2 576.0,476.5 576.5,475.7 576.9,474.3 577.4,472.9 577.9,471.6 578.3,470.2 578.8,469.4 579.2,469.5 579.7,470.0 580.1,470.3 580.5,470.3 580.9,470.0 581.3,468.5 581.8,464.5 582.2,459.3 582.7,455.2 583.2,453.2 583.6,452.3 584.1,451.6 584.5,451.1 585.0,450.9 585.4,449.9 585.8,447.5 586.2,444.3 586.6,441.0 587.0,437.3 587.5,433.5 588.0,431.2 588.5,431.1 589.0,432.5 589.5,433.8 589.9,434.9 590.3,436.0 590.7,436.5 591.1,436.0 591.6,435.0 592.0,434.7 592.5,435.9 592.9,437.8 593.4,439.9 593.9,442.1 594.3,444.5 594.8,447.0 595.2,449.9 595.6,453.0 596.0,454.9 596.4,454.5 596.9,452.8 597.3,451.8 597.8,452.3 598.2,453.5 598.7,454.7 599.2,455.9 599.6,457.1 600.1,458.2 600.7,458.9 601.3,459.4 601.9,459.9 602.5,460.4 603.1,460.8 603.7,460.7 604.3,459.8 604.8,458.3 605.4,457.0 606.0,455.6 606.6,454.4 607.2,453.8 607.6,454.3 608.0,455.5 608.4,456.8 608.8,458.3 609.2,459.9 609.7,461.3 610.3,462.3 611.0,463.2 611.7,463.3 612.2,462.4 612.7,460.9 613.2,459.4 613.7,457.9 614.2,456.5 614.7,455.5 615.3,455.4 615.8,455.6 616.4,455.1 617.0,453.0 617.5,450.1 618.1,447.5 618.6,445.6 619.1,443.9 619.6,442.6 620.1,441.9 620.6,441.6 621.1,441.1 621.7,439.9 622.2,438.4 622.8,437.9 623.4,438.9 623.9,440.9 624.5,443.1 625.0,445.6 625.5,448.2 626.0,450.1 626.5,450.8 626.9,450.7 627.4,450.3 627.9,449.6 628.5,448.5 629.1,447.6 629.7,446.9 630.3,446.3 630.9,446.0 631.6,446.4 632.3,447.0 633.0,447.4 633.7,447.3 634.4,446.9 635.1,446.7 635.6,447.0 636.1,447.5 636.6,447.3 637.1,446.0 637.6,444.2 638.1,442.4 638.7,440.6 639.2,439.0 639.8,437.9 640.4,437.6 640.9,437.9 641.5,438.5 642.0,439.2 642.5,440.2 643.0,441.1 643.5,442.0 644.0,442.7 644.5,443.3 645.0,443.5 645.6,443.5 646.2,443.4 646.9,443.1 647.6,442.6 648.3,442.2 649.0,441.9 649.7,441.6 650.4,441.1 651.0,440.1 651.6,438.9 652.1,438.0 652.6,438.0 653.1,438.4 653.6,438.6 654.0,438.7 654.3,438.7 654.7,437.5 655.2,434.3 655.8,430.0 656.4,425.8 656.9,421.7 657.4,417.6 657.9,414.9 658.4,414.3 658.9,415.0 659.4,415.7 660.0,416.0 660.5,416.3 661.1,416.4 661.7,415.7 662.2,414.8 662.8,414.5 663.3,415.1 663.8,416.4 664.3,418.9 664.8,423.6 665.2,429.6 665.7,434.6 666.1,438.2 666.6,440.7 667.0,441.4 667.5,439.2 668.0,435.1 668.5,430.9 669.1,426.5 669.6,422.0 670.0,418.9 670.0,474.5 669.6,477.5 669.1,481.8 668.5,485.9 668.0,490.0 667.5,493.8 667.0,495.8 666.6,495.0 666.1,492.3 665.7,488.6 665.2,483.4 664.8,477.2 664.3,472.3 663.8,469.5 663.3,468.1 662.8,467.3 662.2,467.3 661.7,468.0 661.1,468.4 660.5,468.2 660.0,467.6 659.4,467.1 658.9,466.2 658.4,465.3 657.9,465.7 657.4,468.2 656.9,472.1 656.4,476.0 655.8,480.0 655.2,484.0 654.7,486.9 654.3,488.0 654.0,487.9 653.6,487.6 653.1,487.2 652.6,486.6 652.1,486.3 651.6,486.9 651.0,487.8 650.4,488.4 649.7,488.5 649.0,488.4 648.3,488.2 647.6,488.2 646.9,488.3 646.2,488.2 645.6,488.0 645.0,487.6 644.5,487.1 644.0,486.2 643.5,485.2 643.0,484.1 642.5,482.8 642.0,481.6 641.5,480.5 640.9,479.6 640.4,479.0 639.8,478.9 639.2,479.8 638.7,481.3 638.1,482.8 637.6,484.5 637.1,486.2 636.6,487.3 636.1,487.3 635.6,486.7 635.1,486.3 634.4,486.3 633.7,486.5 633.0,486.4 632.3,485.7 631.6,484.9 630.9,484.4 630.3,484.4 629.7,484.8 629.1,485.4 628.5,486.2 627.9,487.1 627.4,487.6 626.9,487.9 626.5,487.8 626.0,487.1 625.5,485.2 625.0,482.5 624.5,480.0 623.9,477.8 623.4,475.8 622.8,474.7 622.2,475.2 621.7,476.6 621.1,477.9 620.6,478.3 620.1,478.6 619.6,479.2 619.1,480.5 618.6,482.1 618.1,484.1 617.5,486.6 617.0,489.5 616.4,491.5 615.8,492.0 615.3,491.8 614.7,491.9 614.2,492.9 613.7,494.3 613.2,495.6 612.7,497.1 612.2,498.7 611.7,499.5 611.0,499.3 610.3,498.5 609.7,497.3 609.2,496.0 608.8,494.3 608.4,492.8 608.0,491.4 607.6,490.2 607.2,489.6 606.6,490.1 606.0,491.4 605.4,492.6 604.8,493.9 604.3,495.3 603.7,496.1 603.1,496.2 602.5,495.7 601.9,495.1 601.3,494.6 600.7,494.0 600.1,493.2 599.6,492.1 599.2,490.9 598.7,489.7 598.2,488.4 597.8,487.1 597.3,486.6 596.9,487.5 596.4,489.1 596.0,489.5 595.6,487.6 595.2,484.5 594.8,481.4 594.3,478.9 593.9,476.5 593.4,474.3 592.9,472.1 592.5,470.1 592.0,468.9 591.6,469.1 591.1,470.1 590.7,470.6 590.3,470.1 589.9,469.0 589.5,467.9 589.0,466.6 588.5,465.2 588.0,465.2 587.5,467.6 587.0,471.4 586.6,475.0 586.2,478.3 585.8,481.5 585.4,483.9 585.0,485.0 584.5,485.2 584.1,485.6 583.6,486.3 583.2,487.2 582.7,489.2 582.2,493.4 581.8,498.6 581.3,502.5 580.9,504.1 580.5,504.3 580.1,504.3 579.7,504.1 579.2,503.5 578.8,503.4 578.3,504.3 577.9,505.6 577.4,506.9 576.9,508.3 576.5,509.7 576.0,510.5 575.6,510.2 575.2,509.2 574.8,508.7 574.4,509.0 574.0,509.7 573.5,510.5 572.9,511.3 572.3,512.1 571.7,512.8 571.1,513.5 570.5,514.1 570.0,514.0 569.6,513.2 569.3,511.7 568.9,509.6 568.5,506.5 568.1,502.7 567.7,498.9 567.3,495.0 566.8,491.1 566.4,488.3 566.0,487.0 565.7,486.7 565.3,486.9 564.9,487.6 564.4,488.9 563.9,490.2 563.3,491.1 562.7,492.1 562.0,493.2 561.3,494.5 560.7,496.0 560.0,498.0 559.4,500.8 558.7,504.0 558.1,506.8 557.4,508.2 556.7,509.1 556.1,510.7 555.6,513.6 555.2,517.2 554.8,520.5 554.3,523.1 553.7,525.4 553.2,527.3 552.7,528.3 552.1,528.8 551.6,530.2 551.1,533.2 550.7,536.9 550.3,540.0 549.9,541.7 549.6,542.7 549.3,542.9 549.0,541.9 548.7,540.1 548.3,538.0 547.9,535.6 547.5,532.9 547.0,530.1 546.5,527.6 545.9,525.1 545.4,522.3 544.9,519.2 544.3,515.8 543.8,512.6 543.3,509.7 542.9,506.9 542.5,504.8 542.0,503.7 541.6,503.2 541.1,503.2 540.6,504.1 540.0,505.4 539.5,505.7 539.0,504.4 538.5,502.2 538.0,499.9 537.5,497.7 537.0,495.4 536.6,494.0 536.3,493.7 536.0,494.3 535.6,495.4 535.1,497.2 534.6,499.6 534.1,501.8 533.6,503.7 533.2,505.3 532.7,506.7 532.2,507.7 531.7,508.4 531.3,508.7 530.9,508.5 530.6,507.9 530.2,507.7 529.8,508.2 529.3,509.1 528.8,509.6 528.3,509.4 527.9,509.0 527.4,508.7 526.9,509.1 526.4,509.7 525.9,509.6 525.4,507.9 524.8,505.6 524.3,504.4 523.8,505.4 523.4,507.5 522.9,509.6 522.2,511.4 521.4,513.2 520.7,514.1 520.1,513.3 519.6,511.7 519.0,510.9 518.4,512.1 517.8,514.1 517.2,515.4 516.7,515.0 516.3,513.8 515.8,512.3 515.3,510.2 514.9,507.8 514.4,505.6 514.0,503.6 513.5,501.9 513.1,501.2 512.7,502.3 512.3,504.4 511.9,505.3 511.5,503.7 511.0,501.0 510.5,498.4 510.0,496.6 509.5,494.9 509.0,493.5 508.6,492.4 508.3,491.6 508.0,491.3 507.6,491.8 507.1,492.7 506.6,493.5 506.1,494.1 505.6,494.6 505.1,494.5 504.6,493.6 504.1,492.0 503.7,490.4 503.3,488.7 502.9,486.9 502.5,485.7 502.1,485.4 501.7,485.7 501.2,486.4 500.7,487.7 500.1,489.3 499.5,490.4 499.0,490.7 498.5,490.4 498.0,489.6 497.5,487.8 496.9,485.5 496.3,484.2 495.7,484.6 495.1,486.0 494.5,487.8 493.8,490.1 493.1,492.8 492.4,494.5 491.8,494.8 491.2,494.2 490.6,493.6 490.0,493.3 489.4,493.0 488.8,492.3 488.2,490.7 487.7,488.7 487.1,487.0 486.5,486.1 485.9,485.5 485.3,485.3 484.7,485.8 484.1,486.6 483.5,487.1 483.0,486.7 482.6,485.8 482.1,485.3 481.6,485.7 481.2,486.5 480.7,486.8 480.3,486.0 479.8,484.6 479.4,483.1 479.0,481.2 478.6,479.2 478.2,478.3 477.8,479.5 477.4,481.8 477.0,483.5 476.4,483.7 475.8,483.3 475.2,482.9 474.6,482.0 474.0,481.1 473.4,481.4 472.8,484.1 472.3,488.1 471.7,490.6 471.1,490.4 470.5,488.9 469.9,487.4 469.3,486.5 468.7,485.6 468.1,484.5 467.5,483.1 466.9,481.5 466.3,479.9 465.7,478.3 465.1,476.8 464.6,476.0 464.2,476.3 463.7,477.4 463.3,478.8 462.8,480.6 462.2,482.8 461.6,484.2 461.0,483.9 460.4,482.9 459.8,482.5 459.2,483.4 458.6,485.1 458.0,487.2 457.4,490.0 456.8,493.3 456.2,496.1 455.6,498.1 455.0,499.5 454.5,500.3 454.0,500.1 453.5,499.2 453.0,497.7 452.5,495.4 452.0,492.5 451.6,490.1 451.2,488.2 450.8,486.6 450.4,486.0 450.0,486.4 449.5,487.8 449.1,489.8 448.7,492.7 448.2,496.3 447.7,499.9 447.2,503.9 446.6,507.9 446.0,510.1 445.3,509.6 444.5,507.3 443.8,505.1 443.2,503.6 442.7,502.4 442.1,501.7 441.5,502.3 440.9,503.5 440.3,503.6 439.7,501.8 439.1,499.0 438.5,495.7 437.9,491.7 437.2,487.3 436.7,483.3 436.3,480.1 435.9,477.2 435.6,474.7 435.3,472.6 435.0,471.0 434.6,470.1 434.1,470.2 433.6,470.9 433.1,470.8 432.8,469.4 432.5,467.3 432.2,464.9 431.8,462.0 431.3,458.9 430.9,456.3 430.5,454.3 430.2,452.9 429.8,452.7 429.4,454.1 428.9,456.7 428.4,459.7 427.9,463.3 427.4,467.4 426.9,471.2 426.4,474.6 425.9,477.6 425.5,479.5 425.1,479.9 424.8,479.1 424.5,477.8 424.1,475.9 423.6,473.4 423.2,471.2 422.8,469.3 422.4,467.5 422.0,466.6 421.6,467.1 421.1,468.4 420.7,469.5 420.3,470.2 419.8,470.7 419.3,471.2 418.6,471.5 417.8,471.9 417.0,472.6 416.3,473.9 415.5,475.6 414.8,476.9 414.1,477.2 413.4,477.0 412.7,476.8 412.0,477.2 411.4,477.7 410.8,477.8 410.4,477.4 410.0,476.7 409.6,475.8 409.1,474.5 408.6,473.0 408.1,472.3 407.6,473.2 407.1,475.2 406.5,477.6 405.9,480.6 405.2,484.0 404.6,486.9 404.0,489.0 403.3,490.4 402.7,491.1 402.1,490.9 401.6,490.0 401.1,489.1 400.6,487.9 400.1,486.5 399.6,485.9 399.0,486.5 398.4,488.0 397.8,490.0 397.1,493.0 396.4,496.6 395.7,498.5 394.9,497.3 394.1,494.4 393.4,492.9 392.8,494.0 392.2,496.5 391.6,499.5 391.1,503.4 390.6,507.7 390.1,510.5 389.7,510.3 389.3,508.5 389.1,507.1" fill="#d8d8d8" stroke="none"/>
<polyline points="389.1,464.2 389.3,465.7 389.7,467.6 390.1,467.9 390.6,465.3 391.1,461.1 391.6,457.4 392.2,454.6 392.8,452.3 393.4,451.4 394.1,453.3 394.9,456.6 395.7,458.4 396.4,456.9 397.1,453.8 397.8,451.2 398.4,449.6 399.0,448.5 399.6,448.1 400.1,448.9 400.6,450.4 401.1,451.8 401.6,452.9 402.1,453.9 402.7,454.3 403.3,453.9 404.0,452.8 404.6,451.2 405.2,448.7 405.9,445.7 406.5,443.1 407.1,441.1 407.6,439.5 408.1,438.8 408.6,439.5 409.1,441.1 409.6,442.5 410.0,443.4 410.4,444.2 410.8,444.7 411.4,444.6 412.0,444.2 412.7,444.0 413.4,444.2 414.1,444.6 414.8,444.6 415.5,443.6 416.3,442.3 417.0,441.2 417.8,440.8 418.6,440.7 419.3,440.6 419.8,440.3 420.3,439.9 420.7,439.4 421.1,438.4 421.6,437.2 422.0,436.9 422.4,437.9 422.8,439.8 423.2,441.9 423.6,444.2 424.1,446.7 424.5,448.7 424.8,450.1 425.1,450.9 425.5,450.6 425.9,448.7 426.4,445.8 426.9,442.5 427.4,438.8 427.9,434.8 428.4,431.3 428.9,428.3 429.4,425.8 429.8,424.5 430.2,424.9 430.5,426.6 430.9,428.8 431.3,431.6 431.8,435.1 432.2,438.2 432.5,440.8 432.8,443.1 433.1,444.7 433.6,445.1 434.1,444.8 434.6,445.0 435.0,446.1 435.3,447.8 435.6,449.9 435.9,452.4 436.3,455.3 436.7,458.6 437.2,462.6 437.9,467.1 438.5,471.0 439.1,474.4 439.7,477.2 440.3,479.0 440.9,478.9 441.5,477.8 442.1,477.2 442.7,477.9 443.2,479.2 443.8,480.7 444.5,482.9 445.3,485.4 446.0,486.1 446.6,484.0 447.2,480.1 447.7,476.3 448.2,472.8 448.7,469.3 449.1,466.5 449.5,464.6 450.0,463.3 450.4,463.0 450.8,463.7 451.2,465.4 451.6,467.4 452.0,470.0 452.5,473.0 453.0,475.4 453.5,477.0 454.0,478.1 454.5,478.4 455.0,477.8 455.6,476.4 456.2,474.5 456.8,471.8 457.4,468.5 458.0,465.7 458.6,463.6 459.2,462.1 459.8,461.2 460.4,461.6 461.0,462.7 461.6,463.0 462.2,461.7 462.8,459.5 463.3,457.7 463.7,456.3 464.2,455.3 464.6,455.0 465.1,455.9 465.7,457.7 466.3,459.5 466.9,461.3 467.5,463.1 468.1,464.8 468.7,466.1 469.3,467.2 469.9,468.3 470.5,470.0 471.1,471.6 471.7,471.9 472.3,469.5 472.8,465.6 473.4,463.0 474.0,462.8 474.6,463.9 475.2,464.8 475.8,465.4 476.4,465.9 477.0,465.7 477.4,464.1 477.8,461.8 478.2,460.7 478.6,461.7 479.0,463.7 479.4,465.7 479.8,467.3 480.3,468.7 480.7,469.6 481.2,469.4 481.6,468.7 482.1,468.3 482.6,468.8 483.0,469.6 483.5,470.1 484.1,469.6 484.7,468.8 485.3,468.3 485.9,468.5 486.5,469.1 487.1,470.1 487.7,471.8 488.2,473.8 488.8,475.4 489.4,476.1 490.0,476.4 490.6,476.7 491.2,477.3 491.8,477.9 492.4,477.7 493.1,475.9 493.8,473.3 494.5,471.0 495.1,469.2 495.7,467.8 496.3,467.4 496.9,468.7 497.5,471.0 498.0,472.8 498.5,473.6 499.0,473.9 499.5,473.6 500.1,472.5 500.7,470.9 501.2,469.6 501.7,468.9 502.1,468.6 502.5,468.9 502.9,470.1 503.3,471.9 503.7,473.6 504.1,475.2 504.6,476.7 505.1,477.7 505.6,477.8 506.1,477.3 506.6,476.7 507.1,475.9 507.6,475.0 508.0,474.5 508.3,474.8 508.6,475.6 509.0,476.7 509.5,478.1 510.0,479.7 510.5,481.6 511.0,484.1 511.5,486.9 511.9,488.4 512.3,487.5 512.7,485.4 513.1,484.3 513.5,485.1 514.0,486.8 514.4,488.7 514.9,490.9 515.3,493.4 515.8,495.4 516.3,497.0 516.7,498.2 517.2,498.5 517.8,497.3 518.4,495.2 519.0,494.0 519.6,494.8 520.1,496.4 520.7,497.2 521.4,496.3 522.2,494.5 522.9,492.7 523.4,490.6 523.8,488.5 524.3,487.5 524.8,488.7 525.4,491.0 525.9,492.7 526.4,492.8 526.9,492.2 527.4,491.8 527.9,492.1 528.3,492.5 528.8,492.7 529.3,492.2 529.8,491.3 530.2,490.8 530.6,491.0 530.9,491.6 531.3,491.8 531.7,491.5 532.2,490.8 532.7,489.8 533.2,488.4 533.6,486.8 534.1,484.9 534.6,482.7 535.1,480.3 535.6,478.5 536.0,477.4 536.3,476.8 536.6,477.1 537.0,478.5 537.5,480.8 538.0,483.0 538.5,485.3 539.0,487.5 539.5,488.8 540.0,488.4 540.6,487.1 541.1,486.3 541.6,486.3 542.0,486.8 542.5,487.9 542.9,490.0 543.3,492.7 543.8,495.7 544.3,498.9 544.9,502.2 545.4,505.4 545.9,508.2 546.5,510.7 547.0,513.2 547.5,515.9 547.9,518.6 548.3,521.0 548.7,523.2 549.0,525.0 549.3,525.9 549.6,525.8 549.9,524.8 550.3,523.0 550.7,520.0 551.1,516.2 551.6,513.2 552.1,511.9 552.7,511.3 553.2,510.3 553.7,508.4 554.3,506.1 554.8,503.5 555.2,500.2 555.6,496.6 556.1,493.7 556.7,492.2 557.4,491.3 558.1,489.8 558.7,487.1 559.4,483.8 560.0,481.0 560.7,479.0 561.3,477.5 562.0,476.2 562.7,475.1 563.3,474.2 563.9,473.2 564.4,471.9 564.9,470.7 565.3,469.9 565.7,469.7 566.0,470.0 566.4,471.3 566.8,474.1 567.3,478.0 567.7,481.9 568.1,485.7 568.5,489.5 568.9,492.6 569.3,494.7 569.6,496.2 570.0,497.0 570.5,497.1 571.1,496.5 571.7,495.8 572.3,495.1 572.9,494.3 573.5,493.5 574.0,492.7 574.4,492.0 574.8,491.7 575.2,492.2 575.6,493.2 576.0,493.5 576.5,492.7 576.9,491.3 577.4,489.9 577.9,488.6 578.3,487.2 578.8,486.4 579.2,486.5 579.7,487.0 580.1,487.3 580.5,487.3 580.9,487.1 581.3,485.5 581.8,481.6 582.2,476.3 582.7,472.2 583.2,470.2 583.6,469.3 584.1,468.6 584.5,468.2 585.0,467.9 585.4,466.9 585.8,464.5 586.2,461.3 586.6,458.0 587.0,454.3 587.5,450.6 588.0,448.2 588.5,448.2 589.0,449.5 589.5,450.9 589.9,452.0 590.3,453.0 590.7,453.6 591.1,453.1 591.6,452.0 592.0,451.8 592.5,453.0 592.9,454.9 593.4,457.1 593.9,459.3 594.3,461.7 594.8,464.2 595.2,467.2 595.6,470.3 596.0,472.2 596.4,471.8 596.9,470.2 597.3,469.2 597.8,469.7 598.2,470.9 598.7,472.2 599.2,473.4 599.6,474.6 600.1,475.7 600.7,476.5 601.3,477.0 601.9,477.5 602.5,478.0 603.1,478.5 603.7,478.4 604.3,477.5 604.8,476.1 605.4,474.8 606.0,473.5 606.6,472.3 607.2,471.7 607.6,472.2 608.0,473.4 608.4,474.8 608.8,476.3 609.2,477.9 609.7,479.3 610.3,480.4 611.0,481.2 611.7,481.4 612.2,480.5 612.7,479.0 613.2,477.5 613.7,476.1 614.2,474.7 614.7,473.7 615.3,473.6 615.8,473.8 616.4,473.3 617.0,471.2 617.5,468.4 618.1,465.8 618.6,463.8 619.1,462.2 619.6,460.9 620.1,460.2 620.6,460.0 621.1,459.5 621.7,458.2 622.2,456.8 622.8,456.3 623.4,457.4 623.9,459.4 624.5,461.6 625.0,464.0 625.5,466.7 626.0,468.6 626.5,469.3 626.9,469.3 627.4,469.0 627.9,468.3 628.5,467.3 629.1,466.5 629.7,465.9 630.3,465.4 630.9,465.2 631.6,465.6 632.3,466.4 633.0,466.9 633.7,466.9 634.4,466.6 635.1,466.5 635.6,466.9 636.1,467.4 636.6,467.3 637.1,466.1 637.6,464.3 638.1,462.6 638.7,461.0 639.2,459.4 639.8,458.4 640.4,458.3 640.9,458.8 641.5,459.5 642.0,460.4 642.5,461.5 643.0,462.6 643.5,463.6 644.0,464.5 644.5,465.2 645.0,465.6 645.6,465.8 646.2,465.8 646.9,465.7 647.6,465.4 648.3,465.2 649.0,465.1 649.7,465.1 650.4,464.8 651.0,464.0 651.6,462.9 652.1,462.2 652.6,462.3 653.1,462.8 653.6,463.1 654.0,463.3 654.3,463.3 654.7,462.2 655.2,459.2 655.8,455.0 656.4,450.9 656.9,446.9 657.4,442.9 657.9,440.3 658.4,439.8 658.9,440.6 659.4,441.4 660.0,441.8 660.5,442.2 661.1,442.4 661.7,441.8 662.2,441.0 662.8,440.9 663.3,441.6 663.8,443.0 664.3,445.6 664.8,450.4 665.2,456.5 665.7,461.6 666.1,465.2 666.6,467.9 667.0,468.6 667.5,466.5 668.0,462.5 668.5,458.4 669.1,454.2 669.6,449.8 670.0,446.7" fill="none" stroke="#3778b6" stroke-width="1.25" stroke-linejoin="round" stroke-linecap="butt"/>
<polyline points="389.1,442.1 556.2,495.8 670.0,444.8" fill="none" stroke="#f38026" stroke-width="1.3" stroke-linejoin="round"/>
</g>
<rect x="375.4" y="390.4" width="308.05" height="159.55" fill="none" stroke="#505050" stroke-width="1.0"/>
<path d="M380.60 549.95v3.2 M415.72 549.95v3.2 M450.84 549.95v3.2 M485.96 549.95v3.2 M521.08 549.95v3.2 M556.20 549.95v3.2 M591.32 549.95v3.2 M626.44 549.95v3.2 M661.56 549.95v3.2 M375.40 548.65h-3.0 M375.40 524.30h-3.0 M375.40 499.95h-3.0 M375.40 475.60h-3.0 M375.40 451.25h-3.0 M375.40 426.90h-3.0 M375.40 402.55h-3.0" stroke="#505050" stroke-width="1.0" fill="none"/>
<text x="370.05" y="552.00" font-size="9.7" text-anchor="end" fill="#1a1a1a">-15</text>
<text x="370.05" y="527.65" font-size="9.7" text-anchor="end" fill="#1a1a1a">-10</text>
<text x="370.05" y="503.30" font-size="9.7" text-anchor="end" fill="#1a1a1a">-5</text>
<text x="370.05" y="478.95" font-size="9.7" text-anchor="end" fill="#1a1a1a">0</text>
<text x="370.05" y="454.60" font-size="9.7" text-anchor="end" fill="#1a1a1a">5</text>
<text x="370.05" y="430.25" font-size="9.7" text-anchor="end" fill="#1a1a1a">10</text>
<text x="370.05" y="405.90" font-size="9.7" text-anchor="end" fill="#1a1a1a">15</text>
<text x="380.60" y="563.6" font-size="9.7" text-anchor="middle" fill="#1a1a1a">1992</text>
<text x="415.72" y="563.6" font-size="9.7" text-anchor="middle" fill="#1a1a1a">1996</text>
<text x="450.84" y="563.6" font-size="9.7" text-anchor="middle" fill="#1a1a1a">2000</text>
<text x="485.96" y="563.6" font-size="9.7" text-anchor="middle" fill="#1a1a1a">2004</text>
<text x="521.08" y="563.6" font-size="9.7" text-anchor="middle" fill="#1a1a1a">2008</text>
<text x="556.20" y="563.6" font-size="9.7" text-anchor="middle" fill="#1a1a1a">2012</text>
<text x="591.32" y="563.6" font-size="9.7" text-anchor="middle" fill="#1a1a1a">2016</text>
<text x="626.44" y="563.6" font-size="9.7" text-anchor="middle" fill="#1a1a1a">2020</text>
<text x="661.56" y="563.6" font-size="9.7" text-anchor="middle" fill="#1a1a1a">2024</text>
<text x="375.80" y="386.10" font-size="13.6" font-weight="bold" fill="#000">f</text>
<text x="191.0" y="9.9" font-size="13.1" text-anchor="middle" fill="#1a1a1a">Full fit</text>
<text x="529.5" y="9.9" font-size="13.1" text-anchor="middle" fill="#1a1a1a">Linear trend removed</text>
<rect x="41.60" y="19.60" width="83.00" height="45.00" rx="2.2" fill="#fff" fill-opacity="0.8" stroke="#dcdcdc" stroke-width="0.8"/>
<line x1="45.2" y1="27.6" x2="65.9" y2="27.6" stroke="#3778b6" stroke-width="1.25"/>
<line x1="45.2" y1="41.6" x2="65.9" y2="41.6" stroke="#f38026" stroke-width="1.25"/>
<rect x="45.20" y="52.40" width="19.70" height="6.4" fill="#d8d8d8" stroke="#c8c8c8" stroke-width="0.5"/>
<text x="72.5" y="31.00" font-size="9.7" fill="#1a1a1a">observed</text>
<text x="72.5" y="45.00" font-size="9.7" fill="#1a1a1a">Linear fit</text>
<text x="72.5" y="59.00" font-size="9.7" fill="#1a1a1a">uncertainty</text>
<rect x="41.60" y="207.50" width="105.70" height="45.00" rx="2.2" fill="#fff" fill-opacity="0.8" stroke="#dcdcdc" stroke-width="0.8"/>
<line x1="45.2" y1="215.5" x2="65.9" y2="215.5" stroke="#3778b6" stroke-width="1.25"/>
<line x1="45.2" y1="229.5" x2="65.9" y2="229.5" stroke="#f38026" stroke-width="1.25"/>
<rect x="45.20" y="240.30" width="19.70" height="6.4" fill="#d8d8d8" stroke="#c8c8c8" stroke-width="0.5"/>
<text x="72.5" y="218.90" font-size="9.7" fill="#1a1a1a">observed</text>
<text x="72.5" y="232.90" font-size="9.7" fill="#1a1a1a">Linear + Accel fit</text>
<text x="72.5" y="246.90" font-size="9.7" fill="#1a1a1a">uncertainty</text>
<rect x="41.60" y="395.10" width="153.20" height="45.00" rx="2.2" fill="#fff" fill-opacity="0.8" stroke="#dcdcdc" stroke-width="0.8"/>
<line x1="45.2" y1="403.1" x2="65.9" y2="403.1" stroke="#3778b6" stroke-width="1.25"/>
<line x1="45.2" y1="417.1" x2="65.9" y2="417.1" stroke="#f38026" stroke-width="1.25"/>
<rect x="45.20" y="427.90" width="19.70" height="6.4" fill="#d8d8d8" stroke="#c8c8c8" stroke-width="0.5"/>
<text x="72.5" y="406.50" font-size="9.7" fill="#1a1a1a">observed</text>
<text x="72.5" y="420.50" font-size="9.7" fill="#1a1a1a" textLength="117.6" lengthAdjust="spacing">Piecewise at 2011-12-31 fit</text>
<text x="72.5" y="434.50" font-size="9.7" fill="#1a1a1a">uncertainty</text>
<rect x="380.50" y="123.80" width="93.80" height="45.50" rx="2.2" fill="#fff" fill-opacity="0.8" stroke="#dcdcdc" stroke-width="0.8"/>
<line x1="383.8" y1="132.2" x2="404.2" y2="132.2" stroke="#3778b6" stroke-width="1.25"/>
<line x1="383.8" y1="146.0" x2="404.2" y2="146.0" stroke="#f38026" stroke-width="1.25"/>
<rect x="383.80" y="156.70" width="19.40" height="6.4" fill="#d8d8d8" stroke="#c8c8c8" stroke-width="0.5"/>
<text x="411.2" y="135.60" font-size="9.7" fill="#1a1a1a">obs - linear</text>
<text x="411.2" y="149.40" font-size="9.7" fill="#1a1a1a">model - linear</text>
<text x="411.2" y="163.30" font-size="9.7" fill="#1a1a1a">uncertainty</text>
<rect x="380.50" y="311.70" width="93.80" height="45.50" rx="2.2" fill="#fff" fill-opacity="0.8" stroke="#dcdcdc" stroke-width="0.8"/>
<line x1="383.8" y1="320.1" x2="404.2" y2="320.1" stroke="#3778b6" stroke-width="1.25"/>
<line x1="383.8" y1="333.9" x2="404.2" y2="333.9" stroke="#f38026" stroke-width="1.25"/>
<rect x="383.80" y="344.60" width="19.40" height="6.4" fill="#d8d8d8" stroke="#c8c8c8" stroke-width="0.5"/>
<text x="411.2" y="323.50" font-size="9.7" fill="#1a1a1a">obs - linear</text>
<text x="411.2" y="337.30" font-size="9.7" fill="#1a1a1a">model - linear</text>
<text x="411.2" y="351.20" font-size="9.7" fill="#1a1a1a">uncertainty</text>
<rect x="380.50" y="499.50" width="93.80" height="45.50" rx="2.2" fill="#fff" fill-opacity="0.8" stroke="#dcdcdc" stroke-width="0.8"/>
<line x1="383.8" y1="507.9" x2="404.2" y2="507.9" stroke="#3778b6" stroke-width="1.25"/>
<line x1="383.8" y1="521.7" x2="404.2" y2="521.7" stroke="#f38026" stroke-width="1.25"/>
<rect x="383.80" y="532.40" width="19.40" height="6.4" fill="#d8d8d8" stroke="#c8c8c8" stroke-width="0.5"/>
<text x="411.2" y="511.30" font-size="9.7" fill="#1a1a1a">obs - linear</text>
<text x="411.2" y="525.10" font-size="9.7" fill="#1a1a1a">model - linear</text>
<text x="411.2" y="539.00" font-size="9.7" fill="#1a1a1a">uncertainty</text>
</g>
</svg>
</body></html>
